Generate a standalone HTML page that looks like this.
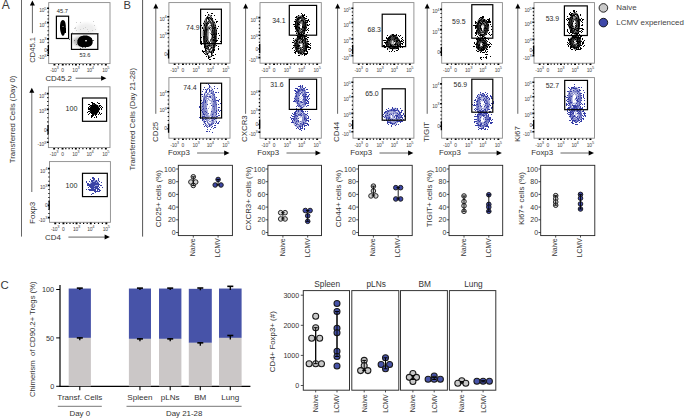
<!DOCTYPE html><html><head><meta charset="utf-8"><style>html,body{margin:0;padding:0;background:#fff;overflow:hidden}svg{display:block}text{font-family:"Liberation Sans",sans-serif}</style></head><body><svg width="685" height="418" viewBox="0 0 685 418" font-family="Liberation Sans, sans-serif"><rect width="685" height="418" fill="#fff"/><text x="1.70" y="8.90" font-size="12.0" fill="#3a3a3a">A</text><text x="123.60" y="8.70" font-size="11.2" fill="#3a3a3a">B</text><text x="0.50" y="288.50" font-size="11.4" fill="#3a3a3a">C</text><path d="M21.50 0.00L21.50 236.60" stroke="#666" stroke-width="1"/><text x="15.30" y="119.40" font-size="7.85" text-anchor="middle" fill="#333" transform="rotate(-90 15.30 119.40)">Transferred Cells (Day 0)</text><rect x="48.70" y="2.60" width="61.30" height="61.00" fill="none" stroke="#8a8a8a" stroke-width="0.9"/><path d="M53.5 63.9h1.9v1.6h-1.9zM61.8 63.9h1.9v1.6h-1.9zM75.0 63.9h1.9v1.6h-1.9zM89.3 63.9h1.9v1.6h-1.9zM104.9 63.9h1.9v1.6h-1.9zM58.0 64.0h1.2v1.2h-1.2zM65.4 64.0h1.2v1.2h-1.2zM68.7 64.0h1.2v1.2h-1.2zM72.0 64.0h1.2v1.2h-1.2zM78.9 64.0h1.2v1.2h-1.2zM82.5 64.0h1.2v1.2h-1.2zM86.0 64.0h1.2v1.2h-1.2zM93.5 64.0h1.2v1.2h-1.2zM97.4 64.0h1.2v1.2h-1.2zM101.3 64.0h1.2v1.2h-1.2zM47.1 7.5h1.9v1.6h-1.9zM47.1 21.8h1.9v1.6h-1.9zM47.1 38.1h1.9v1.6h-1.9zM47.1 49.3h1.9v1.6h-1.9zM47.1 54.4h1.9v1.6h-1.9zM47.5 11.4h1.2v1.1h-1.2zM47.5 14.9h1.2v1.1h-1.2zM47.5 18.5h1.2v1.1h-1.2zM47.5 26.2h1.2v1.1h-1.2zM47.5 30.2h1.2v1.1h-1.2zM47.5 34.3h1.2v1.1h-1.2zM47.5 42.1h1.2v1.1h-1.2zM47.5 45.9h1.2v1.1h-1.2zM47.5 52.2h1.2v1.1h-1.2zM47.7 45.1h1.3v9h-1.3z" fill="#000"/><defs><filter id="bl" x="-20%" y="-20%" width="140%" height="140%"><feGaussianBlur stdDeviation="0.55"/></filter><filter id="bl2" x="-30%" y="-30%" width="160%" height="160%"><feGaussianBlur stdDeviation="1.6"/></filter></defs><ellipse cx="86" cy="29" rx="10" ry="6" fill="#eeeeee" filter="url(#bl2)"/><path d="M76 30h1v1h-1zM94 25h1v1h-1zM75 28h1v1h-1zM90 33h1v1h-1zM76 22h1v1h-1zM92 30h1v1h-1zM98 33h1v1h-1zM85 27h1v1h-1zM80 22h1v1h-1zM87 29h1v1h-1zM83 28h1v1h-1zM88 31h1v1h-1zM95 29h1v1h-1zM72 32h1v1h-1zM75 27h1v1h-1zM74 28h1v1h-1zM80 29h1v1h-1zM93 21h1v1h-1z" fill="#d0d0d0"/><path d="M79 44h1v1h-1zM80 43h1v1h-1zM82 38h1v1h-1zM85 39h1v1h-1zM93 40h1v1h-1zM85 42h1v1h-1zM87 39h1v1h-1zM87 41h1v1h-1zM89 44h1v1h-1zM82 39h1v1h-1zM86 43h1v1h-1zM92 40h1v1h-1zM85 43h1v1h-1zM83 42h1v1h-1zM82 39h1v1h-1zM74 40h1v1h-1zM85 47h1v1h-1zM87 45h1v1h-1zM86 44h1v1h-1zM82 44h1v1h-1zM93 40h1v1h-1zM83 45h1v1h-1zM87 38h1v1h-1zM82 44h1v1h-1zM82 38h1v1h-1zM80 43h1v1h-1zM88 44h1v1h-1zM81 46h1v1h-1zM76 44h1v1h-1zM88 40h1v1h-1zM83 43h1v1h-1zM91 38h1v1h-1zM81 44h1v1h-1zM88 38h1v1h-1zM78 42h1v1h-1zM82 47h1v1h-1zM80 48h1v1h-1zM77 40h1v1h-1zM86 46h1v1h-1zM85 43h1v1h-1zM69 39h1v1h-1zM77 40h1v1h-1zM85 40h1v1h-1zM86 42h1v1h-1zM79 42h1v1h-1z" fill="#666"/><path d="M63 32h1v1h-1zM62 28h1v1h-1zM65 28h1v1h-1zM62 23h1v1h-1zM63 29h1v1h-1zM65 29h1v1h-1zM61 29h1v1h-1zM64 31h1v1h-1zM63 22h1v1h-1zM62 34h1v1h-1zM61 32h1v1h-1zM64 24h1v1h-1zM62 26h1v1h-1zM61 26h1v1h-1zM65 31h1v1h-1zM63 24h1v1h-1zM63 23h1v1h-1zM65 32h1v1h-1zM65 30h1v1h-1zM62 29h1v1h-1z" fill="#000"/><g filter="url(#bl)"><ellipse cx="81.5" cy="41.5" rx="8.5" ry="5" fill="#999" opacity="0.7" filter="url(#bl2)"/><path d="M62.9 20.0C65.3 20.0 65.9 24 65.8 28C65.6 32 64.1 35.8 62.9 35.8C61.7 35.8 60.2 32 60.0 28C59.9 24 60.5 20.0 62.9 20.0Z" fill="#000"/><path d="M77.3 42.5C77.3 37.5 81 35.6 85.2 35.6C89.6 35.6 92.7 38 92.7 42C92.7 45.5 89.5 47.2 85 47.2C80.5 47.2 77.3 46 77.3 42.5Z" fill="#000"/><ellipse cx="63" cy="26.5" rx="0.5" ry="0.5" fill="#fff"/><ellipse cx="86" cy="40.8" rx="1.0" ry="0.7" fill="#fff"/></g><rect x="56.40" y="16.20" width="12.20" height="22.30" fill="none" stroke="#000" stroke-width="1.2"/><rect x="71.50" y="33.80" width="26.30" height="15.60" fill="none" stroke="#000" stroke-width="1.2"/><text x="62.40" y="13.10" font-size="5.7" text-anchor="middle" fill="#2a2a2a">45.7</text><text x="85.00" y="56.70" font-size="5.7" text-anchor="middle" fill="#2a2a2a">53.6</text><text x="46.40" y="12.35" font-size="4.9" text-anchor="end" fill="#444" letter-spacing="-0.2">10<tspan dy="-2.7" font-size="4.02">5</tspan></text><text x="46.40" y="26.65" font-size="4.9" text-anchor="end" fill="#444" letter-spacing="-0.2">10<tspan dy="-2.7" font-size="4.02">4</tspan></text><text x="46.40" y="42.95" font-size="4.9" text-anchor="end" fill="#444" letter-spacing="-0.2">10<tspan dy="-2.7" font-size="4.02">3</tspan></text><text x="47.00" y="51.85" font-size="4.9" text-anchor="end" fill="#444">0</text><text x="46.40" y="59.25" font-size="4.9" text-anchor="end" fill="#444" letter-spacing="-0.2">-10<tspan dy="-2.7" font-size="4.02">3</tspan></text><text x="54.40" y="72.10" font-size="4.9" text-anchor="middle" fill="#444" letter-spacing="-0.2">-10<tspan dy="-2.7" font-size="4.02">3</tspan></text><text x="62.74" y="72.10" font-size="4.9" text-anchor="middle" fill="#444">0</text><text x="75.92" y="72.10" font-size="4.9" text-anchor="middle" fill="#444" letter-spacing="-0.2">10<tspan dy="-2.7" font-size="4.02">3</tspan></text><text x="90.20" y="72.10" font-size="4.9" text-anchor="middle" fill="#444" letter-spacing="-0.2">10<tspan dy="-2.7" font-size="4.02">4</tspan></text><text x="105.83" y="72.10" font-size="4.9" text-anchor="middle" fill="#444" letter-spacing="-0.2">10<tspan dy="-2.7" font-size="4.02">5</tspan></text><path d="M32.40 4.60L32.40 33.20" stroke="#555" stroke-width="0.9"/><path d="M29.90 5.60L32.40 0.60L34.90 5.60Z" fill="#000"/><text x="35.00" y="49.80" font-size="7.6" text-anchor="middle" fill="#333" transform="rotate(-90 35.00 49.80)">CD45.1</text><text x="45.40" y="81.00" font-size="7.85" fill="#333">CD45.2</text><path d="M75.60 78.20L102.40 78.20" stroke="#555" stroke-width="0.9"/><path d="M101.10 75.70L106.40 78.20L101.10 80.70Z" fill="#000"/><rect x="48.40" y="86.80" width="61.60" height="60.80" fill="none" stroke="#8a8a8a" stroke-width="0.9"/><path d="M53.2 147.9h1.9v1.6h-1.9zM61.6 147.9h1.9v1.6h-1.9zM74.9 147.9h1.9v1.6h-1.9zM89.2 147.9h1.9v1.6h-1.9zM104.9 147.9h1.9v1.6h-1.9zM57.7 148.0h1.2v1.2h-1.2zM65.2 148.0h1.2v1.2h-1.2zM68.5 148.0h1.2v1.2h-1.2zM71.8 148.0h1.2v1.2h-1.2zM78.7 148.0h1.2v1.2h-1.2zM82.3 148.0h1.2v1.2h-1.2zM85.9 148.0h1.2v1.2h-1.2zM93.4 148.0h1.2v1.2h-1.2zM97.4 148.0h1.2v1.2h-1.2zM101.3 148.0h1.2v1.2h-1.2zM46.8 92.8h1.9v1.6h-1.9zM46.8 108.6h1.9v1.6h-1.9zM46.8 129.3h1.9v1.6h-1.9zM46.8 141.5h1.9v1.6h-1.9zM47.2 97.1h1.2v1.1h-1.2zM47.2 101.0h1.2v1.1h-1.2zM47.2 105.0h1.2v1.1h-1.2zM47.2 113.0h1.2v1.1h-1.2zM47.2 117.2h1.2v1.1h-1.2zM47.2 121.3h1.2v1.1h-1.2zM47.2 125.5h1.2v1.1h-1.2zM47.2 133.7h1.2v1.1h-1.2zM47.2 137.7h1.2v1.1h-1.2zM47.4 125.1h1.3v9h-1.3z" fill="#000"/><path d="M93 105h1v1h-1zM88 104h1v1h-1zM94 110h1v1h-1zM93 114h1v1h-1zM95 111h1v1h-1zM99 106h1v1h-1zM87 112h1v1h-1zM92 114h1v1h-1zM96 113h1v1h-1zM97 102h1v1h-1zM97 107h1v1h-1zM92 108h1v1h-1zM97 112h1v1h-1zM98 103h1v1h-1zM94 111h1v1h-1zM92 110h1v1h-1zM95 113h1v1h-1zM91 106h1v1h-1zM92 116h1v1h-1zM98 109h1v1h-1zM95 110h1v1h-1zM95 109h1v1h-1zM93 105h1v1h-1zM92 115h1v1h-1zM96 110h1v1h-1zM94 110h1v1h-1zM96 107h1v1h-1zM95 110h1v1h-1zM92 106h1v1h-1zM91 105h1v1h-1zM93 107h1v1h-1zM92 110h1v1h-1zM98 110h1v1h-1zM94 107h1v1h-1zM94 113h1v1h-1zM93 105h1v1h-1zM90 105h1v1h-1zM89 113h1v1h-1zM96 108h1v1h-1zM100 107h1v1h-1zM97 112h1v1h-1zM89 104h1v1h-1zM91 113h1v1h-1zM99 105h1v1h-1zM98 108h1v1h-1zM93 107h1v1h-1zM93 103h1v1h-1zM91 105h1v1h-1zM96 117h1v1h-1zM88 108h1v1h-1zM91 116h1v1h-1zM96 107h1v1h-1zM98 111h1v1h-1zM88 107h1v1h-1zM93 109h1v1h-1zM95 108h1v1h-1zM95 107h1v1h-1zM91 115h1v1h-1zM96 111h1v1h-1zM89 109h1v1h-1zM97 105h1v1h-1zM98 108h1v1h-1zM96 109h1v1h-1zM95 114h1v1h-1zM93 115h1v1h-1zM91 106h1v1h-1zM97 105h1v1h-1zM93 113h1v1h-1zM99 103h1v1h-1zM96 116h1v1h-1zM99 108h1v1h-1zM92 108h1v1h-1zM90 108h1v1h-1zM94 109h1v1h-1zM99 108h1v1h-1zM89 113h1v1h-1zM90 108h1v1h-1zM94 108h1v1h-1zM91 108h1v1h-1zM102 107h1v1h-1zM94 113h1v1h-1zM97 112h1v1h-1zM97 102h1v1h-1zM91 110h1v1h-1zM96 114h1v1h-1zM96 108h1v1h-1zM94 109h1v1h-1zM95 112h1v1h-1zM93 106h1v1h-1zM91 113h1v1h-1zM99 113h1v1h-1zM97 112h1v1h-1zM94 112h1v1h-1zM91 109h1v1h-1zM92 112h1v1h-1zM92 109h1v1h-1zM96 114h1v1h-1zM91 106h1v1h-1zM97 105h1v1h-1zM96 107h1v1h-1zM94 103h1v1h-1zM97 107h1v1h-1zM91 117h1v1h-1zM96 108h1v1h-1zM95 115h1v1h-1zM94 111h1v1h-1zM96 106h1v1h-1zM95 107h1v1h-1zM90 112h1v1h-1zM97 110h1v1h-1zM91 102h1v1h-1zM96 109h1v1h-1zM88 109h1v1h-1zM89 109h1v1h-1zM95 111h1v1h-1zM95 110h1v1h-1zM90 108h1v1h-1zM92 108h1v1h-1zM95 112h1v1h-1zM96 109h1v1h-1zM88 111h1v1h-1zM92 113h1v1h-1zM91 109h1v1h-1zM94 109h1v1h-1zM92 103h1v1h-1zM96 113h1v1h-1zM94 106h1v1h-1zM95 111h1v1h-1zM94 109h1v1h-1zM99 105h1v1h-1zM92 102h1v1h-1zM92 107h1v1h-1zM91 107h1v1h-1zM101 109h1v1h-1zM94 117h1v1h-1zM94 103h1v1h-1zM96 106h1v1h-1zM100 105h1v1h-1zM92 104h1v1h-1zM95 106h1v1h-1zM94 108h1v1h-1zM92 113h1v1h-1zM98 110h1v1h-1zM91 105h1v1h-1zM93 106h1v1h-1zM92 105h1v1h-1zM91 109h1v1h-1zM99 109h1v1h-1zM92 103h1v1h-1zM95 109h1v1h-1zM90 105h1v1h-1zM94 113h1v1h-1zM97 110h1v1h-1zM93 110h1v1h-1zM94 117h1v1h-1zM90 108h1v1h-1zM99 108h1v1h-1zM99 109h1v1h-1zM95 108h1v1h-1zM89 106h1v1h-1zM96 113h1v1h-1zM96 113h1v1h-1zM93 108h1v1h-1zM98 108h1v1h-1zM90 108h1v1h-1zM92 112h1v1h-1zM92 105h1v1h-1zM93 115h1v1h-1zM94 110h1v1h-1zM94 110h1v1h-1zM98 114h1v1h-1zM88 114h1v1h-1zM94 108h1v1h-1zM101 113h1v1h-1zM91 111h1v1h-1zM97 109h1v1h-1zM94 105h1v1h-1zM101 108h1v1h-1zM93 108h1v1h-1zM91 107h1v1h-1zM95 110h1v1h-1zM92 109h1v1h-1zM89 111h1v1h-1zM92 110h1v1h-1zM91 107h1v1h-1zM95 105h1v1h-1zM94 107h1v1h-1zM100 114h1v1h-1zM95 104h1v1h-1zM92 112h1v1h-1zM92 105h1v1h-1zM90 107h1v1h-1zM94 107h1v1h-1zM101 106h1v1h-1zM96 110h1v1h-1zM94 113h1v1h-1zM93 108h1v1h-1zM93 109h1v1h-1zM99 112h1v1h-1zM89 108h1v1h-1z" fill="#000"/><ellipse cx="94.5" cy="109.3" rx="4.9" ry="5.4" fill="#000"/><rect x="82.50" y="98.00" width="24.10" height="23.30" fill="none" stroke="#000" stroke-width="1.2"/><text x="71.40" y="110.80" font-size="7.2" text-anchor="middle" fill="#2a2a2a">100</text><text x="46.10" y="97.65" font-size="4.9" text-anchor="end" fill="#444" letter-spacing="-0.2">10<tspan dy="-2.7" font-size="4.02">4</tspan></text><text x="46.10" y="113.45" font-size="4.9" text-anchor="end" fill="#444" letter-spacing="-0.2">10<tspan dy="-2.7" font-size="4.02">3</tspan></text><text x="46.70" y="131.85" font-size="4.9" text-anchor="end" fill="#444">0</text><text x="46.10" y="146.35" font-size="4.9" text-anchor="end" fill="#444" letter-spacing="-0.2">-10<tspan dy="-2.7" font-size="4.02">3</tspan></text><text x="54.13" y="155.70" font-size="4.9" text-anchor="middle" fill="#444" letter-spacing="-0.2">-10<tspan dy="-2.7" font-size="4.02">3</tspan></text><text x="62.51" y="155.70" font-size="4.9" text-anchor="middle" fill="#444">0</text><text x="75.75" y="155.70" font-size="4.9" text-anchor="middle" fill="#444" letter-spacing="-0.2">10<tspan dy="-2.7" font-size="4.02">3</tspan></text><text x="90.10" y="155.70" font-size="4.9" text-anchor="middle" fill="#444" letter-spacing="-0.2">10<tspan dy="-2.7" font-size="4.02">4</tspan></text><text x="105.81" y="155.70" font-size="4.9" text-anchor="middle" fill="#444" letter-spacing="-0.2">10<tspan dy="-2.7" font-size="4.02">5</tspan></text><rect x="49.50" y="161.60" width="60.90" height="60.70" fill="none" stroke="#8a8a8a" stroke-width="0.9"/><path d="M54.3 222.6h1.9v1.6h-1.9zM62.5 222.6h1.9v1.6h-1.9zM75.6 222.6h1.9v1.6h-1.9zM89.8 222.6h1.9v1.6h-1.9zM105.4 222.6h1.9v1.6h-1.9zM58.7 222.7h1.2v1.2h-1.2zM66.1 222.7h1.2v1.2h-1.2zM69.4 222.7h1.2v1.2h-1.2zM72.7 222.7h1.2v1.2h-1.2zM79.5 222.7h1.2v1.2h-1.2zM83.0 222.7h1.2v1.2h-1.2zM86.6 222.7h1.2v1.2h-1.2zM94.0 222.7h1.2v1.2h-1.2zM97.9 222.7h1.2v1.2h-1.2zM101.8 222.7h1.2v1.2h-1.2zM47.9 167.8h1.9v1.6h-1.9zM47.9 184.6h1.9v1.6h-1.9zM47.9 204.6h1.9v1.6h-1.9zM47.9 216.8h1.9v1.6h-1.9zM48.3 172.3h1.2v1.1h-1.2zM48.3 176.5h1.2v1.1h-1.2zM48.3 180.7h1.2v1.1h-1.2zM48.3 188.9h1.2v1.1h-1.2zM48.3 192.9h1.2v1.1h-1.2zM48.3 196.9h1.2v1.1h-1.2zM48.3 200.9h1.2v1.1h-1.2zM48.3 209.0h1.2v1.1h-1.2zM48.3 213.0h1.2v1.1h-1.2zM48.5 200.4h1.3v9h-1.3z" fill="#000"/><ellipse cx="94.4" cy="184.4" rx="5" ry="4.2" fill="#6a72c4" opacity="0.7" transform="rotate(-35 94.4 184.4)"/><path d="M91 188h1v1h-1zM94 189h1v1h-1zM93 178h1v1h-1zM95 186h1v1h-1zM96 180h1v1h-1zM94 183h1v1h-1zM91 187h1v1h-1zM95 182h1v1h-1zM91 190h1v1h-1zM93 177h1v1h-1zM90 187h1v1h-1zM100 190h1v1h-1zM95 186h1v1h-1zM90 184h1v1h-1zM92 182h1v1h-1zM94 184h1v1h-1zM95 191h1v1h-1zM96 187h1v1h-1zM93 180h1v1h-1zM93 187h1v1h-1zM90 190h1v1h-1zM92 187h1v1h-1zM92 181h1v1h-1zM97 183h1v1h-1zM95 182h1v1h-1zM92 189h1v1h-1zM101 182h1v1h-1zM94 189h1v1h-1zM91 188h1v1h-1zM91 188h1v1h-1zM95 190h1v1h-1zM95 181h1v1h-1zM96 181h1v1h-1zM96 191h1v1h-1zM96 183h1v1h-1zM98 186h1v1h-1zM89 184h1v1h-1zM99 184h1v1h-1zM94 184h1v1h-1zM87 183h1v1h-1zM95 186h1v1h-1zM93 177h1v1h-1zM98 188h1v1h-1zM97 190h1v1h-1zM92 183h1v1h-1zM95 192h1v1h-1zM87 184h1v1h-1zM91 187h1v1h-1zM99 184h1v1h-1zM89 185h1v1h-1zM93 179h1v1h-1zM97 183h1v1h-1zM96 180h1v1h-1zM98 180h1v1h-1zM98 178h1v1h-1zM99 184h1v1h-1zM88 184h1v1h-1zM95 182h1v1h-1zM92 186h1v1h-1zM92 187h1v1h-1zM95 189h1v1h-1zM97 186h1v1h-1zM98 189h1v1h-1zM94 183h1v1h-1zM97 187h1v1h-1zM86 181h1v1h-1zM95 186h1v1h-1zM95 188h1v1h-1zM94 191h1v1h-1zM91 184h1v1h-1zM95 188h1v1h-1zM97 191h1v1h-1zM92 190h1v1h-1zM95 181h1v1h-1zM93 193h1v1h-1zM97 184h1v1h-1zM91 186h1v1h-1zM95 182h1v1h-1zM89 185h1v1h-1zM92 183h1v1h-1zM98 186h1v1h-1zM89 190h1v1h-1zM92 180h1v1h-1zM95 187h1v1h-1zM92 188h1v1h-1zM97 182h1v1h-1zM93 190h1v1h-1zM97 191h1v1h-1zM101 185h1v1h-1zM98 179h1v1h-1zM96 187h1v1h-1zM93 184h1v1h-1zM89 186h1v1h-1zM98 184h1v1h-1zM96 183h1v1h-1zM95 181h1v1h-1zM95 184h1v1h-1zM95 183h1v1h-1zM89 184h1v1h-1zM98 191h1v1h-1zM92 188h1v1h-1zM96 187h1v1h-1zM88 187h1v1h-1zM90 190h1v1h-1zM97 188h1v1h-1zM96 180h1v1h-1zM97 186h1v1h-1zM93 183h1v1h-1zM90 184h1v1h-1zM94 183h1v1h-1zM91 183h1v1h-1zM90 189h1v1h-1zM93 189h1v1h-1zM89 189h1v1h-1zM93 188h1v1h-1zM93 182h1v1h-1zM98 184h1v1h-1zM93 182h1v1h-1zM94 184h1v1h-1zM95 187h1v1h-1zM91 180h1v1h-1zM95 189h1v1h-1zM96 181h1v1h-1zM96 187h1v1h-1zM95 187h1v1h-1zM92 186h1v1h-1zM97 183h1v1h-1zM88 185h1v1h-1zM94 178h1v1h-1zM91 188h1v1h-1zM93 186h1v1h-1zM89 189h1v1h-1zM100 185h1v1h-1zM91 181h1v1h-1zM97 186h1v1h-1zM91 190h1v1h-1zM97 188h1v1h-1zM87 185h1v1h-1zM96 181h1v1h-1zM97 191h1v1h-1zM98 183h1v1h-1zM91 189h1v1h-1zM97 190h1v1h-1zM98 185h1v1h-1zM92 178h1v1h-1zM92 183h1v1h-1zM96 187h1v1h-1zM88 183h1v1h-1zM91 189h1v1h-1zM99 191h1v1h-1zM89 184h1v1h-1zM91 184h1v1h-1zM96 181h1v1h-1zM99 190h1v1h-1zM92 193h1v1h-1zM94 190h1v1h-1zM95 183h1v1h-1zM92 185h1v1h-1zM96 186h1v1h-1zM92 183h1v1h-1zM91 180h1v1h-1zM90 189h1v1h-1zM94 185h1v1h-1zM95 189h1v1h-1zM96 188h1v1h-1zM91 184h1v1h-1zM91 185h1v1h-1zM90 184h1v1h-1zM93 184h1v1h-1zM93 183h1v1h-1zM99 184h1v1h-1zM90 186h1v1h-1zM89 181h1v1h-1zM94 179h1v1h-1zM98 179h1v1h-1zM90 187h1v1h-1zM86 182h1v1h-1zM89 185h1v1h-1zM86 189h1v1h-1zM93 186h1v1h-1zM92 177h1v1h-1zM93 180h1v1h-1zM94 182h1v1h-1zM92 184h1v1h-1zM97 188h1v1h-1zM90 185h1v1h-1zM99 187h1v1h-1zM91 185h1v1h-1zM92 189h1v1h-1zM94 187h1v1h-1zM90 179h1v1h-1zM88 189h1v1h-1zM95 191h1v1h-1zM86 182h1v1h-1zM99 189h1v1h-1zM97 189h1v1h-1zM94 185h1v1h-1zM94 189h1v1h-1zM93 187h1v1h-1zM99 181h1v1h-1zM91 187h1v1h-1zM93 185h1v1h-1zM102 187h1v1h-1zM92 189h1v1h-1zM91 186h1v1h-1zM91 194h1v1h-1zM96 184h1v1h-1zM95 182h1v1h-1zM91 186h1v1h-1zM95 190h1v1h-1z" fill="#3a42a6"/><rect x="82.50" y="173.30" width="24.80" height="23.30" fill="none" stroke="#000" stroke-width="1.2"/><text x="71.40" y="187.60" font-size="7.2" text-anchor="middle" fill="#2a2a2a">100</text><text x="47.20" y="172.65" font-size="4.9" text-anchor="end" fill="#444" letter-spacing="-0.2">10<tspan dy="-2.7" font-size="4.02">4</tspan></text><text x="47.20" y="189.45" font-size="4.9" text-anchor="end" fill="#444" letter-spacing="-0.2">10<tspan dy="-2.7" font-size="4.02">3</tspan></text><text x="47.80" y="207.15" font-size="4.9" text-anchor="end" fill="#444">0</text><text x="47.20" y="221.65" font-size="4.9" text-anchor="end" fill="#444" letter-spacing="-0.2">-10<tspan dy="-2.7" font-size="4.02">3</tspan></text><text x="55.16" y="230.90" font-size="4.9" text-anchor="middle" fill="#444" letter-spacing="-0.2">-10<tspan dy="-2.7" font-size="4.02">3</tspan></text><text x="63.45" y="230.90" font-size="4.9" text-anchor="middle" fill="#444">0</text><text x="76.54" y="230.90" font-size="4.9" text-anchor="middle" fill="#444" letter-spacing="-0.2">10<tspan dy="-2.7" font-size="4.02">3</tspan></text><text x="90.73" y="230.90" font-size="4.9" text-anchor="middle" fill="#444" letter-spacing="-0.2">10<tspan dy="-2.7" font-size="4.02">4</tspan></text><text x="106.26" y="230.90" font-size="4.9" text-anchor="middle" fill="#444" letter-spacing="-0.2">10<tspan dy="-2.7" font-size="4.02">5</tspan></text><path d="M31.80 91.70L31.80 192.00" stroke="#555" stroke-width="0.9"/><path d="M29.30 92.70L31.80 87.70L34.30 92.70Z" fill="#000"/><text x="35.40" y="212.80" font-size="8.0" text-anchor="middle" fill="#333" transform="rotate(-90 35.40 212.80)">Foxp3</text><text x="45.00" y="240.40" font-size="7.9" fill="#333">CD4</text><path d="M68.40 237.10L105.90 237.10" stroke="#555" stroke-width="0.9"/><path d="M104.60 234.60L109.90 237.10L104.60 239.60Z" fill="#000"/><path d="M142.60 0.00L142.60 236.60" stroke="#555" stroke-width="1"/><text x="135.40" y="119.20" font-size="7.78" text-anchor="middle" fill="#333" transform="rotate(-90 135.40 119.20)">Transferred Cells (Day 21-28)</text><rect x="168.90" y="2.60" width="61.10" height="60.60" fill="none" stroke="#8a8a8a" stroke-width="0.9"/><path d="M173.7 63.5h1.9v1.6h-1.9zM182.0 63.5h1.9v1.6h-1.9zM195.1 63.5h1.9v1.6h-1.9zM209.4 63.5h1.9v1.6h-1.9zM224.9 63.5h1.9v1.6h-1.9zM178.1 63.6h1.2v1.2h-1.2zM185.6 63.6h1.2v1.2h-1.2zM188.9 63.6h1.2v1.2h-1.2zM192.1 63.6h1.2v1.2h-1.2zM199.0 63.6h1.2v1.2h-1.2zM202.5 63.6h1.2v1.2h-1.2zM206.1 63.6h1.2v1.2h-1.2zM213.6 63.6h1.2v1.2h-1.2zM217.5 63.6h1.2v1.2h-1.2zM221.4 63.6h1.2v1.2h-1.2zM167.3 15.9h1.9v1.6h-1.9zM167.3 32.7h1.9v1.6h-1.9zM167.3 53.6h1.9v1.6h-1.9zM167.7 19.6h1.2v1.1h-1.2zM167.7 22.9h1.2v1.1h-1.2zM167.7 26.3h1.2v1.1h-1.2zM167.7 29.6h1.2v1.1h-1.2zM167.7 37.2h1.2v1.1h-1.2zM167.7 41.4h1.2v1.1h-1.2zM167.7 45.5h1.2v1.1h-1.2zM167.7 49.7h1.2v1.1h-1.2zM167.9 49.4h1.3v9h-1.3z" fill="#000"/><path d="M213 58h1v1h-1zM216 41h1v1h-1zM209 17h1v1h-1zM217 21h1v1h-1zM208 19h1v1h-1zM207 12h1v1h-1zM204 41h1v1h-1zM211 54h1v1h-1zM208 19h1v1h-1zM213 52h1v1h-1zM205 15h1v1h-1zM204 51h1v1h-1zM216 21h1v1h-1zM211 54h1v1h-1zM218 26h1v1h-1zM208 57h1v1h-1zM218 49h1v1h-1zM202 43h1v1h-1zM204 32h1v1h-1zM204 25h1v1h-1zM210 59h1v1h-1zM216 45h1v1h-1zM210 18h1v1h-1zM208 56h1v1h-1zM214 58h1v1h-1zM216 34h1v1h-1zM201 41h1v1h-1zM203 52h1v1h-1zM203 36h1v1h-1zM202 28h1v1h-1zM204 53h1v1h-1zM211 15h1v1h-1zM200 35h1v1h-1zM207 17h1v1h-1zM216 30h1v1h-1zM211 19h1v1h-1zM204 24h1v1h-1zM201 44h1v1h-1zM212 13h1v1h-1zM211 56h1v1h-1zM211 56h1v1h-1zM204 36h1v1h-1zM203 23h1v1h-1zM201 25h1v1h-1zM213 51h1v1h-1zM218 38h1v1h-1zM203 43h1v1h-1zM209 59h1v1h-1zM218 46h1v1h-1zM202 27h1v1h-1zM212 18h1v1h-1zM214 50h1v1h-1zM217 40h1v1h-1zM204 21h1v1h-1zM209 57h1v1h-1zM218 48h1v1h-1zM213 51h1v1h-1zM215 54h1v1h-1zM214 15h1v1h-1zM217 43h1v1h-1zM205 49h1v1h-1zM216 33h1v1h-1zM201 37h1v1h-1zM216 34h1v1h-1zM201 42h1v1h-1zM217 40h1v1h-1zM215 25h1v1h-1zM204 47h1v1h-1zM204 43h1v1h-1zM220 41h1v1h-1zM211 13h1v1h-1zM211 53h1v1h-1zM203 30h1v1h-1zM200 41h1v1h-1zM205 50h1v1h-1zM218 33h1v1h-1zM217 40h1v1h-1zM206 23h1v1h-1zM205 54h1v1h-1zM215 19h1v1h-1zM216 22h1v1h-1zM202 50h1v1h-1zM203 51h1v1h-1zM211 54h1v1h-1zM213 55h1v1h-1zM213 50h1v1h-1zM212 55h1v1h-1zM207 54h1v1h-1zM219 35h1v1h-1zM214 22h1v1h-1zM205 46h1v1h-1zM207 18h1v1h-1zM209 51h1v1h-1zM213 52h1v1h-1zM202 51h1v1h-1zM208 18h1v1h-1zM206 48h1v1h-1zM217 28h1v1h-1zM211 13h1v1h-1zM215 27h1v1h-1zM207 53h1v1h-1zM218 48h1v1h-1zM206 56h1v1h-1zM204 34h1v1h-1zM204 46h1v1h-1zM216 40h1v1h-1zM205 27h1v1h-1zM207 54h1v1h-1zM204 31h1v1h-1zM208 18h1v1h-1zM208 14h1v1h-1zM214 49h1v1h-1zM208 58h1v1h-1zM204 46h1v1h-1zM214 22h1v1h-1z" fill="#000"/><path d="M209 45h1v1h-1zM210 39h1v1h-1zM215 38h1v1h-1zM213 34h1v1h-1zM211 52h1v1h-1zM212 30h1v1h-1zM209 32h1v1h-1zM206 40h1v1h-1zM213 39h1v1h-1zM208 47h1v1h-1zM209 42h1v1h-1zM206 43h1v1h-1zM213 49h1v1h-1zM210 40h1v1h-1zM208 45h1v1h-1zM213 47h1v1h-1zM208 23h1v1h-1zM210 33h1v1h-1zM207 42h1v1h-1zM213 40h1v1h-1zM214 40h1v1h-1zM206 29h1v1h-1zM208 43h1v1h-1zM213 37h1v1h-1zM214 27h1v1h-1zM209 51h1v1h-1zM211 47h1v1h-1zM207 46h1v1h-1zM206 25h1v1h-1zM206 41h1v1h-1zM213 28h1v1h-1zM211 34h1v1h-1zM213 45h1v1h-1zM208 45h1v1h-1zM212 35h1v1h-1zM211 43h1v1h-1zM209 28h1v1h-1zM215 36h1v1h-1z" fill="#000"/><path d="M216.3 35.5L216.1 39.6L215.5 43.3L214.6 46.2L213.8 49.2L212.9 51.7L211.9 55.0L210.5 57.2L209.1 55.8L207.7 55.0L206.2 54.3L205.6 49.6L204.7 46.8L204.2 43.1L203.8 39.4L203.2 35.5L203.2 31.2L204.0 27.6L204.1 23.0L205.2 19.9L206.4 17.6L207.9 17.3L209.2 17.6L210.4 16.8L211.6 18.3L212.7 20.2L213.9 21.6L215.1 23.8L215.8 27.4L216.6 31.1ZM215.7 35.5L215.7 39.3L215.3 43.0L215.0 47.0L213.5 48.1L212.6 50.3L211.6 52.3L210.4 52.4L209.2 52.1L207.8 54.2L206.4 53.2L205.7 49.2L204.8 46.6L204.1 43.2L203.7 39.4L204.2 35.5L204.2 31.9L204.9 28.9L204.9 24.7L205.8 22.1L206.7 19.1L207.7 16.0L209.1 15.0L210.5 15.7L211.7 18.1L212.6 20.7L213.6 22.5L214.4 25.3L215.4 27.9L216.0 31.5ZM215.6 35.5L215.9 39.4L215.1 42.7L214.3 45.4L213.2 47.1L212.5 49.7L211.5 51.7L210.4 52.6L209.3 50.9L208.0 52.5L206.9 51.0L205.7 49.5L205.0 46.1L204.1 43.2L203.9 39.3L204.9 35.5L204.5 32.1L205.3 29.4L205.7 26.5L206.1 23.0L206.7 19.2L207.8 16.6L209.2 18.3L210.4 18.3L211.4 20.6L212.5 21.4L213.3 23.8L213.9 26.3L214.6 29.0L215.6 31.7ZM214.5 35.5L214.7 38.7L214.8 42.3L214.5 45.9L213.9 49.2L212.6 50.0L211.5 51.6L210.3 51.2L209.3 51.2L208.4 48.6L207.5 47.7L206.6 46.3L205.2 45.7L204.9 42.1L204.3 39.1L204.5 35.5L204.7 32.2L205.5 29.6L205.8 26.6L206.8 25.2L207.3 22.3L208.3 21.3L209.3 20.0L210.4 18.7L211.5 19.4L212.5 21.2L213.2 24.1L213.7 26.9L214.6 29.0L214.4 32.5ZM214.6 35.5L214.9 38.8L214.9 42.5L213.8 44.3L213.3 47.3L212.1 47.8L211.2 48.4L210.3 49.8L209.3 49.2L208.4 48.4L207.3 48.9L206.2 47.6L205.5 45.1L205.3 41.6L204.7 38.8L204.8 35.5L205.0 32.4L205.7 30.0L205.9 26.8L206.5 24.2L207.4 22.8L208.3 21.5L209.3 20.4L210.3 20.8L211.2 22.2L212.1 23.4L213.0 24.8L213.3 27.7L214.0 29.8L214.1 32.7ZM215.0 35.5L214.2 38.3L214.1 41.3L213.6 43.9L212.8 45.6L212.0 46.9L211.1 47.3L210.3 49.2L209.3 49.9L208.3 49.7L207.2 49.2L206.8 45.8L205.8 44.4L205.8 40.9L205.5 38.3L205.8 35.5L205.5 32.7L206.2 30.6L206.1 27.3L206.8 25.3L207.4 23.0L208.3 21.8L209.3 21.0L210.3 21.3L211.1 23.5L211.9 24.3L212.5 26.3L213.1 28.1L214.2 29.6L214.3 32.6ZM213.8 35.5L214.1 38.3L213.5 40.6L213.3 43.2L212.5 44.6L211.8 45.8L210.9 45.5L210.2 45.8L209.4 46.2L208.6 46.7L207.7 46.3L207.2 44.5L206.3 43.2L206.1 40.6L206.0 37.9L206.0 35.5L205.9 33.0L206.6 31.2L206.6 28.3L207.2 26.8L207.6 24.1L208.6 23.9L209.3 21.6L210.2 23.0L211.1 23.1L211.6 26.0L212.2 27.3L212.9 28.7L213.1 31.1L213.5 33.1ZM213.2 35.5L212.8 37.4L212.6 39.3L212.4 41.4L212.3 44.1L211.5 44.6L211.0 46.3L210.2 46.2L209.4 46.1L208.8 44.5L208.2 44.0L207.6 43.1L207.1 41.6L206.7 39.7L206.4 37.7L206.1 35.5L206.4 33.3L206.4 30.8L206.9 29.2L207.6 28.2L208.2 27.0L208.8 26.6L209.5 26.0L210.1 25.8L210.9 25.1L211.6 25.8L212.3 27.2L212.5 29.5L213.0 31.2L213.0 33.4ZM212.5 35.5L212.5 37.2L212.0 38.5L211.9 40.2L211.8 42.2L211.3 43.4L210.7 43.8L210.1 44.8L209.5 44.9L209.0 43.4L208.4 42.9L208.2 40.9L207.6 40.4L207.4 38.7L207.2 37.2L206.8 35.5L206.8 33.6L206.9 31.6L207.3 30.1L207.9 29.0L208.5 28.5L208.9 27.5L209.6 28.4L210.1 27.1L210.7 27.3L211.2 28.2L211.9 28.5L212.2 30.2L212.5 31.9L212.7 33.6ZM212.0 35.5L212.1 37.0L211.7 38.1L211.5 39.3L211.2 40.3L210.8 40.6L210.4 40.9L210.0 41.9L209.6 42.3L209.1 42.2L208.7 41.5L208.2 41.0L207.9 39.6L208.0 38.0L207.9 36.7L208.0 35.5L208.0 34.4L208.0 33.1L208.0 31.5L208.2 30.2L208.7 29.8L209.1 29.2L209.6 28.9L210.0 28.7L210.4 29.5L210.8 30.0L211.0 31.4L211.6 31.6L211.6 33.0L212.0 34.1Z" fill="none" stroke="#000" stroke-width="0.75"/><ellipse cx="209.80" cy="35.50" rx="0.83" ry="6.24" fill="#fff" opacity="0.85"/><rect x="200.60" y="9.20" width="20.80" height="34.40" fill="none" stroke="#000" stroke-width="1.2"/><text x="192.80" y="29.80" font-size="6.9" text-anchor="middle" fill="#2a2a2a">74.9</text><rect x="168.90" y="77.60" width="61.10" height="60.60" fill="none" stroke="#8a8a8a" stroke-width="0.9"/><path d="M173.7 138.5h1.9v1.6h-1.9zM182.0 138.5h1.9v1.6h-1.9zM195.1 138.5h1.9v1.6h-1.9zM209.4 138.5h1.9v1.6h-1.9zM224.9 138.5h1.9v1.6h-1.9zM178.1 138.6h1.2v1.2h-1.2zM185.6 138.6h1.2v1.2h-1.2zM188.9 138.6h1.2v1.2h-1.2zM192.1 138.6h1.2v1.2h-1.2zM199.0 138.6h1.2v1.2h-1.2zM202.5 138.6h1.2v1.2h-1.2zM206.1 138.6h1.2v1.2h-1.2zM213.6 138.6h1.2v1.2h-1.2zM217.5 138.6h1.2v1.2h-1.2zM221.4 138.6h1.2v1.2h-1.2zM167.3 90.9h1.9v1.6h-1.9zM167.3 107.4h1.9v1.6h-1.9zM167.3 127.9h1.9v1.6h-1.9zM167.7 95.3h1.2v1.1h-1.2zM167.7 99.5h1.2v1.1h-1.2zM167.7 103.6h1.2v1.1h-1.2zM167.7 111.8h1.2v1.1h-1.2zM167.7 115.9h1.2v1.1h-1.2zM167.7 120.0h1.2v1.1h-1.2zM167.7 124.1h1.2v1.1h-1.2zM167.9 123.7h1.3v9h-1.3z" fill="#000"/><path d="M216 92h1v1h-1zM213 128h1v1h-1zM203 114h1v1h-1zM205 123h1v1h-1zM204 94h1v1h-1zM202 94h1v1h-1zM213 123h1v1h-1zM207 89h1v1h-1zM214 119h1v1h-1zM218 100h1v1h-1zM205 121h1v1h-1zM219 107h1v1h-1zM209 89h1v1h-1zM206 126h1v1h-1zM215 125h1v1h-1zM200 118h1v1h-1zM202 118h1v1h-1zM199 106h1v1h-1zM204 126h1v1h-1zM210 129h1v1h-1zM207 131h1v1h-1zM207 131h1v1h-1zM206 90h1v1h-1zM217 100h1v1h-1zM209 86h1v1h-1zM203 113h1v1h-1zM203 116h1v1h-1zM199 117h1v1h-1zM207 129h1v1h-1zM206 92h1v1h-1zM203 116h1v1h-1zM216 97h1v1h-1zM202 117h1v1h-1zM214 86h1v1h-1zM202 96h1v1h-1zM218 122h1v1h-1zM216 118h1v1h-1zM203 124h1v1h-1zM206 91h1v1h-1zM218 92h1v1h-1zM219 111h1v1h-1zM202 111h1v1h-1zM202 112h1v1h-1zM205 89h1v1h-1zM220 103h1v1h-1zM218 107h1v1h-1zM214 88h1v1h-1zM206 83h1v1h-1zM217 116h1v1h-1zM202 120h1v1h-1zM212 132h1v1h-1zM212 126h1v1h-1zM215 123h1v1h-1zM209 91h1v1h-1zM214 127h1v1h-1zM202 91h1v1h-1zM209 131h1v1h-1zM208 84h1v1h-1zM216 121h1v1h-1zM220 110h1v1h-1zM219 99h1v1h-1zM218 110h1v1h-1zM201 103h1v1h-1zM217 123h1v1h-1zM207 127h1v1h-1zM216 122h1v1h-1zM214 119h1v1h-1zM202 106h1v1h-1zM211 90h1v1h-1zM204 116h1v1h-1zM211 127h1v1h-1zM201 100h1v1h-1zM214 94h1v1h-1zM214 94h1v1h-1zM218 104h1v1h-1zM202 119h1v1h-1zM217 88h1v1h-1zM204 116h1v1h-1zM215 127h1v1h-1zM209 85h1v1h-1zM214 125h1v1h-1zM216 110h1v1h-1zM206 131h1v1h-1zM203 89h1v1h-1zM218 113h1v1h-1zM216 116h1v1h-1zM218 123h1v1h-1zM205 125h1v1h-1zM204 87h1v1h-1zM218 101h1v1h-1zM199 107h1v1h-1zM203 119h1v1h-1zM209 90h1v1h-1zM204 122h1v1h-1zM201 110h1v1h-1zM202 116h1v1h-1zM219 115h1v1h-1zM218 115h1v1h-1zM202 102h1v1h-1zM211 124h1v1h-1zM204 121h1v1h-1zM202 109h1v1h-1zM209 87h1v1h-1zM218 109h1v1h-1zM216 104h1v1h-1zM201 94h1v1h-1zM203 124h1v1h-1zM204 121h1v1h-1zM202 94h1v1h-1zM206 126h1v1h-1zM200 105h1v1h-1zM216 113h1v1h-1zM209 126h1v1h-1zM212 89h1v1h-1zM215 92h1v1h-1zM207 129h1v1h-1zM219 121h1v1h-1zM213 91h1v1h-1z" fill="#343ca6"/><path d="M211 93h1v1h-1zM216 114h1v1h-1zM215 112h1v1h-1zM209 106h1v1h-1zM216 100h1v1h-1zM209 107h1v1h-1zM209 96h1v1h-1zM211 105h1v1h-1zM210 96h1v1h-1zM210 97h1v1h-1zM205 111h1v1h-1zM212 114h1v1h-1zM209 103h1v1h-1zM207 96h1v1h-1zM211 111h1v1h-1zM211 118h1v1h-1zM208 108h1v1h-1zM206 112h1v1h-1zM203 108h1v1h-1zM215 118h1v1h-1zM212 120h1v1h-1zM211 117h1v1h-1zM212 116h1v1h-1zM205 100h1v1h-1zM205 117h1v1h-1zM212 99h1v1h-1zM205 101h1v1h-1zM213 106h1v1h-1zM209 100h1v1h-1zM209 125h1v1h-1zM207 104h1v1h-1zM205 119h1v1h-1zM204 114h1v1h-1zM213 101h1v1h-1zM206 108h1v1h-1zM210 103h1v1h-1zM216 111h1v1h-1zM205 102h1v1h-1zM208 113h1v1h-1z" fill="#343ca6"/><path d="M216.6 107.5L216.9 111.9L215.9 115.4L215.9 120.4L214.3 122.3L212.9 124.0L211.6 125.7L210.2 126.0L208.9 124.2L207.4 125.6L206.0 124.2L204.4 123.3L203.1 120.5L202.4 116.3L202.4 111.7L201.8 107.5L202.6 103.4L203.7 100.3L204.0 96.3L204.9 93.4L206.2 91.7L207.4 89.2L208.8 88.3L210.3 86.4L211.7 88.5L213.0 90.8L213.9 93.9L214.5 97.5L215.4 100.2L215.7 103.9ZM216.2 107.5L216.1 111.4L215.8 115.3L214.2 117.0L213.7 120.6L212.7 122.7L211.4 124.0L210.2 125.3L208.8 126.7L207.4 125.9L205.9 124.6L204.7 122.4L204.0 118.6L204.1 114.2L204.1 110.7L203.1 107.5L203.7 104.0L203.4 99.9L204.3 97.0L204.9 93.3L206.1 91.1L207.3 88.9L208.8 88.3L210.1 90.4L211.4 91.5L212.4 93.6L213.4 95.4L215.0 96.3L215.3 100.4L216.7 103.2ZM214.6 107.5L215.2 110.9L214.2 113.3L214.2 117.0L213.3 119.3L212.9 123.7L211.4 123.8L210.2 125.8L208.9 123.0L207.7 123.1L207.0 119.8L206.2 117.8L205.0 116.6L203.8 114.5L203.4 111.1L202.9 107.5L203.0 103.7L203.8 100.4L205.0 98.3L205.7 95.6L206.9 95.0L207.8 93.1L208.9 92.6L210.1 91.6L211.3 92.2L212.7 91.9L213.7 94.5L214.5 97.3L214.6 101.1L215.1 104.2ZM215.1 107.5L214.4 110.4L213.7 112.7L213.4 115.4L212.9 118.0L212.3 121.1L211.4 123.5L210.1 124.5L208.9 124.2L207.7 122.9L206.8 120.7L205.9 118.5L205.9 114.8L205.0 113.1L204.3 110.6L203.9 107.5L203.9 104.2L204.2 100.9L204.6 97.6L206.1 97.0L206.9 95.0L207.8 93.3L209.0 95.0L210.0 94.6L211.2 92.9L212.4 93.4L213.0 96.6L213.8 98.7L214.9 100.8L215.0 104.3ZM214.1 107.5L214.0 110.1L213.6 112.6L212.7 113.9L212.3 116.0L211.9 119.3L211.1 121.3L210.0 122.0L209.0 121.0L208.1 119.9L207.3 118.3L206.8 115.8L205.9 114.8L205.7 112.2L205.1 110.1L204.8 107.5L204.9 104.7L204.8 101.7L205.5 99.4L206.4 98.0L207.1 95.8L208.2 96.6L209.1 96.4L209.9 96.1L210.9 95.8L211.9 95.7L212.7 97.7L213.4 99.7L214.1 101.8L214.0 104.8ZM213.2 107.5L213.3 109.7L212.6 111.3L212.3 113.1L211.9 114.9L211.4 116.6L210.8 118.6L209.9 119.3L209.0 119.4L208.3 118.1L207.7 116.1L207.0 115.4L206.8 113.0L206.4 111.4L205.9 109.6L205.3 107.5L205.6 105.2L205.8 102.9L206.0 100.3L206.6 98.6L207.6 98.5L208.4 98.5L209.1 97.2L209.9 97.1L210.6 97.9L211.5 97.7L212.2 99.2L212.8 100.9L213.3 102.8L213.6 105.1ZM212.6 107.5L212.0 109.0L212.0 110.6L211.6 111.8L211.2 112.8L211.0 115.0L210.4 115.1L209.8 115.8L209.1 116.8L208.5 116.3L207.9 115.2L207.7 113.2L207.1 112.3L207.2 110.4L206.7 109.2L206.4 107.5L206.7 105.8L206.8 104.1L206.9 102.2L207.3 100.7L208.0 100.1L208.6 99.4L209.2 100.0L209.8 100.2L210.3 100.6L210.9 100.8L211.7 100.8L211.9 102.7L212.3 104.1L212.5 105.7Z" fill="none" stroke="#343ca6" stroke-width="0.6"/><ellipse cx="209.50" cy="107.50" rx="1.12" ry="7.41" fill="#fff" opacity="0.85"/><rect x="200.60" y="83.20" width="21.00" height="34.80" fill="none" stroke="#000" stroke-width="1.2"/><text x="190.00" y="89.60" font-size="6.9" text-anchor="middle" fill="#2a2a2a">74.4</text><text x="166.50" y="20.75" font-size="4.9" text-anchor="end" fill="#444" letter-spacing="-0.2">10<tspan dy="-2.7" font-size="4.02">4</tspan></text><text x="166.50" y="37.55" font-size="4.9" text-anchor="end" fill="#444" letter-spacing="-0.2">10<tspan dy="-2.7" font-size="4.02">3</tspan></text><text x="167.10" y="56.15" font-size="4.9" text-anchor="end" fill="#444">0</text><text x="166.50" y="95.75" font-size="4.9" text-anchor="end" fill="#444" letter-spacing="-0.2">10<tspan dy="-2.7" font-size="4.02">4</tspan></text><text x="166.50" y="112.25" font-size="4.9" text-anchor="end" fill="#444" letter-spacing="-0.2">10<tspan dy="-2.7" font-size="4.02">3</tspan></text><text x="167.10" y="130.45" font-size="4.9" text-anchor="end" fill="#444">0</text><text x="174.58" y="72.10" font-size="4.9" text-anchor="middle" fill="#444" letter-spacing="-0.2">-10<tspan dy="-2.7" font-size="4.02">3</tspan></text><text x="182.89" y="72.10" font-size="4.9" text-anchor="middle" fill="#444">0</text><text x="196.03" y="72.10" font-size="4.9" text-anchor="middle" fill="#444" letter-spacing="-0.2">10<tspan dy="-2.7" font-size="4.02">3</tspan></text><text x="210.26" y="72.10" font-size="4.9" text-anchor="middle" fill="#444" letter-spacing="-0.2">10<tspan dy="-2.7" font-size="4.02">4</tspan></text><text x="225.85" y="72.10" font-size="4.9" text-anchor="middle" fill="#444" letter-spacing="-0.2">10<tspan dy="-2.7" font-size="4.02">5</tspan></text><text x="174.58" y="146.50" font-size="4.9" text-anchor="middle" fill="#444" letter-spacing="-0.2">-10<tspan dy="-2.7" font-size="4.02">3</tspan></text><text x="182.89" y="146.50" font-size="4.9" text-anchor="middle" fill="#444">0</text><text x="196.03" y="146.50" font-size="4.9" text-anchor="middle" fill="#444" letter-spacing="-0.2">10<tspan dy="-2.7" font-size="4.02">3</tspan></text><text x="210.26" y="146.50" font-size="4.9" text-anchor="middle" fill="#444" letter-spacing="-0.2">10<tspan dy="-2.7" font-size="4.02">4</tspan></text><text x="225.85" y="146.50" font-size="4.9" text-anchor="middle" fill="#444" letter-spacing="-0.2">10<tspan dy="-2.7" font-size="4.02">5</tspan></text><path d="M155.80 7.60L155.80 113.80" stroke="#555" stroke-width="0.9"/><path d="M153.30 8.60L155.80 3.60L158.30 8.60Z" fill="#000"/><text x="157.60" y="142.00" font-size="7.9" fill="#333" transform="rotate(-90 157.60 142.00)">CD25</text><text x="167.90" y="155.00" font-size="7.9" fill="#333">Foxp3</text><path d="M197.10 153.00L225.50 153.00" stroke="#555" stroke-width="0.9"/><path d="M224.20 150.50L229.50 153.00L224.20 155.50Z" fill="#000"/><rect x="260.00" y="2.60" width="61.30" height="60.60" fill="none" stroke="#8a8a8a" stroke-width="0.9"/><path d="M264.8 63.5h1.9v1.6h-1.9zM273.1 63.5h1.9v1.6h-1.9zM286.3 63.5h1.9v1.6h-1.9zM300.6 63.5h1.9v1.6h-1.9zM316.2 63.5h1.9v1.6h-1.9zM269.3 63.6h1.2v1.2h-1.2zM276.7 63.6h1.2v1.2h-1.2zM280.0 63.6h1.2v1.2h-1.2zM283.3 63.6h1.2v1.2h-1.2zM290.2 63.6h1.2v1.2h-1.2zM293.8 63.6h1.2v1.2h-1.2zM297.3 63.6h1.2v1.2h-1.2zM304.8 63.6h1.2v1.2h-1.2zM308.7 63.6h1.2v1.2h-1.2zM312.6 63.6h1.2v1.2h-1.2zM258.4 16.8h1.9v1.6h-1.9zM258.4 34.5h1.9v1.6h-1.9zM258.4 48.2h1.9v1.6h-1.9zM258.4 56.8h1.9v1.6h-1.9zM258.8 20.6h1.2v1.1h-1.2zM258.8 24.2h1.2v1.1h-1.2zM258.8 27.7h1.2v1.1h-1.2zM258.8 31.3h1.2v1.1h-1.2zM258.8 38.2h1.2v1.1h-1.2zM258.8 41.7h1.2v1.1h-1.2zM258.8 45.1h1.2v1.1h-1.2zM258.8 51.4h1.2v1.1h-1.2zM258.8 54.2h1.2v1.1h-1.2zM259.0 44.0h1.3v9h-1.3z" fill="#000"/><path d="M307 29h1v1h-1zM303 33h1v1h-1zM294 24h1v1h-1zM294 21h1v1h-1zM293 24h1v1h-1zM306 30h1v1h-1zM306 30h1v1h-1zM301 13h1v1h-1zM295 26h1v1h-1zM297 35h1v1h-1zM299 37h1v1h-1zM307 24h1v1h-1zM295 19h1v1h-1zM295 28h1v1h-1zM309 21h1v1h-1zM308 28h1v1h-1zM297 30h1v1h-1zM304 33h1v1h-1zM300 17h1v1h-1zM306 27h1v1h-1zM303 16h1v1h-1zM297 18h1v1h-1zM303 33h1v1h-1zM299 33h1v1h-1zM300 37h1v1h-1zM296 33h1v1h-1zM297 19h1v1h-1zM296 35h1v1h-1zM295 21h1v1h-1zM295 23h1v1h-1zM297 37h1v1h-1zM302 38h1v1h-1zM306 16h1v1h-1zM304 35h1v1h-1zM307 25h1v1h-1zM304 36h1v1h-1zM301 36h1v1h-1zM305 36h1v1h-1zM300 34h1v1h-1zM298 17h1v1h-1zM295 22h1v1h-1zM307 21h1v1h-1zM297 31h1v1h-1zM295 26h1v1h-1zM294 21h1v1h-1zM296 28h1v1h-1zM294 26h1v1h-1zM296 16h1v1h-1zM300 36h1v1h-1zM307 32h1v1h-1zM302 38h1v1h-1zM303 17h1v1h-1zM306 20h1v1h-1zM295 31h1v1h-1zM307 22h1v1h-1zM295 27h1v1h-1zM304 17h1v1h-1zM298 33h1v1h-1zM302 38h1v1h-1zM304 14h1v1h-1zM307 20h1v1h-1zM303 15h1v1h-1zM304 15h1v1h-1zM304 36h1v1h-1zM299 34h1v1h-1zM305 22h1v1h-1zM295 25h1v1h-1zM303 15h1v1h-1zM308 19h1v1h-1zM298 19h1v1h-1zM298 19h1v1h-1zM309 24h1v1h-1zM299 34h1v1h-1zM298 15h1v1h-1zM308 25h1v1h-1zM306 34h1v1h-1zM308 30h1v1h-1zM302 14h1v1h-1zM306 18h1v1h-1zM307 22h1v1h-1zM295 26h1v1h-1zM298 32h1v1h-1zM305 36h1v1h-1zM302 37h1v1h-1zM302 15h1v1h-1zM295 25h1v1h-1zM300 34h1v1h-1zM296 17h1v1h-1zM306 22h1v1h-1zM308 20h1v1h-1zM299 38h1v1h-1zM295 17h1v1h-1zM302 16h1v1h-1zM300 36h1v1h-1zM296 26h1v1h-1zM305 18h1v1h-1z" fill="#000"/><path d="M296 27h1v1h-1zM301 29h1v1h-1zM299 24h1v1h-1zM300 28h1v1h-1zM304 27h1v1h-1zM299 22h1v1h-1zM299 28h1v1h-1zM303 30h1v1h-1zM299 17h1v1h-1zM297 23h1v1h-1zM301 33h1v1h-1zM305 26h1v1h-1zM303 27h1v1h-1zM298 24h1v1h-1zM300 17h1v1h-1zM298 19h1v1h-1zM298 27h1v1h-1zM304 30h1v1h-1zM302 27h1v1h-1zM300 34h1v1h-1zM299 27h1v1h-1zM297 29h1v1h-1zM301 20h1v1h-1zM298 19h1v1h-1zM300 25h1v1h-1zM300 23h1v1h-1zM304 28h1v1h-1zM302 26h1v1h-1zM298 30h1v1h-1zM303 21h1v1h-1zM298 23h1v1h-1zM302 26h1v1h-1z" fill="#000"/><path d="M306.3 25.8L306.5 28.0L305.6 29.8L304.8 31.2L304.0 32.4L303.4 34.2L302.3 34.3L301.4 36.0L300.2 36.3L299.1 35.8L298.0 34.7L297.1 33.3L296.6 31.5L296.3 29.5L295.9 27.7L296.0 25.8L296.0 23.9L295.7 21.6L296.3 19.8L297.0 18.0L297.8 16.2L299.1 16.1L300.3 16.3L301.4 15.9L302.4 16.5L303.4 17.6L304.1 19.0L305.2 19.9L306.1 21.5L306.2 23.7ZM305.7 25.8L305.4 27.6L305.3 29.5L304.8 31.2L304.4 33.2L303.4 34.1L302.5 35.6L301.3 35.4L300.2 35.6L299.4 33.8L298.4 33.4L298.0 31.6L297.0 30.9L296.0 29.8L295.8 27.7L295.3 25.8L295.8 23.8L296.2 22.0L296.5 20.0L297.8 19.7L298.3 17.9L299.5 18.3L300.3 16.9L301.4 16.1L302.5 16.1L303.4 17.3L304.4 18.4L305.1 20.0L305.5 21.9L305.6 23.9ZM305.1 25.8L305.2 27.5L304.8 29.1L304.4 30.6L304.1 32.6L303.1 33.1L302.4 35.0L301.3 34.8L300.3 35.2L299.2 34.7L298.6 32.7L297.9 31.8L297.3 30.5L296.8 29.1L296.5 27.5L295.9 25.8L295.6 23.8L296.1 21.9L296.9 20.6L297.5 19.0L298.6 18.7L299.5 18.7L300.3 17.8L301.3 17.8L302.2 17.6L303.4 17.5L304.2 18.9L305.1 20.0L305.2 22.2L305.6 23.9ZM305.2 25.8L305.5 27.6L305.2 29.4L304.7 31.0L303.7 31.7L302.8 32.3L302.0 32.7L301.2 33.2L300.4 32.7L299.5 33.2L298.5 33.2L297.8 31.9L297.1 30.8L296.4 29.4L296.2 27.6L296.8 25.8L297.1 24.3L297.4 23.0L297.7 21.7L297.8 19.6L298.5 18.3L299.4 17.9L300.3 17.2L301.3 17.1L302.1 18.6L303.0 18.7L303.7 19.9L303.9 21.7L304.7 22.6L305.1 24.1ZM305.3 25.8L304.7 27.3L304.4 28.8L303.8 29.8L303.3 30.8L302.8 32.1L302.0 32.7L301.2 33.5L300.3 34.2L299.5 33.1L298.7 32.4L298.0 31.6L297.8 29.9L297.1 28.9L297.3 27.2L297.1 25.8L297.0 24.3L296.9 22.6L297.1 20.9L297.8 19.7L298.8 19.2L299.5 18.7L300.4 18.3L301.2 19.2L302.0 18.8L302.8 19.4L303.3 20.7L304.0 21.4L304.5 22.7L305.2 24.1ZM304.7 25.8L304.4 27.2L304.6 29.0L304.0 30.1L303.4 31.1L302.5 31.2L301.8 31.4L301.1 31.9L300.4 32.7L299.7 32.3L298.8 32.2L298.3 30.9L297.7 29.9L297.4 28.6L297.0 27.3L297.4 25.8L297.5 24.5L297.6 23.2L297.9 21.9L298.5 21.0L298.9 19.8L299.6 19.1L300.4 18.4L301.2 18.7L302.0 19.3L302.5 20.2L303.0 21.2L303.4 22.2L303.7 23.4L304.2 24.5ZM303.8 25.8L303.6 26.9L303.7 28.2L303.3 29.2L303.0 30.3L302.5 31.1L302.0 32.4L301.2 32.6L300.4 32.3L299.8 31.8L299.2 31.0L298.8 30.0L298.4 29.0L298.0 28.1L297.6 27.1L297.4 25.8L297.3 24.4L297.6 23.1L297.9 21.9L298.5 21.0L299.3 21.0L299.9 20.9L300.5 20.4L301.1 20.5L301.9 19.8L302.5 20.2L303.1 21.1L303.5 22.1L304.1 23.1L304.2 24.5ZM303.5 25.8L303.4 26.8L303.2 27.8L303.0 28.8L302.8 29.8L302.4 30.9L301.8 31.5L301.1 31.6L300.5 31.3L300.0 30.2L299.6 29.8L298.9 29.6L298.6 28.7L298.2 27.9L298.0 26.9L297.6 25.8L297.8 24.6L297.9 23.4L298.7 22.9L298.8 21.8L299.6 22.0L300.0 21.5L300.5 21.0L301.1 20.6L301.6 21.0L302.3 20.9L303.0 21.4L303.2 22.6L303.5 23.6L303.5 24.7ZM302.9 25.8L302.9 26.6L302.9 27.5L302.6 28.2L302.2 28.8L302.0 29.6L301.6 30.1L301.1 30.2L300.5 30.3L300.1 29.9L299.8 29.0L299.5 28.6L299.1 28.1L298.9 27.3L298.7 26.6L298.3 25.8L298.5 24.9L298.4 23.8L298.8 23.2L299.4 22.8L299.7 22.2L300.2 22.2L300.6 21.7L301.0 21.7L301.5 21.7L301.9 22.3L302.3 22.7L302.9 23.0L302.9 24.1L302.9 25.0ZM302.5 25.8L302.6 26.5L302.6 27.3L302.3 27.8L302.0 28.2L301.7 28.7L301.3 28.5L301.0 28.8L300.6 28.8L300.2 29.0L300.0 28.4L299.5 28.4L299.3 27.8L299.0 27.3L299.1 26.5L299.0 25.8L299.3 25.2L299.3 24.6L299.4 23.9L299.7 23.6L299.9 23.1L300.2 22.3L300.6 22.2L301.0 22.6L301.3 22.8L301.6 23.2L301.9 23.6L302.2 23.9L302.3 24.5L302.6 25.1Z" fill="none" stroke="#000" stroke-width="0.75"/><ellipse cx="300.80" cy="25.80" rx="0.69" ry="3.14" fill="#fff" opacity="0.85"/><path d="M297 36h1v1h-1zM295 52h1v1h-1zM295 45h1v1h-1zM294 45h1v1h-1zM295 43h1v1h-1zM310 47h1v1h-1zM296 51h1v1h-1zM306 53h1v1h-1zM307 41h1v1h-1zM293 45h1v1h-1zM302 35h1v1h-1zM301 53h1v1h-1zM300 37h1v1h-1zM305 39h1v1h-1zM304 53h1v1h-1zM306 36h1v1h-1zM301 34h1v1h-1zM300 38h1v1h-1zM304 38h1v1h-1zM304 51h1v1h-1zM310 47h1v1h-1zM296 50h1v1h-1zM310 48h1v1h-1zM293 38h1v1h-1zM307 47h1v1h-1zM300 53h1v1h-1zM306 50h1v1h-1zM297 39h1v1h-1zM305 53h1v1h-1zM296 50h1v1h-1zM294 41h1v1h-1zM295 51h1v1h-1zM309 47h1v1h-1zM303 53h1v1h-1zM310 45h1v1h-1zM295 40h1v1h-1zM292 42h1v1h-1zM306 51h1v1h-1zM299 36h1v1h-1zM298 34h1v1h-1zM308 47h1v1h-1zM299 55h1v1h-1zM303 35h1v1h-1zM307 41h1v1h-1zM294 52h1v1h-1zM302 37h1v1h-1zM310 43h1v1h-1zM306 38h1v1h-1zM293 38h1v1h-1zM307 39h1v1h-1zM308 37h1v1h-1zM305 36h1v1h-1zM307 43h1v1h-1zM294 50h1v1h-1zM307 53h1v1h-1zM309 49h1v1h-1zM300 53h1v1h-1zM296 40h1v1h-1zM292 48h1v1h-1zM308 44h1v1h-1zM295 53h1v1h-1zM304 55h1v1h-1zM304 54h1v1h-1zM298 51h1v1h-1zM307 45h1v1h-1zM298 52h1v1h-1zM309 44h1v1h-1zM309 49h1v1h-1zM302 54h1v1h-1zM299 34h1v1h-1zM308 41h1v1h-1zM298 53h1v1h-1zM298 55h1v1h-1zM293 47h1v1h-1zM306 54h1v1h-1zM307 43h1v1h-1zM296 40h1v1h-1zM308 47h1v1h-1zM305 54h1v1h-1zM293 40h1v1h-1zM307 43h1v1h-1zM306 49h1v1h-1zM292 48h1v1h-1zM298 36h1v1h-1zM305 38h1v1h-1zM307 51h1v1h-1zM308 46h1v1h-1zM307 46h1v1h-1zM308 49h1v1h-1zM307 52h1v1h-1zM304 37h1v1h-1zM307 52h1v1h-1zM300 34h1v1h-1zM293 42h1v1h-1zM307 37h1v1h-1zM308 43h1v1h-1zM302 35h1v1h-1z" fill="#000"/><path d="M300 45h1v1h-1zM298 45h1v1h-1zM297 41h1v1h-1zM300 45h1v1h-1zM304 50h1v1h-1zM302 41h1v1h-1zM297 46h1v1h-1zM302 40h1v1h-1zM305 42h1v1h-1zM298 48h1v1h-1zM305 46h1v1h-1zM306 48h1v1h-1zM302 47h1v1h-1zM297 48h1v1h-1zM301 39h1v1h-1zM300 49h1v1h-1zM303 43h1v1h-1zM299 45h1v1h-1zM301 43h1v1h-1zM300 42h1v1h-1zM296 47h1v1h-1zM300 47h1v1h-1zM301 42h1v1h-1zM306 46h1v1h-1zM302 42h1v1h-1zM306 47h1v1h-1zM298 46h1v1h-1zM303 43h1v1h-1zM300 43h1v1h-1zM299 42h1v1h-1zM301 43h1v1h-1zM299 45h1v1h-1z" fill="#000"/><path d="M307.5 44.8L307.0 46.7L306.0 48.0L305.7 49.8L304.9 51.1L304.0 52.4L303.1 54.2L301.7 54.8L300.3 54.1L299.1 53.5L297.9 52.7L297.0 51.3L296.4 49.6L296.1 48.0L295.5 46.5L295.0 44.8L294.2 42.7L294.9 40.8L295.5 39.0L296.8 38.1L298.0 37.3L299.3 37.2L300.4 35.9L301.6 36.3L302.8 37.0L304.3 36.6L305.5 37.6L306.5 39.0L307.3 40.7L307.3 42.8ZM306.9 44.8L306.5 46.5L306.6 48.4L306.0 50.0L305.2 51.5L304.0 52.4L302.9 53.1L301.6 52.7L300.4 52.4L299.2 52.7L298.1 52.1L297.0 51.2L295.9 50.2L295.4 48.4L294.7 46.7L295.1 44.8L295.4 43.1L296.2 41.7L296.4 39.9L297.1 38.6L298.3 38.1L299.3 37.0L300.4 36.6L301.6 36.3L303.0 35.9L304.3 36.6L304.7 38.9L305.4 40.2L306.2 41.5L306.0 43.3ZM306.0 44.8L306.3 46.4L305.9 48.0L305.6 49.6L304.9 51.1L303.8 51.8L302.8 52.7L301.5 51.8L300.5 52.3L299.4 52.1L298.5 51.1L297.6 50.3L296.7 49.3L296.0 48.0L295.0 46.7L295.1 44.8L296.0 43.3L296.2 41.7L296.8 40.4L297.7 39.5L298.6 38.8L299.4 37.4L300.4 36.8L301.7 35.8L302.8 36.8L304.1 37.1L304.9 38.5L305.3 40.3L305.3 42.0L306.2 43.2ZM306.3 44.8L306.0 46.3L305.7 47.8L305.3 49.3L304.2 50.0L303.6 51.4L302.5 51.4L301.5 52.0L300.5 52.3L299.4 52.1L298.3 51.6L297.4 50.7L296.4 49.7L296.0 48.0L296.3 46.3L296.1 44.8L296.5 43.4L296.7 42.0L297.0 40.5L297.5 39.2L298.3 38.1L299.2 36.9L300.4 36.5L301.5 37.6L302.5 38.1L303.2 39.1L304.0 40.0L305.1 40.5L305.3 42.0L305.9 43.3ZM305.8 44.8L305.3 46.1L305.2 47.5L304.4 48.4L304.1 49.9L303.4 50.9L302.4 51.0L301.5 52.1L300.5 51.7L299.4 52.1L298.8 50.4L298.1 49.5L297.3 48.7L297.0 47.4L296.5 46.2L296.4 44.8L296.2 43.3L296.6 42.0L296.9 40.5L297.8 39.6L298.5 38.6L299.7 38.9L300.6 38.9L301.4 38.9L302.4 38.7L303.3 38.9L304.0 40.0L305.4 40.2L305.9 41.6L305.8 43.3ZM305.9 44.8L305.9 46.3L305.0 47.4L304.7 48.7L304.0 49.6L303.2 50.3L302.2 50.0L301.4 50.3L300.6 50.6L299.7 50.7L298.5 51.0L297.7 50.2L297.3 48.7L297.2 47.3L297.0 46.0L297.1 44.8L297.0 43.6L297.1 42.3L297.4 41.0L298.0 40.0L298.7 39.0L299.6 38.4L300.5 38.3L301.5 38.5L302.3 38.8L303.1 39.5L303.6 40.6L304.3 41.3L304.7 42.4L305.1 43.5ZM305.0 44.8L304.5 45.9L304.1 46.8L303.8 47.8L303.6 48.9L302.9 49.6L302.1 49.7L301.4 50.4L300.6 50.6L299.8 50.4L299.1 49.6L298.4 49.0L297.9 48.1L297.8 46.9L297.7 45.8L297.6 44.8L297.6 43.7L297.2 42.3L297.8 41.4L298.1 40.2L298.9 39.5L299.9 39.8L300.6 39.8L301.4 39.8L302.1 39.7L302.9 40.0L303.5 40.8L304.2 41.4L304.7 42.4L305.0 43.6ZM303.9 44.8L304.2 45.8L304.2 46.9L303.8 47.8L303.5 48.9L302.9 49.5L302.0 49.3L301.4 49.9L300.7 49.1L300.0 49.2L299.6 48.4L299.0 48.1L298.4 47.6L297.7 46.9L297.5 45.9L297.6 44.8L297.4 43.7L297.8 42.7L298.5 42.1L299.1 41.8L299.5 41.1L300.1 40.6L300.7 40.1L301.4 39.5L302.1 39.9L302.9 40.1L303.2 41.3L303.6 42.1L304.0 42.9L303.9 43.9ZM303.7 44.8L303.6 45.6L303.5 46.4L303.1 47.1L302.7 47.5L302.2 47.9L301.7 48.1L301.2 48.2L300.7 48.8L300.2 48.6L299.6 48.4L299.1 47.8L298.8 47.1L298.8 46.2L298.6 45.5L298.6 44.8L298.7 44.1L298.8 43.4L298.8 42.5L299.3 42.0L299.5 41.0L300.1 40.9L300.7 40.9L301.3 41.0L301.7 41.6L302.1 41.9L302.7 42.0L303.1 42.6L303.5 43.2L303.7 44.0ZM302.9 44.8L303.0 45.4L302.9 46.0L302.8 46.7L302.5 47.2L302.1 47.6L301.7 47.8L301.2 47.8L300.8 47.7L300.4 47.5L300.0 47.3L299.6 47.0L299.5 46.4L299.0 46.1L298.8 45.5L298.8 44.8L298.7 44.1L299.2 43.6L299.4 43.1L299.7 42.8L300.0 42.2L300.4 42.3L300.8 41.9L301.2 41.9L301.7 41.7L302.1 42.0L302.5 42.4L302.6 43.1L302.9 43.5L302.7 44.3Z" fill="none" stroke="#000" stroke-width="0.75"/><ellipse cx="301.00" cy="44.80" rx="0.81" ry="2.88" fill="#fff" opacity="0.85"/><rect x="289.30" y="5.40" width="27.30" height="29.80" fill="none" stroke="#000" stroke-width="1.2"/><text x="278.90" y="23.00" font-size="6.9" text-anchor="middle" fill="#2a2a2a">34.1</text><rect x="260.00" y="77.60" width="61.30" height="60.60" fill="none" stroke="#8a8a8a" stroke-width="0.9"/><path d="M264.8 138.5h1.9v1.6h-1.9zM273.1 138.5h1.9v1.6h-1.9zM286.3 138.5h1.9v1.6h-1.9zM300.6 138.5h1.9v1.6h-1.9zM316.2 138.5h1.9v1.6h-1.9zM269.3 138.6h1.2v1.2h-1.2zM276.7 138.6h1.2v1.2h-1.2zM280.0 138.6h1.2v1.2h-1.2zM283.3 138.6h1.2v1.2h-1.2zM290.2 138.6h1.2v1.2h-1.2zM293.8 138.6h1.2v1.2h-1.2zM297.3 138.6h1.2v1.2h-1.2zM304.8 138.6h1.2v1.2h-1.2zM308.7 138.6h1.2v1.2h-1.2zM312.6 138.6h1.2v1.2h-1.2zM258.4 90.6h1.9v1.6h-1.9zM258.4 109.2h1.9v1.6h-1.9zM258.4 123.7h1.9v1.6h-1.9zM258.4 131.3h1.9v1.6h-1.9zM258.8 94.6h1.2v1.1h-1.2zM258.8 98.3h1.2v1.1h-1.2zM258.8 102.1h1.2v1.1h-1.2zM258.8 105.8h1.2v1.1h-1.2zM258.8 113.1h1.2v1.1h-1.2zM258.8 116.8h1.2v1.1h-1.2zM258.8 120.4h1.2v1.1h-1.2zM258.8 127.8h1.2v1.1h-1.2zM259.0 119.5h1.3v9h-1.3z" fill="#000"/><path d="M302 109h1v1h-1zM306 89h1v1h-1zM300 106h1v1h-1zM299 86h1v1h-1zM308 102h1v1h-1zM296 96h1v1h-1zM295 99h1v1h-1zM307 105h1v1h-1zM306 94h1v1h-1zM295 101h1v1h-1zM298 90h1v1h-1zM298 106h1v1h-1zM295 99h1v1h-1zM294 90h1v1h-1zM308 92h1v1h-1zM304 90h1v1h-1zM301 108h1v1h-1zM297 89h1v1h-1zM296 108h1v1h-1zM299 105h1v1h-1zM306 102h1v1h-1zM300 85h1v1h-1zM307 100h1v1h-1zM301 110h1v1h-1zM306 92h1v1h-1zM308 105h1v1h-1zM308 96h1v1h-1zM294 100h1v1h-1zM302 87h1v1h-1zM300 108h1v1h-1zM298 89h1v1h-1zM298 91h1v1h-1zM307 96h1v1h-1zM302 110h1v1h-1zM309 94h1v1h-1zM305 87h1v1h-1zM304 88h1v1h-1zM308 103h1v1h-1zM305 87h1v1h-1zM306 100h1v1h-1zM300 87h1v1h-1zM307 89h1v1h-1zM294 101h1v1h-1zM297 88h1v1h-1zM296 106h1v1h-1zM308 103h1v1h-1zM300 86h1v1h-1zM296 100h1v1h-1zM294 101h1v1h-1zM296 95h1v1h-1zM307 98h1v1h-1zM301 107h1v1h-1zM302 107h1v1h-1zM298 86h1v1h-1zM299 90h1v1h-1zM306 89h1v1h-1zM300 87h1v1h-1zM297 105h1v1h-1zM307 103h1v1h-1zM308 101h1v1h-1zM307 92h1v1h-1zM295 90h1v1h-1zM308 95h1v1h-1zM307 97h1v1h-1zM308 99h1v1h-1zM296 88h1v1h-1zM296 91h1v1h-1zM309 98h1v1h-1zM295 88h1v1h-1zM295 91h1v1h-1zM302 85h1v1h-1zM293 101h1v1h-1zM297 102h1v1h-1zM298 106h1v1h-1zM307 97h1v1h-1zM300 109h1v1h-1zM306 103h1v1h-1zM297 103h1v1h-1zM296 92h1v1h-1zM303 88h1v1h-1zM307 96h1v1h-1zM295 96h1v1h-1zM307 98h1v1h-1zM306 92h1v1h-1zM294 98h1v1h-1zM300 108h1v1h-1zM307 101h1v1h-1zM299 109h1v1h-1zM302 86h1v1h-1zM295 91h1v1h-1zM301 89h1v1h-1zM306 106h1v1h-1zM305 87h1v1h-1zM302 89h1v1h-1zM295 93h1v1h-1zM297 92h1v1h-1z" fill="#343ca6"/><path d="M305 96h1v1h-1zM300 99h1v1h-1zM300 94h1v1h-1zM302 102h1v1h-1zM299 95h1v1h-1zM303 96h1v1h-1zM302 95h1v1h-1zM300 97h1v1h-1zM305 104h1v1h-1zM301 98h1v1h-1zM301 96h1v1h-1zM298 98h1v1h-1zM306 99h1v1h-1zM305 99h1v1h-1zM305 94h1v1h-1zM305 103h1v1h-1zM300 93h1v1h-1zM302 90h1v1h-1zM298 101h1v1h-1zM301 102h1v1h-1zM303 94h1v1h-1zM301 92h1v1h-1zM301 98h1v1h-1zM306 96h1v1h-1zM305 97h1v1h-1zM303 99h1v1h-1zM305 100h1v1h-1zM300 101h1v1h-1zM301 101h1v1h-1zM305 99h1v1h-1zM298 100h1v1h-1zM304 96h1v1h-1z" fill="#343ca6"/><path d="M306.0 97.6L305.7 99.5L305.5 101.4L305.6 103.9L305.0 106.1L303.6 106.3L302.7 107.8L301.5 107.0L300.5 107.3L299.4 106.9L298.4 106.0L297.7 104.5L296.9 103.2L295.5 102.2L295.1 100.0L295.0 97.6L295.6 95.4L296.6 93.9L297.0 92.2L297.5 90.3L298.7 90.2L299.5 88.7L300.5 88.3L301.6 86.5L302.7 87.6L303.7 88.9L304.6 90.1L305.0 92.1L305.5 93.8L305.9 95.6ZM305.2 97.6L305.4 99.4L304.9 100.8L304.8 102.8L304.5 105.0L303.5 105.8L302.7 107.5L301.5 106.9L300.5 106.8L299.5 106.5L298.9 104.4L298.0 103.9L297.3 102.7L296.5 101.4L295.8 99.7L295.6 97.6L296.1 95.6L296.5 93.8L297.0 92.1L297.9 91.2L298.7 90.1L299.7 90.1L300.5 88.7L301.5 88.8L302.4 89.2L303.5 89.6L304.8 89.7L305.4 91.6L305.8 93.6L305.6 95.8ZM305.2 97.6L305.7 99.5L305.7 101.5L304.7 102.7L303.9 103.7L303.1 104.5L302.2 104.7L301.5 105.7L300.6 105.4L299.7 105.1L298.9 104.4L297.8 104.2L297.3 102.6L296.9 101.1L296.3 99.5L296.4 97.6L296.6 95.8L297.0 94.3L297.9 93.3L298.3 91.9L298.9 90.8L299.6 89.3L300.5 89.3L301.5 88.1L302.5 89.0L303.4 89.9L303.9 91.6L304.6 92.7L305.0 94.3L305.4 95.9ZM304.5 97.6L304.7 99.1L304.4 100.5L304.6 102.5L303.9 103.7L303.3 105.2L302.3 104.9L301.4 105.1L300.6 105.2L299.8 104.8L299.1 104.0L298.3 103.3L297.5 102.4L297.3 100.7L296.7 99.3L297.0 97.6L296.8 95.9L297.1 94.3L297.9 93.3L298.7 92.7L299.1 91.4L299.9 91.2L300.6 90.1L301.4 90.2L302.3 89.9L303.3 90.2L303.9 91.5L304.4 92.9L304.5 94.7L304.6 96.2ZM304.8 97.6L304.7 99.1L304.4 100.5L303.8 101.5L303.4 102.6L302.6 102.8L301.9 103.1L301.3 103.2L300.7 103.7L300.0 103.4L299.1 103.8L298.5 102.9L297.8 102.0L297.6 100.5L297.7 98.9L297.7 97.6L297.6 96.2L298.0 95.1L298.3 93.9L298.7 92.7L299.3 92.1L299.9 91.2L300.6 90.6L301.4 90.3L302.2 90.7L302.7 92.0L303.1 93.2L303.4 94.3L304.0 95.1L304.3 96.3ZM303.7 97.6L303.8 98.7L303.6 99.8L303.4 100.8L303.2 102.2L302.6 102.8L301.8 102.5L301.3 102.3L300.7 102.7L300.2 102.3L299.6 102.3L298.9 102.0L298.4 101.1L298.2 99.9L297.9 98.8L298.1 97.6L298.1 96.4L298.6 95.6L298.7 94.4L299.1 93.7L299.5 92.7L300.1 92.4L300.7 91.4L301.3 91.6L301.9 92.2L302.5 92.6L302.9 93.7L303.1 94.8L303.3 95.7L303.7 96.5ZM303.3 97.6L303.4 98.6L303.0 99.3L302.8 100.1L302.3 100.4L302.0 100.9L301.7 101.6L301.2 101.9L300.8 102.1L300.2 102.1L299.8 101.6L299.3 101.1L299.1 100.2L299.0 99.3L299.0 98.4L299.0 97.6L298.9 96.8L299.1 96.0L299.1 95.0L299.3 94.1L299.8 93.5L300.3 93.5L300.8 93.6L301.2 93.6L301.6 93.9L302.1 94.1L302.4 94.7L302.8 95.2L303.1 95.8L303.3 96.7Z" fill="none" stroke="#343ca6" stroke-width="0.6"/><ellipse cx="301.00" cy="97.60" rx="0.85" ry="3.80" fill="#fff" opacity="0.85"/><path d="M296 110h1v1h-1zM294 116h1v1h-1zM305 125h1v1h-1zM307 111h1v1h-1zM298 128h1v1h-1zM292 118h1v1h-1zM304 128h1v1h-1zM306 123h1v1h-1zM299 126h1v1h-1zM302 125h1v1h-1zM293 118h1v1h-1zM295 111h1v1h-1zM294 112h1v1h-1zM295 113h1v1h-1zM292 121h1v1h-1zM302 128h1v1h-1zM292 113h1v1h-1zM294 112h1v1h-1zM301 111h1v1h-1zM295 125h1v1h-1zM299 109h1v1h-1zM304 129h1v1h-1zM308 118h1v1h-1zM308 118h1v1h-1zM295 123h1v1h-1zM308 120h1v1h-1zM298 109h1v1h-1zM302 110h1v1h-1zM300 109h1v1h-1zM295 112h1v1h-1zM296 111h1v1h-1zM307 124h1v1h-1zM298 110h1v1h-1zM308 117h1v1h-1zM304 126h1v1h-1zM296 124h1v1h-1zM305 114h1v1h-1zM298 111h1v1h-1zM290 117h1v1h-1zM308 124h1v1h-1zM310 119h1v1h-1zM306 114h1v1h-1zM295 112h1v1h-1zM304 126h1v1h-1zM291 122h1v1h-1zM306 125h1v1h-1zM292 120h1v1h-1zM302 110h1v1h-1zM296 128h1v1h-1zM294 114h1v1h-1zM291 115h1v1h-1zM308 121h1v1h-1zM293 119h1v1h-1zM304 125h1v1h-1zM293 122h1v1h-1zM294 114h1v1h-1zM294 113h1v1h-1zM303 109h1v1h-1zM301 130h1v1h-1zM293 116h1v1h-1zM300 128h1v1h-1zM292 122h1v1h-1zM300 129h1v1h-1zM299 129h1v1h-1zM293 122h1v1h-1zM293 114h1v1h-1zM292 116h1v1h-1zM308 116h1v1h-1zM308 125h1v1h-1zM306 119h1v1h-1zM303 111h1v1h-1zM306 120h1v1h-1zM291 119h1v1h-1zM307 120h1v1h-1zM306 119h1v1h-1zM297 127h1v1h-1zM308 117h1v1h-1zM305 111h1v1h-1zM307 113h1v1h-1zM300 127h1v1h-1zM294 120h1v1h-1zM307 115h1v1h-1zM302 127h1v1h-1zM302 111h1v1h-1zM295 115h1v1h-1zM300 126h1v1h-1zM291 118h1v1h-1zM301 128h1v1h-1zM292 113h1v1h-1zM307 118h1v1h-1zM308 118h1v1h-1zM293 118h1v1h-1zM307 123h1v1h-1zM305 123h1v1h-1zM307 123h1v1h-1zM302 126h1v1h-1z" fill="#343ca6"/><path d="M300 114h1v1h-1zM303 124h1v1h-1zM305 118h1v1h-1zM296 121h1v1h-1zM301 115h1v1h-1zM300 116h1v1h-1zM303 123h1v1h-1zM302 124h1v1h-1zM304 117h1v1h-1zM301 113h1v1h-1zM298 120h1v1h-1zM299 115h1v1h-1zM296 118h1v1h-1zM304 119h1v1h-1zM298 118h1v1h-1zM300 115h1v1h-1zM298 121h1v1h-1zM297 116h1v1h-1zM298 114h1v1h-1zM301 113h1v1h-1zM303 122h1v1h-1zM300 123h1v1h-1zM304 117h1v1h-1zM300 116h1v1h-1zM299 117h1v1h-1zM300 121h1v1h-1zM304 118h1v1h-1zM306 119h1v1h-1zM299 117h1v1h-1zM300 117h1v1h-1zM300 115h1v1h-1zM296 115h1v1h-1z" fill="#343ca6"/><path d="M306.3 118.6L306.3 120.4L306.1 122.3L305.2 123.7L304.0 124.6L303.0 125.6L301.8 126.1L300.6 126.8L299.4 126.9L297.9 127.5L296.6 126.5L295.2 125.8L294.2 124.2L293.9 122.3L293.8 120.4L294.0 118.6L294.3 117.0L294.8 115.5L295.3 114.0L295.5 111.9L296.7 111.0L297.9 109.7L299.3 109.6L300.7 109.9L301.8 110.9L302.8 112.1L303.8 113.0L305.0 113.7L306.1 115.0L306.2 116.8ZM306.2 118.6L305.8 120.3L305.4 121.8L304.6 123.1L303.7 124.2L302.8 125.2L301.8 126.0L300.7 127.0L299.4 126.7L298.1 126.6L296.8 126.0L296.1 124.5L295.1 123.4L295.1 121.6L294.7 120.1L294.6 118.6L294.7 117.1L295.1 115.6L295.2 113.9L295.8 112.4L296.7 110.8L298.2 111.3L299.4 110.4L300.6 110.6L301.7 111.4L302.6 112.6L303.4 113.5L305.0 113.7L305.2 115.5L305.9 116.9ZM305.3 118.6L305.5 120.2L305.4 121.8L304.4 122.9L303.8 124.3L302.6 124.6L301.6 125.1L300.5 125.3L299.5 125.5L298.5 124.7L297.4 124.8L296.6 123.7L295.6 122.9L295.1 121.5L294.4 120.2L294.5 118.6L294.7 117.1L295.5 115.9L295.8 114.4L296.6 113.5L297.4 112.5L298.2 111.3L299.4 111.4L300.6 111.2L301.8 111.3L302.8 112.1L303.7 113.0L304.1 114.5L304.1 116.1L305.2 117.1ZM304.6 118.6L304.7 120.0L304.2 121.1L303.8 122.3L303.0 123.2L302.3 123.9L301.5 124.9L300.5 125.4L299.5 125.4L298.4 125.2L297.7 124.0L297.0 123.1L296.6 121.9L296.3 120.8L295.6 119.9L295.1 118.6L295.2 117.2L295.0 115.6L295.8 114.4L296.5 113.4L297.6 113.1L298.5 112.3L299.5 112.8L300.5 112.3L301.3 113.1L302.5 112.7L303.4 113.5L303.9 114.7L304.9 115.7L304.7 117.3ZM304.3 118.6L304.0 119.7L303.6 120.7L302.9 121.5L302.5 122.4L301.8 122.9L301.3 124.1L300.4 124.3L299.5 124.8L298.6 124.3L297.7 124.1L297.0 123.1L296.7 121.9L296.3 120.8L296.0 119.8L295.8 118.6L296.0 117.5L296.0 116.2L296.6 115.3L297.1 114.2L297.9 113.6L298.7 113.1L299.6 113.7L300.4 113.2L301.1 114.0L301.9 114.1L302.8 114.5L303.7 115.0L304.2 116.1L304.2 117.4ZM303.1 118.6L303.2 119.5L302.9 120.4L303.0 121.5L302.4 122.2L301.8 122.8L301.1 123.3L300.4 123.9L299.6 123.2L299.0 122.7L298.4 122.4L297.8 121.9L297.2 121.4L297.1 120.3L296.6 119.6L296.2 118.6L296.3 117.6L296.5 116.5L297.1 115.7L297.9 115.5L298.5 115.1L299.1 114.7L299.7 114.4L300.3 114.3L301.1 114.2L301.7 114.5L302.3 115.1L303.0 115.7L303.3 116.6L303.1 117.7ZM302.9 118.6L302.6 119.3L302.5 120.1L302.2 120.8L301.7 121.2L301.3 121.7L300.8 121.7L300.3 121.9L299.7 121.9L299.2 121.7L298.6 122.0L298.1 121.4L297.6 121.0L297.6 120.0L297.4 119.3L297.5 118.6L297.7 118.0L297.9 117.4L297.8 116.5L298.1 115.8L298.5 115.1L299.1 114.9L299.7 114.6L300.3 114.8L300.8 115.2L301.2 115.8L301.7 116.1L302.0 116.7L302.4 117.2L302.4 117.9Z" fill="none" stroke="#343ca6" stroke-width="0.6"/><ellipse cx="300.00" cy="118.60" rx="1.01" ry="3.23" fill="#fff" opacity="0.85"/><rect x="289.30" y="79.20" width="27.30" height="30.20" fill="none" stroke="#000" stroke-width="1.2"/><text x="277.00" y="87.30" font-size="6.9" text-anchor="middle" fill="#2a2a2a">31.6</text><text x="257.60" y="21.65" font-size="4.9" text-anchor="end" fill="#444" letter-spacing="-0.2">10<tspan dy="-2.7" font-size="4.02">4</tspan></text><text x="257.60" y="39.35" font-size="4.9" text-anchor="end" fill="#444" letter-spacing="-0.2">10<tspan dy="-2.7" font-size="4.02">3</tspan></text><text x="258.20" y="50.75" font-size="4.9" text-anchor="end" fill="#444">0</text><text x="257.60" y="61.65" font-size="4.9" text-anchor="end" fill="#444" letter-spacing="-0.2">-10<tspan dy="-2.7" font-size="4.02">3</tspan></text><text x="257.60" y="95.45" font-size="4.9" text-anchor="end" fill="#444" letter-spacing="-0.2">10<tspan dy="-2.7" font-size="4.02">4</tspan></text><text x="257.60" y="114.05" font-size="4.9" text-anchor="end" fill="#444" letter-spacing="-0.2">10<tspan dy="-2.7" font-size="4.02">3</tspan></text><text x="258.20" y="126.25" font-size="4.9" text-anchor="end" fill="#444">0</text><text x="257.60" y="136.15" font-size="4.9" text-anchor="end" fill="#444" letter-spacing="-0.2">-10<tspan dy="-2.7" font-size="4.02">3</tspan></text><text x="265.70" y="72.10" font-size="4.9" text-anchor="middle" fill="#444" letter-spacing="-0.2">-10<tspan dy="-2.7" font-size="4.02">3</tspan></text><text x="274.04" y="72.10" font-size="4.9" text-anchor="middle" fill="#444">0</text><text x="287.22" y="72.10" font-size="4.9" text-anchor="middle" fill="#444" letter-spacing="-0.2">10<tspan dy="-2.7" font-size="4.02">3</tspan></text><text x="301.50" y="72.10" font-size="4.9" text-anchor="middle" fill="#444" letter-spacing="-0.2">10<tspan dy="-2.7" font-size="4.02">4</tspan></text><text x="317.13" y="72.10" font-size="4.9" text-anchor="middle" fill="#444" letter-spacing="-0.2">10<tspan dy="-2.7" font-size="4.02">5</tspan></text><text x="265.70" y="146.50" font-size="4.9" text-anchor="middle" fill="#444" letter-spacing="-0.2">-10<tspan dy="-2.7" font-size="4.02">3</tspan></text><text x="274.04" y="146.50" font-size="4.9" text-anchor="middle" fill="#444">0</text><text x="287.22" y="146.50" font-size="4.9" text-anchor="middle" fill="#444" letter-spacing="-0.2">10<tspan dy="-2.7" font-size="4.02">3</tspan></text><text x="301.50" y="146.50" font-size="4.9" text-anchor="middle" fill="#444" letter-spacing="-0.2">10<tspan dy="-2.7" font-size="4.02">4</tspan></text><text x="317.13" y="146.50" font-size="4.9" text-anchor="middle" fill="#444" letter-spacing="-0.2">10<tspan dy="-2.7" font-size="4.02">5</tspan></text><path d="M245.60 7.60L245.60 113.80" stroke="#555" stroke-width="0.9"/><path d="M243.10 8.60L245.60 3.60L248.10 8.60Z" fill="#000"/><text x="247.40" y="142.00" font-size="7.9" fill="#333" transform="rotate(-90 247.40 142.00)">CXCR3</text><text x="257.20" y="155.00" font-size="7.9" fill="#333">Foxp3</text><path d="M286.50 153.00L316.80 153.00" stroke="#555" stroke-width="0.9"/><path d="M315.50 150.50L320.80 153.00L315.50 155.50Z" fill="#000"/><rect x="353.00" y="2.60" width="60.90" height="60.60" fill="none" stroke="#8a8a8a" stroke-width="0.9"/><path d="M357.8 63.5h1.9v1.6h-1.9zM366.0 63.5h1.9v1.6h-1.9zM379.1 63.5h1.9v1.6h-1.9zM393.3 63.5h1.9v1.6h-1.9zM408.9 63.5h1.9v1.6h-1.9zM362.2 63.6h1.2v1.2h-1.2zM369.6 63.6h1.2v1.2h-1.2zM372.9 63.6h1.2v1.2h-1.2zM376.2 63.6h1.2v1.2h-1.2zM383.0 63.6h1.2v1.2h-1.2zM386.5 63.6h1.2v1.2h-1.2zM390.1 63.6h1.2v1.2h-1.2zM397.5 63.6h1.2v1.2h-1.2zM401.4 63.6h1.2v1.2h-1.2zM405.3 63.6h1.2v1.2h-1.2zM351.4 7.5h1.9v1.6h-1.9zM351.4 21.8h1.9v1.6h-1.9zM351.4 38.1h1.9v1.6h-1.9zM351.4 49.2h1.9v1.6h-1.9zM351.4 54.8h1.9v1.6h-1.9zM351.8 11.4h1.2v1.1h-1.2zM351.8 14.9h1.2v1.1h-1.2zM351.8 18.5h1.2v1.1h-1.2zM351.8 26.2h1.2v1.1h-1.2zM351.8 30.2h1.2v1.1h-1.2zM351.8 34.3h1.2v1.1h-1.2zM351.8 42.1h1.2v1.1h-1.2zM351.8 45.8h1.2v1.1h-1.2zM351.8 52.3h1.2v1.1h-1.2zM352.0 45.0h1.3v9h-1.3z" fill="#000"/><path d="M391 48h1v1h-1zM394 35h1v1h-1zM391 51h1v1h-1zM386 42h1v1h-1zM388 46h1v1h-1zM400 44h1v1h-1zM403 40h1v1h-1zM383 40h1v1h-1zM384 40h1v1h-1zM400 47h1v1h-1zM387 38h1v1h-1zM389 37h1v1h-1zM389 37h1v1h-1zM385 43h1v1h-1zM387 41h1v1h-1zM394 51h1v1h-1zM398 49h1v1h-1zM403 42h1v1h-1zM392 34h1v1h-1zM401 41h1v1h-1zM385 47h1v1h-1zM402 44h1v1h-1zM392 50h1v1h-1zM392 34h1v1h-1zM384 42h1v1h-1zM402 46h1v1h-1zM402 39h1v1h-1zM385 43h1v1h-1zM387 46h1v1h-1zM397 50h1v1h-1zM387 42h1v1h-1zM386 37h1v1h-1zM389 37h1v1h-1zM400 41h1v1h-1zM385 42h1v1h-1zM397 48h1v1h-1zM396 48h1v1h-1zM402 44h1v1h-1zM389 37h1v1h-1zM401 40h1v1h-1zM383 45h1v1h-1zM388 37h1v1h-1zM393 34h1v1h-1zM391 48h1v1h-1zM392 34h1v1h-1zM388 39h1v1h-1zM393 36h1v1h-1zM396 35h1v1h-1zM389 38h1v1h-1zM387 49h1v1h-1zM398 46h1v1h-1zM384 47h1v1h-1zM388 38h1v1h-1zM402 47h1v1h-1zM399 36h1v1h-1zM396 50h1v1h-1zM401 43h1v1h-1zM389 51h1v1h-1zM400 44h1v1h-1zM392 34h1v1h-1zM393 48h1v1h-1zM400 35h1v1h-1zM401 38h1v1h-1zM402 47h1v1h-1zM387 35h1v1h-1zM394 35h1v1h-1zM402 41h1v1h-1zM384 45h1v1h-1zM395 35h1v1h-1zM401 40h1v1h-1zM402 37h1v1h-1zM389 47h1v1h-1zM386 38h1v1h-1zM402 41h1v1h-1zM392 34h1v1h-1zM398 49h1v1h-1zM386 45h1v1h-1zM392 49h1v1h-1zM392 35h1v1h-1zM390 48h1v1h-1zM396 34h1v1h-1zM398 35h1v1h-1zM400 45h1v1h-1zM386 44h1v1h-1zM397 37h1v1h-1zM402 43h1v1h-1zM400 44h1v1h-1zM386 38h1v1h-1zM387 41h1v1h-1zM385 40h1v1h-1zM391 48h1v1h-1zM398 48h1v1h-1zM387 48h1v1h-1zM390 37h1v1h-1zM387 38h1v1h-1z" fill="#000"/><path d="M393 40h1v1h-1zM388 39h1v1h-1zM395 38h1v1h-1zM394 39h1v1h-1zM393 48h1v1h-1zM395 44h1v1h-1zM398 46h1v1h-1zM395 38h1v1h-1zM391 45h1v1h-1zM395 43h1v1h-1zM396 40h1v1h-1zM397 45h1v1h-1zM393 42h1v1h-1zM397 41h1v1h-1zM393 41h1v1h-1zM395 43h1v1h-1zM398 40h1v1h-1zM390 39h1v1h-1zM394 44h1v1h-1zM397 44h1v1h-1zM400 44h1v1h-1zM395 44h1v1h-1zM396 41h1v1h-1zM389 40h1v1h-1zM390 45h1v1h-1zM397 47h1v1h-1zM389 46h1v1h-1zM394 41h1v1h-1zM390 44h1v1h-1zM399 40h1v1h-1zM395 46h1v1h-1z" fill="#000"/><path d="M400.4 42.4L400.0 43.8L399.8 45.3L399.4 46.8L398.2 47.8L396.6 48.1L395.4 48.8L394.0 48.6L392.6 49.1L391.4 48.3L389.6 48.8L388.4 47.8L387.5 46.6L386.6 45.4L386.0 43.9L386.8 42.4L386.4 40.9L387.7 39.9L388.1 38.6L389.1 37.8L389.8 36.3L390.9 34.9L392.5 35.2L394.0 35.3L395.6 35.4L396.9 36.2L397.5 37.8L398.3 38.8L399.3 39.7L399.6 41.1ZM400.2 42.4L400.5 43.9L400.1 45.4L399.3 46.8L397.7 47.2L396.4 47.8L395.2 48.4L393.9 48.5L392.6 48.6L391.3 48.5L390.1 47.9L388.8 47.4L387.9 46.3L387.3 45.1L386.6 43.8L387.2 42.4L386.8 41.0L387.3 39.7L388.7 39.0L388.7 37.3L389.9 36.5L391.3 36.3L392.6 35.5L394.0 35.5L395.3 36.1L396.3 37.2L397.3 38.0L397.8 39.1L398.8 39.9L399.5 41.1ZM400.4 42.4L400.1 43.8L399.1 45.0L398.4 46.1L397.1 46.6L396.3 47.5L395.2 48.1L393.9 48.2L392.6 48.9L391.3 48.5L390.1 47.9L388.9 47.2L388.5 45.9L387.6 45.0L387.9 43.6L387.6 42.4L387.4 41.1L387.8 39.9L387.9 38.5L388.8 37.4L389.9 36.5L391.2 35.9L392.6 35.9L394.0 36.0L395.1 36.8L396.2 37.4L397.2 38.1L398.1 38.9L399.4 39.7L399.5 41.1ZM399.5 42.4L399.2 43.6L399.0 44.9L398.1 45.9L396.7 46.1L395.8 46.8L395.0 47.5L393.9 47.7L392.7 48.2L391.5 48.1L390.4 47.4L389.0 47.1L388.1 46.2L388.4 44.6L387.8 43.6L387.9 42.4L388.0 41.3L388.3 40.2L388.7 39.0L389.0 37.6L390.0 36.8L391.4 36.6L392.6 36.1L393.9 36.5L395.1 36.9L396.2 37.4L396.6 38.8L397.5 39.4L398.3 40.2L399.4 41.1ZM398.2 42.4L398.6 43.5L398.7 44.8L398.1 45.9L397.2 46.7L396.2 47.5L395.0 47.7L393.8 47.0L392.7 47.7L391.8 46.9L390.7 46.9L389.6 46.6L388.9 45.6L388.2 44.7L387.4 43.7L387.5 42.4L387.8 41.2L389.0 40.5L389.2 39.5L389.9 38.6L390.5 37.6L391.6 37.1L392.7 37.0L393.9 37.0L395.0 37.2L396.0 37.8L396.9 38.4L397.2 39.5L397.5 40.5L397.8 41.4ZM398.1 42.4L397.4 43.3L397.5 44.3L397.5 45.5L396.6 46.1L395.9 47.0L395.0 47.7L393.8 47.2L392.8 47.6L391.8 47.1L390.9 46.5L390.4 45.7L389.6 45.1L388.5 44.5L388.6 43.4L388.4 42.4L388.0 41.3L388.3 40.2L389.5 39.7L390.3 39.1L391.0 38.5L391.8 37.9L392.8 37.7L393.8 37.4L394.8 37.9L395.8 38.0L396.9 38.4L397.6 39.3L397.5 40.5L397.6 41.5ZM397.9 42.4L397.6 43.3L397.0 44.1L396.4 44.6L396.0 45.4L395.5 46.2L394.6 46.4L393.8 47.0L392.8 46.7L391.8 46.9L391.0 46.4L390.1 45.9L389.8 45.0L389.5 44.1L389.1 43.3L389.0 42.4L389.5 41.6L389.3 40.6L389.8 39.9L390.1 38.9L391.1 38.5L391.9 38.0L392.9 38.2L393.7 38.7L394.6 38.3L395.2 39.1L396.0 39.4L396.8 39.8L397.2 40.7L398.1 41.4ZM396.5 42.4L396.7 43.1L396.4 43.8L396.3 44.6L395.8 45.1L395.2 45.8L394.5 46.2L393.7 46.3L392.9 46.2L392.1 46.0L391.6 45.3L391.1 44.9L390.6 44.4L389.8 44.0L389.6 43.2L389.5 42.4L389.6 41.6L389.8 40.8L390.2 40.1L391.0 39.8L391.5 39.3L392.2 39.1L392.9 38.8L393.7 38.8L394.5 38.7L395.4 38.8L395.8 39.6L396.4 40.1L396.5 41.0L396.6 41.7ZM396.4 42.4L396.4 43.1L395.8 43.5L395.5 44.0L395.1 44.4L394.6 44.7L394.3 45.3L393.6 45.5L392.9 45.8L392.4 45.3L391.8 45.1L391.3 44.6L390.9 44.1L390.6 43.6L390.4 43.0L390.3 42.4L390.7 41.8L390.7 41.2L390.8 40.6L391.1 40.0L391.8 39.8L392.4 39.5L393.0 39.6L393.6 39.4L394.1 39.9L394.7 40.0L395.1 40.3L395.9 40.5L396.0 41.2L396.5 41.7ZM395.7 42.4L395.9 43.0L395.6 43.4L395.2 43.8L394.7 44.0L394.5 44.4L394.0 44.6L393.5 44.7L393.1 44.6L392.6 44.6L392.0 44.6L391.6 44.2L391.3 43.9L391.0 43.4L391.0 42.9L391.3 42.4L391.0 41.9L391.2 41.5L391.6 41.1L391.7 40.7L392.0 40.1L392.5 39.9L393.0 39.9L393.5 40.1L393.9 40.5L394.4 40.4L394.7 40.9L395.2 41.0L395.4 41.4L395.7 41.9Z" fill="none" stroke="#000" stroke-width="0.75"/><ellipse cx="393.30" cy="42.40" rx="0.91" ry="2.24" fill="#aaa" opacity="0.85"/><rect x="382.20" y="14.20" width="23.40" height="32.40" fill="none" stroke="#000" stroke-width="1.2"/><text x="374.20" y="32.30" font-size="6.9" text-anchor="middle" fill="#2a2a2a">68.3</text><rect x="353.00" y="77.60" width="60.90" height="60.60" fill="none" stroke="#8a8a8a" stroke-width="0.9"/><path d="M357.8 138.5h1.9v1.6h-1.9zM366.0 138.5h1.9v1.6h-1.9zM379.1 138.5h1.9v1.6h-1.9zM393.3 138.5h1.9v1.6h-1.9zM408.9 138.5h1.9v1.6h-1.9zM362.2 138.6h1.2v1.2h-1.2zM369.6 138.6h1.2v1.2h-1.2zM372.9 138.6h1.2v1.2h-1.2zM376.2 138.6h1.2v1.2h-1.2zM383.0 138.6h1.2v1.2h-1.2zM386.5 138.6h1.2v1.2h-1.2zM390.1 138.6h1.2v1.2h-1.2zM397.5 138.6h1.2v1.2h-1.2zM401.4 138.6h1.2v1.2h-1.2zM405.3 138.6h1.2v1.2h-1.2zM351.4 81.5h1.9v1.6h-1.9zM351.4 96.0h1.9v1.6h-1.9zM351.4 112.6h1.9v1.6h-1.9zM351.4 124.3h1.9v1.6h-1.9zM351.4 131.0h1.9v1.6h-1.9zM351.8 85.4h1.2v1.1h-1.2zM351.8 89.0h1.2v1.1h-1.2zM351.8 92.7h1.2v1.1h-1.2zM351.8 100.5h1.2v1.1h-1.2zM351.8 104.6h1.2v1.1h-1.2zM351.8 108.8h1.2v1.1h-1.2zM351.8 116.8h1.2v1.1h-1.2zM351.8 120.7h1.2v1.1h-1.2zM351.8 127.9h1.2v1.1h-1.2zM352.0 120.1h1.3v9h-1.3z" fill="#000"/><path d="M382 115h1v1h-1zM398 110h1v1h-1zM398 111h1v1h-1zM388 122h1v1h-1zM402 118h1v1h-1zM405 116h1v1h-1zM397 109h1v1h-1zM401 119h1v1h-1zM394 109h1v1h-1zM401 121h1v1h-1zM387 113h1v1h-1zM387 122h1v1h-1zM393 109h1v1h-1zM401 116h1v1h-1zM393 110h1v1h-1zM401 112h1v1h-1zM398 124h1v1h-1zM399 112h1v1h-1zM402 110h1v1h-1zM387 123h1v1h-1zM392 108h1v1h-1zM387 121h1v1h-1zM397 108h1v1h-1zM400 114h1v1h-1zM384 112h1v1h-1zM395 122h1v1h-1zM401 111h1v1h-1zM391 109h1v1h-1zM384 120h1v1h-1zM402 121h1v1h-1zM391 109h1v1h-1zM403 114h1v1h-1zM399 112h1v1h-1zM386 120h1v1h-1zM383 116h1v1h-1zM404 116h1v1h-1zM400 108h1v1h-1zM392 107h1v1h-1zM401 120h1v1h-1zM386 117h1v1h-1zM400 112h1v1h-1zM394 123h1v1h-1zM385 115h1v1h-1zM403 113h1v1h-1zM386 119h1v1h-1zM403 119h1v1h-1zM386 111h1v1h-1zM385 116h1v1h-1zM399 113h1v1h-1zM395 125h1v1h-1zM390 123h1v1h-1zM386 119h1v1h-1zM394 110h1v1h-1zM384 113h1v1h-1zM388 124h1v1h-1zM387 123h1v1h-1zM400 121h1v1h-1zM384 113h1v1h-1zM386 118h1v1h-1zM383 114h1v1h-1zM392 123h1v1h-1zM388 111h1v1h-1zM399 120h1v1h-1zM386 109h1v1h-1zM395 108h1v1h-1zM401 110h1v1h-1zM392 124h1v1h-1zM404 115h1v1h-1zM387 110h1v1h-1zM389 122h1v1h-1zM390 122h1v1h-1zM387 110h1v1h-1zM386 109h1v1h-1zM401 116h1v1h-1zM400 121h1v1h-1zM401 112h1v1h-1zM396 110h1v1h-1zM387 123h1v1h-1zM391 125h1v1h-1zM385 111h1v1h-1zM402 118h1v1h-1zM402 115h1v1h-1zM391 126h1v1h-1zM385 112h1v1h-1zM384 117h1v1h-1zM387 121h1v1h-1zM391 123h1v1h-1zM391 110h1v1h-1zM400 122h1v1h-1zM404 116h1v1h-1zM388 108h1v1h-1zM396 124h1v1h-1zM402 117h1v1h-1zM401 117h1v1h-1zM399 121h1v1h-1zM386 117h1v1h-1zM400 119h1v1h-1z" fill="#343ca6"/><path d="M395 115h1v1h-1zM396 116h1v1h-1zM390 122h1v1h-1zM401 115h1v1h-1zM395 110h1v1h-1zM388 119h1v1h-1zM398 114h1v1h-1zM398 117h1v1h-1zM398 111h1v1h-1zM393 113h1v1h-1zM397 116h1v1h-1zM392 119h1v1h-1zM396 118h1v1h-1zM397 113h1v1h-1zM387 115h1v1h-1zM394 117h1v1h-1zM393 114h1v1h-1zM397 121h1v1h-1zM391 114h1v1h-1zM396 115h1v1h-1zM398 121h1v1h-1zM389 118h1v1h-1zM400 117h1v1h-1zM397 115h1v1h-1zM389 114h1v1h-1zM396 117h1v1h-1zM394 116h1v1h-1zM390 119h1v1h-1zM394 123h1v1h-1zM392 115h1v1h-1zM389 117h1v1h-1zM388 118h1v1h-1z" fill="#343ca6"/><path d="M399.9 116.2L399.9 117.7L400.0 119.3L399.3 120.8L398.2 121.8L397.0 122.9L395.6 123.7L394.2 124.7L392.5 123.7L391.0 123.6L389.7 122.8L388.6 121.6L387.8 120.3L386.4 119.4L385.9 117.8L384.9 116.2L385.6 114.5L386.1 112.9L387.2 111.6L388.5 110.7L390.1 110.4L391.2 109.5L392.6 109.1L394.1 108.5L395.8 108.3L397.1 109.4L398.5 110.2L399.3 111.7L400.5 112.9L400.1 114.7ZM400.7 116.2L400.0 117.7L399.4 119.0L398.3 120.0L397.2 120.7L396.5 122.0L395.3 122.6L394.0 123.5L392.5 123.7L391.1 123.3L389.6 122.9L388.9 121.3L388.5 119.8L388.0 118.7L387.0 117.6L386.7 116.2L386.7 114.7L386.8 113.2L387.5 111.8L388.4 110.5L389.8 109.9L391.4 110.2L392.6 109.7L393.9 110.1L395.3 109.9L396.6 110.3L398.1 110.7L399.5 111.5L400.2 113.0L400.4 114.6ZM399.0 116.2L399.2 117.5L398.2 118.5L397.8 119.6L397.3 120.8L396.3 121.5L395.4 122.9L394.0 123.1L392.6 123.5L391.5 122.1L390.3 121.7L389.5 120.6L388.7 119.7L388.0 118.7L387.5 117.5L386.7 116.2L387.1 114.8L387.4 113.5L387.8 112.0L389.0 111.2L390.4 110.9L391.4 110.0L392.7 110.6L393.8 110.8L395.1 110.4L396.6 110.3L397.8 110.9L398.9 112.0L399.4 113.4L399.6 114.8ZM399.0 116.2L399.0 117.5L398.7 118.7L397.6 119.5L397.0 120.5L396.0 121.1L394.9 121.5L393.9 122.0L392.7 122.1L391.3 122.5L390.2 121.9L389.6 120.5L388.5 119.8L388.3 118.5L388.4 117.3L388.0 116.2L388.2 115.1L388.1 113.8L388.6 112.7L389.2 111.5L390.1 110.5L391.4 110.1L392.7 110.4L393.8 110.8L394.9 110.9L395.9 111.5L396.6 112.4L397.8 112.8L398.4 113.8L399.3 114.9ZM398.3 116.2L398.2 117.3L397.8 118.3L397.3 119.2L396.6 120.0L395.6 120.3L394.7 120.7L393.8 121.1L392.8 121.0L391.8 121.1L390.7 121.0L390.0 120.0L389.0 119.4L388.5 118.4L388.5 117.3L389.2 116.2L388.6 115.2L389.4 114.4L389.7 113.5L389.9 112.3L390.8 111.7L391.8 111.3L392.8 110.8L393.8 111.1L394.7 111.6L395.5 112.1L396.3 112.7L397.1 113.3L397.8 114.1L398.3 115.1ZM397.0 116.2L397.2 117.1L396.8 117.8L396.5 118.6L396.2 119.5L395.5 120.2L394.5 120.1L393.7 120.6L392.9 120.0L392.2 119.9L391.4 119.5L390.5 119.4L390.2 118.6L389.6 117.9L389.0 117.2L389.1 116.2L389.3 115.3L389.9 114.6L390.0 113.7L390.9 113.4L391.4 112.8L392.2 112.5L392.8 111.7L393.7 112.1L394.7 111.8L395.3 112.6L396.1 113.0L396.4 113.8L397.0 114.5L396.9 115.4ZM395.9 116.2L396.1 116.8L396.4 117.6L395.9 118.2L395.4 118.6L394.9 119.0L394.3 119.3L393.6 119.3L393.0 119.1L392.5 118.9L391.9 118.8L391.3 118.5L390.9 118.0L390.3 117.6L390.0 116.9L390.0 116.2L390.1 115.5L390.6 114.9L391.1 114.5L391.3 113.8L392.0 113.8L392.4 113.4L393.0 113.0L393.6 112.9L394.3 113.1L395.0 113.1L395.3 113.8L395.8 114.3L396.0 115.0L395.9 115.6Z" fill="none" stroke="#343ca6" stroke-width="0.6"/><ellipse cx="393.30" cy="116.20" rx="1.17" ry="2.89" fill="#9aa0d8" opacity="0.85"/><rect x="382.20" y="88.80" width="23.10" height="31.40" fill="none" stroke="#000" stroke-width="1.2"/><text x="372.00" y="95.90" font-size="6.9" text-anchor="middle" fill="#2a2a2a">65.0</text><text x="350.60" y="12.35" font-size="4.9" text-anchor="end" fill="#444" letter-spacing="-0.2">10<tspan dy="-2.7" font-size="4.02">5</tspan></text><text x="350.60" y="26.65" font-size="4.9" text-anchor="end" fill="#444" letter-spacing="-0.2">10<tspan dy="-2.7" font-size="4.02">4</tspan></text><text x="350.60" y="42.95" font-size="4.9" text-anchor="end" fill="#444" letter-spacing="-0.2">10<tspan dy="-2.7" font-size="4.02">3</tspan></text><text x="351.20" y="51.75" font-size="4.9" text-anchor="end" fill="#444">0</text><text x="350.60" y="59.65" font-size="4.9" text-anchor="end" fill="#444" letter-spacing="-0.2">-10<tspan dy="-2.7" font-size="4.02">3</tspan></text><text x="350.60" y="86.35" font-size="4.9" text-anchor="end" fill="#444" letter-spacing="-0.2">10<tspan dy="-2.7" font-size="4.02">5</tspan></text><text x="350.60" y="100.85" font-size="4.9" text-anchor="end" fill="#444" letter-spacing="-0.2">10<tspan dy="-2.7" font-size="4.02">4</tspan></text><text x="350.60" y="117.45" font-size="4.9" text-anchor="end" fill="#444" letter-spacing="-0.2">10<tspan dy="-2.7" font-size="4.02">3</tspan></text><text x="351.20" y="126.85" font-size="4.9" text-anchor="end" fill="#444">0</text><text x="350.60" y="135.85" font-size="4.9" text-anchor="end" fill="#444" letter-spacing="-0.2">-10<tspan dy="-2.7" font-size="4.02">3</tspan></text><text x="358.66" y="72.10" font-size="4.9" text-anchor="middle" fill="#444" letter-spacing="-0.2">-10<tspan dy="-2.7" font-size="4.02">3</tspan></text><text x="366.95" y="72.10" font-size="4.9" text-anchor="middle" fill="#444">0</text><text x="380.04" y="72.10" font-size="4.9" text-anchor="middle" fill="#444" letter-spacing="-0.2">10<tspan dy="-2.7" font-size="4.02">3</tspan></text><text x="394.23" y="72.10" font-size="4.9" text-anchor="middle" fill="#444" letter-spacing="-0.2">10<tspan dy="-2.7" font-size="4.02">4</tspan></text><text x="409.76" y="72.10" font-size="4.9" text-anchor="middle" fill="#444" letter-spacing="-0.2">10<tspan dy="-2.7" font-size="4.02">5</tspan></text><text x="358.66" y="146.50" font-size="4.9" text-anchor="middle" fill="#444" letter-spacing="-0.2">-10<tspan dy="-2.7" font-size="4.02">3</tspan></text><text x="366.95" y="146.50" font-size="4.9" text-anchor="middle" fill="#444">0</text><text x="380.04" y="146.50" font-size="4.9" text-anchor="middle" fill="#444" letter-spacing="-0.2">10<tspan dy="-2.7" font-size="4.02">3</tspan></text><text x="394.23" y="146.50" font-size="4.9" text-anchor="middle" fill="#444" letter-spacing="-0.2">10<tspan dy="-2.7" font-size="4.02">4</tspan></text><text x="409.76" y="146.50" font-size="4.9" text-anchor="middle" fill="#444" letter-spacing="-0.2">10<tspan dy="-2.7" font-size="4.02">5</tspan></text><path d="M337.60 7.60L337.60 113.80" stroke="#555" stroke-width="0.9"/><path d="M335.10 8.60L337.60 3.60L340.10 8.60Z" fill="#000"/><text x="339.40" y="142.00" font-size="7.9" fill="#333" transform="rotate(-90 339.40 142.00)">CD44</text><text x="350.20" y="155.00" font-size="7.9" fill="#333">Foxp3</text><path d="M379.50 153.00L409.40 153.00" stroke="#555" stroke-width="0.9"/><path d="M408.10 150.50L413.40 153.00L408.10 155.50Z" fill="#000"/><rect x="441.70" y="2.60" width="60.70" height="60.60" fill="none" stroke="#8a8a8a" stroke-width="0.9"/><path d="M446.4 63.5h1.9v1.6h-1.9zM454.7 63.5h1.9v1.6h-1.9zM467.8 63.5h1.9v1.6h-1.9zM481.9 63.5h1.9v1.6h-1.9zM497.4 63.5h1.9v1.6h-1.9zM450.9 63.6h1.2v1.2h-1.2zM458.3 63.6h1.2v1.2h-1.2zM461.5 63.6h1.2v1.2h-1.2zM464.8 63.6h1.2v1.2h-1.2zM471.6 63.6h1.2v1.2h-1.2zM475.1 63.6h1.2v1.2h-1.2zM478.7 63.6h1.2v1.2h-1.2zM486.1 63.6h1.2v1.2h-1.2zM489.9 63.6h1.2v1.2h-1.2zM493.8 63.6h1.2v1.2h-1.2zM440.1 8.6h1.9v1.6h-1.9zM440.1 28.8h1.9v1.6h-1.9zM440.1 51.3h1.9v1.6h-1.9zM440.5 12.9h1.2v1.1h-1.2zM440.5 17.0h1.2v1.1h-1.2zM440.5 21.0h1.2v1.1h-1.2zM440.5 25.1h1.2v1.1h-1.2zM440.5 32.9h1.2v1.1h-1.2zM440.5 36.6h1.2v1.1h-1.2zM440.5 40.4h1.2v1.1h-1.2zM440.5 44.1h1.2v1.1h-1.2zM440.5 47.9h1.2v1.1h-1.2zM440.7 47.1h1.3v9h-1.3z" fill="#000"/><path d="M476 31h1v1h-1zM474 25h1v1h-1zM489 18h1v1h-1zM489 34h1v1h-1zM479 20h1v1h-1zM490 24h1v1h-1zM487 22h1v1h-1zM476 34h1v1h-1zM487 19h1v1h-1zM488 19h1v1h-1zM475 33h1v1h-1zM476 27h1v1h-1zM490 21h1v1h-1zM488 22h1v1h-1zM484 20h1v1h-1zM475 28h1v1h-1zM475 27h1v1h-1zM475 25h1v1h-1zM483 17h1v1h-1zM481 35h1v1h-1zM483 36h1v1h-1zM475 32h1v1h-1zM483 16h1v1h-1zM482 36h1v1h-1zM476 27h1v1h-1zM478 22h1v1h-1zM475 22h1v1h-1zM475 35h1v1h-1zM480 34h1v1h-1zM488 33h1v1h-1zM482 17h1v1h-1zM477 36h1v1h-1zM486 34h1v1h-1zM475 23h1v1h-1zM484 19h1v1h-1zM490 22h1v1h-1zM479 18h1v1h-1zM484 37h1v1h-1zM488 25h1v1h-1zM479 35h1v1h-1zM482 38h1v1h-1zM479 21h1v1h-1zM480 17h1v1h-1zM488 30h1v1h-1zM475 21h1v1h-1zM475 25h1v1h-1zM476 33h1v1h-1zM490 22h1v1h-1zM482 18h1v1h-1zM489 20h1v1h-1zM475 27h1v1h-1zM479 39h1v1h-1zM478 22h1v1h-1zM475 26h1v1h-1zM477 23h1v1h-1zM489 22h1v1h-1zM486 20h1v1h-1zM489 21h1v1h-1zM475 25h1v1h-1zM490 24h1v1h-1zM475 26h1v1h-1zM476 30h1v1h-1zM476 30h1v1h-1zM489 32h1v1h-1zM491 29h1v1h-1zM491 34h1v1h-1zM480 35h1v1h-1zM476 25h1v1h-1zM481 19h1v1h-1zM488 24h1v1h-1zM492 31h1v1h-1zM480 20h1v1h-1zM478 21h1v1h-1zM475 27h1v1h-1zM474 25h1v1h-1zM487 21h1v1h-1zM475 23h1v1h-1zM488 21h1v1h-1zM489 19h1v1h-1zM476 32h1v1h-1zM491 26h1v1h-1zM473 25h1v1h-1zM476 22h1v1h-1zM479 21h1v1h-1zM478 32h1v1h-1zM481 17h1v1h-1zM482 16h1v1h-1zM483 20h1v1h-1zM478 38h1v1h-1zM490 35h1v1h-1zM484 20h1v1h-1zM485 38h1v1h-1zM479 22h1v1h-1zM476 26h1v1h-1zM488 20h1v1h-1z" fill="#000"/><path d="M486 28h1v1h-1zM487 22h1v1h-1zM482 35h1v1h-1zM483 21h1v1h-1zM484 30h1v1h-1zM482 25h1v1h-1zM481 29h1v1h-1zM481 24h1v1h-1zM483 23h1v1h-1zM484 33h1v1h-1zM481 28h1v1h-1zM485 25h1v1h-1zM482 26h1v1h-1zM482 25h1v1h-1zM481 23h1v1h-1zM480 28h1v1h-1zM478 23h1v1h-1zM482 22h1v1h-1zM480 26h1v1h-1zM480 23h1v1h-1zM483 23h1v1h-1zM481 29h1v1h-1zM485 28h1v1h-1zM486 28h1v1h-1zM481 30h1v1h-1zM480 25h1v1h-1zM484 28h1v1h-1zM480 20h1v1h-1zM485 27h1v1h-1zM483 23h1v1h-1zM480 27h1v1h-1z" fill="#000"/><path d="M488.7 27.5L487.7 29.3L487.3 30.9L487.0 32.7L485.9 33.6L485.3 35.4L484.2 36.2L483.1 36.7L481.8 37.5L480.6 36.9L479.6 35.5L478.5 34.7L478.5 32.2L477.5 31.1L477.2 29.3L476.9 27.5L477.0 25.6L476.9 23.5L477.9 22.2L478.4 20.1L479.4 18.9L480.8 19.1L481.9 18.7L483.1 19.0L484.1 19.6L485.3 19.7L486.3 20.8L487.0 22.3L488.0 23.5L488.6 25.4ZM488.1 27.5L488.3 29.5L487.2 30.9L487.1 32.9L485.8 33.4L484.9 34.2L484.0 35.2L483.0 35.5L482.0 35.5L480.9 35.4L479.7 35.2L478.5 34.7L477.6 33.2L477.4 31.1L477.4 29.3L477.4 27.5L477.4 25.8L478.2 24.5L478.6 22.9L478.7 20.7L479.9 20.2L480.7 18.8L481.9 18.7L483.1 18.4L484.1 19.5L484.8 21.0L485.5 22.2L486.5 22.8L487.3 24.1L487.8 25.7ZM486.9 27.5L486.9 29.0L486.9 30.6L486.1 31.7L485.6 33.0L484.9 34.3L484.2 36.1L483.1 36.5L482.0 35.7L481.0 34.9L480.2 33.9L479.2 33.3L478.6 32.1L477.9 30.8L477.5 29.2L477.2 27.5L477.6 25.8L477.3 23.8L478.5 22.8L479.0 21.3L480.2 21.1L481.2 21.1L482.0 20.0L483.0 20.4L484.1 19.6L484.9 20.7L486.1 21.0L486.8 22.5L486.9 24.3L487.2 25.9ZM487.6 27.5L487.4 29.2L487.0 30.7L485.8 31.4L485.2 32.3L484.6 33.3L483.8 34.0L483.0 34.5L482.0 35.5L481.1 34.5L480.0 34.4L479.5 32.9L478.9 31.7L478.7 30.2L478.4 28.9L477.9 27.5L478.0 26.0L478.3 24.5L478.3 22.6L479.3 21.8L480.1 21.0L481.0 20.0L482.0 19.9L483.0 20.3L483.8 21.0L484.7 21.4L485.4 22.4L486.5 22.8L487.1 24.2L487.6 25.8ZM487.0 27.5L486.4 28.8L486.4 30.3L485.7 31.2L485.5 32.8L484.6 33.4L483.9 34.4L483.0 34.9L482.0 34.8L481.1 34.6L480.3 33.6L480.0 32.0L479.2 31.3L478.9 30.1L478.5 28.9L478.4 27.5L477.8 25.9L478.0 24.3L478.7 23.1L479.5 22.2L480.6 22.1L481.3 21.6L482.1 21.4L482.9 21.6L483.7 21.3L484.6 21.6L485.5 22.2L486.0 23.4L486.4 24.7L487.1 25.9ZM486.1 27.5L486.1 28.7L485.7 29.8L485.5 31.0L484.9 31.8L484.6 33.3L483.9 34.3L483.0 34.4L482.0 34.6L481.2 33.9L480.6 32.8L480.0 31.9L479.5 31.0L479.2 29.8L479.0 28.7L478.5 27.5L478.2 26.0L478.5 24.7L479.4 23.8L479.7 22.5L480.7 22.6L481.4 21.9L482.1 22.1L482.9 21.8L483.6 21.9L484.5 21.8L485.4 22.4L486.1 23.3L486.3 24.8L486.2 26.3ZM485.8 27.5L485.9 28.7L485.8 29.8L485.4 30.9L484.8 31.5L484.3 32.5L483.5 32.4L482.8 32.6L482.1 32.9L481.5 32.4L480.7 32.4L480.2 31.6L479.5 31.0L478.9 30.1L479.0 28.7L479.2 27.5L479.2 26.4L479.6 25.4L479.9 24.4L480.2 23.4L480.7 22.4L481.3 21.5L482.1 21.1L482.9 21.2L483.7 21.8L484.3 22.6L484.8 23.4L484.9 24.6L485.3 25.5L486.0 26.3ZM485.3 27.5L485.5 28.5L484.9 29.2L484.6 30.0L484.5 31.0L483.9 31.3L483.5 32.4L482.8 32.4L482.2 32.8L481.5 32.3L481.0 31.8L480.5 31.1L480.2 30.2L480.1 29.2L479.7 28.5L479.8 27.5L479.7 26.5L479.5 25.4L480.0 24.6L480.4 23.8L481.1 23.5L481.6 23.0L482.2 23.3L482.8 23.2L483.4 22.9L483.9 23.5L484.5 23.9L484.9 24.7L485.3 25.5L485.4 26.5ZM484.6 27.5L484.5 28.2L484.4 28.9L484.4 29.8L484.2 30.5L483.7 30.9L483.3 31.4L482.8 31.5L482.2 31.5L481.8 31.2L481.4 30.5L481.1 30.0L480.7 29.7L480.5 29.0L480.1 28.3L480.1 27.5L480.1 26.7L480.3 25.9L480.4 25.0L480.9 24.6L481.5 24.6L481.8 24.2L482.3 23.8L482.7 24.0L483.3 23.6L483.7 24.2L484.2 24.4L484.6 25.0L484.7 25.9L485.0 26.6ZM484.2 27.5L484.3 28.1L483.9 28.5L483.9 29.2L483.8 29.8L483.5 30.2L483.1 30.3L482.7 30.5L482.3 30.8L481.9 30.6L481.6 29.9L481.3 29.7L481.0 29.2L481.0 28.6L480.6 28.1L480.8 27.5L480.6 26.9L480.8 26.3L481.0 25.7L481.2 25.2L481.7 25.2L481.9 24.6L482.3 24.9L482.7 24.7L483.0 24.8L483.5 24.7L483.8 25.1L484.1 25.6L484.4 26.2L484.4 26.9Z" fill="none" stroke="#000" stroke-width="0.75"/><ellipse cx="482.50" cy="27.50" rx="0.73" ry="2.88" fill="#fff" opacity="0.85"/><path d="M476 46h1v1h-1zM484 38h1v1h-1zM473 46h1v1h-1zM474 46h1v1h-1zM485 50h1v1h-1zM477 40h1v1h-1zM491 44h1v1h-1zM477 39h1v1h-1zM480 52h1v1h-1zM486 40h1v1h-1zM474 42h1v1h-1zM482 50h1v1h-1zM485 51h1v1h-1zM476 39h1v1h-1zM481 50h1v1h-1zM476 47h1v1h-1zM481 51h1v1h-1zM479 40h1v1h-1zM485 50h1v1h-1zM475 44h1v1h-1zM477 39h1v1h-1zM490 43h1v1h-1zM477 41h1v1h-1zM475 44h1v1h-1zM480 50h1v1h-1zM479 38h1v1h-1zM481 50h1v1h-1zM489 44h1v1h-1zM479 39h1v1h-1zM489 42h1v1h-1zM476 44h1v1h-1zM476 46h1v1h-1zM484 52h1v1h-1zM486 48h1v1h-1zM477 51h1v1h-1zM485 50h1v1h-1zM476 43h1v1h-1zM476 43h1v1h-1zM479 50h1v1h-1zM489 44h1v1h-1zM479 50h1v1h-1zM480 50h1v1h-1zM478 51h1v1h-1zM478 49h1v1h-1zM490 46h1v1h-1zM480 50h1v1h-1zM487 38h1v1h-1zM476 43h1v1h-1zM486 38h1v1h-1zM488 45h1v1h-1zM485 39h1v1h-1zM486 52h1v1h-1zM483 50h1v1h-1zM478 37h1v1h-1zM480 40h1v1h-1zM488 45h1v1h-1zM477 38h1v1h-1zM487 49h1v1h-1zM479 40h1v1h-1zM487 41h1v1h-1zM476 50h1v1h-1zM474 43h1v1h-1zM489 47h1v1h-1zM487 51h1v1h-1zM483 38h1v1h-1zM476 38h1v1h-1zM485 38h1v1h-1zM478 48h1v1h-1zM487 44h1v1h-1zM489 46h1v1h-1zM489 44h1v1h-1zM483 49h1v1h-1zM485 50h1v1h-1zM478 49h1v1h-1zM488 39h1v1h-1zM488 44h1v1h-1zM480 39h1v1h-1zM474 46h1v1h-1zM478 51h1v1h-1zM483 52h1v1h-1zM482 38h1v1h-1zM487 47h1v1h-1zM485 37h1v1h-1zM482 52h1v1h-1zM482 37h1v1h-1zM486 49h1v1h-1zM489 47h1v1h-1zM476 50h1v1h-1z" fill="#000"/><path d="M484 49h1v1h-1zM481 48h1v1h-1zM483 45h1v1h-1zM481 43h1v1h-1zM482 50h1v1h-1zM479 45h1v1h-1zM483 43h1v1h-1zM484 43h1v1h-1zM482 42h1v1h-1zM478 47h1v1h-1zM479 40h1v1h-1zM479 47h1v1h-1zM483 49h1v1h-1zM487 46h1v1h-1zM483 42h1v1h-1zM483 46h1v1h-1zM482 44h1v1h-1zM485 45h1v1h-1zM478 46h1v1h-1zM478 45h1v1h-1zM483 47h1v1h-1zM482 47h1v1h-1zM479 44h1v1h-1zM481 46h1v1h-1zM478 46h1v1h-1zM484 45h1v1h-1zM478 45h1v1h-1zM480 40h1v1h-1zM481 43h1v1h-1z" fill="#000"/><path d="M486.9 44.5L486.8 45.8L486.2 47.0L485.3 47.8L484.5 48.5L483.7 49.1L482.9 49.7L482.1 50.8L480.9 51.4L479.7 50.9L478.8 50.0L477.8 49.4L477.3 48.2L477.1 46.8L476.5 45.8L476.9 44.5L476.8 43.3L477.1 42.2L477.3 40.8L477.5 39.2L478.7 38.7L479.8 38.1L481.0 38.3L482.0 38.8L482.9 39.2L483.9 39.5L484.7 40.3L485.7 40.9L486.1 42.1L486.9 43.1ZM486.6 44.5L486.7 45.8L486.6 47.2L485.9 48.3L485.0 49.1L483.8 49.2L482.8 49.4L482.0 50.2L481.0 49.7L480.0 50.0L479.1 49.5L477.8 49.4L477.1 48.3L476.5 47.1L477.0 45.6L476.6 44.5L476.9 43.3L477.3 42.3L477.7 41.2L478.0 39.9L478.9 39.2L479.8 38.1L480.9 37.9L482.0 38.6L483.0 39.0L483.8 39.8L484.7 40.2L485.4 41.1L485.7 42.3L486.2 43.3ZM486.5 44.5L486.3 45.7L485.7 46.7L485.0 47.5L484.4 48.3L483.4 48.5L482.9 49.5L482.0 50.1L481.0 50.4L479.9 50.4L479.1 49.4L478.1 49.0L477.6 47.9L477.5 46.6L477.1 45.6L477.5 44.5L477.4 43.5L477.5 42.4L477.6 41.1L478.0 39.9L479.1 39.5L479.9 38.7L481.0 38.8L481.9 39.8L482.7 40.1L483.8 39.7L484.4 40.6L485.4 41.1L486.1 42.0L486.2 43.3ZM486.0 44.5L486.2 45.7L485.6 46.7L485.3 47.8L484.2 48.1L483.8 49.2L482.8 49.2L481.9 49.5L481.1 49.3L480.3 49.0L479.5 48.7L478.5 48.5L477.6 47.9L477.3 46.7L477.1 45.6L477.5 44.5L477.8 43.6L478.1 42.7L478.4 41.8L478.8 40.9L479.2 39.8L480.2 39.6L481.0 39.3L482.0 38.9L483.0 39.1L483.5 40.3L484.1 41.0L484.6 41.8L484.8 42.7L485.2 43.6ZM485.2 44.5L484.9 45.4L485.0 46.4L484.5 47.1L484.1 48.0L483.6 48.8L482.8 49.4L482.0 49.9L481.0 49.8L480.3 48.8L479.5 48.6L479.2 47.5L478.8 46.9L478.3 46.2L478.0 45.4L477.7 44.5L477.5 43.5L477.4 42.3L478.0 41.4L478.8 40.9L479.6 40.5L480.3 40.1L481.1 40.1L481.9 40.4L482.7 40.2L483.4 40.5L484.3 40.8L485.2 41.3L485.2 42.6L485.3 43.5ZM485.1 44.5L484.7 45.3L484.5 46.1L484.3 46.9L484.1 47.9L483.3 48.1L482.8 49.2L481.9 49.2L481.1 49.3L480.4 48.6L479.7 48.2L479.4 47.2L478.9 46.7L478.3 46.2L478.1 45.4L477.7 44.5L477.4 43.5L477.9 42.6L478.3 41.7L479.0 41.2L479.8 41.0L480.4 40.4L481.2 40.6L481.8 40.7L482.6 40.5L483.4 40.6L484.0 41.2L484.6 41.8L484.8 42.8L485.3 43.5ZM484.6 44.5L484.5 45.3L484.3 46.0L483.9 46.6L483.7 47.4L483.1 47.8L482.6 48.6L481.9 48.8L481.1 48.7L480.5 48.1L479.9 47.9L479.3 47.4L479.0 46.7L479.0 45.8L478.6 45.2L478.5 44.5L478.1 43.6L478.1 42.7L478.6 42.0L479.2 41.5L479.9 41.2L480.5 40.9L481.2 40.9L481.8 40.8L482.4 41.2L483.1 41.2L483.8 41.4L484.1 42.2L484.7 42.8L485.0 43.6ZM484.5 44.5L484.5 45.3L484.4 46.0L484.0 46.7L483.4 47.0L482.8 47.3L482.3 47.4L481.8 47.5L481.2 47.7L480.7 47.5L480.0 47.6L479.5 47.1L479.1 46.6L478.8 45.9L478.7 45.2L478.7 44.5L478.9 43.8L479.1 43.2L479.5 42.7L479.8 42.3L480.1 41.7L480.6 41.4L481.2 41.0L481.8 41.3L482.4 41.4L482.9 41.7L483.2 42.3L483.7 42.6L483.8 43.3L484.2 43.8ZM483.8 44.5L483.8 45.1L483.5 45.5L483.1 45.9L482.8 46.3L482.6 46.7L482.2 47.1L481.7 47.0L481.3 47.1L480.7 47.4L480.3 47.0L479.8 46.7L479.5 46.2L479.5 45.6L479.6 45.0L479.3 44.5L479.3 43.9L479.7 43.5L479.5 42.8L479.9 42.3L480.3 42.1L480.8 41.8L481.3 41.9L481.7 41.8L482.1 42.2L482.5 42.5L483.0 42.5L483.2 43.0L483.5 43.4L483.9 43.9ZM483.3 44.5L483.3 45.0L483.1 45.3L483.0 45.8L482.7 46.0L482.2 46.0L482.0 46.4L481.7 46.4L481.3 46.6L480.9 46.6L480.6 46.3L480.3 46.1L480.1 45.7L479.8 45.4L479.7 44.9L479.9 44.5L479.9 44.1L479.9 43.7L480.2 43.3L480.3 43.0L480.6 42.7L480.9 42.2L481.3 42.4L481.7 42.5L482.1 42.5L482.2 43.0L482.5 43.2L482.8 43.4L482.9 43.7L483.2 44.1Z" fill="none" stroke="#000" stroke-width="0.75"/><ellipse cx="481.50" cy="44.50" rx="0.68" ry="1.98" fill="#fff" opacity="0.85"/><rect x="471.80" y="4.70" width="21.00" height="33.50" fill="none" stroke="#000" stroke-width="1.2"/><text x="458.80" y="23.90" font-size="6.9" text-anchor="middle" fill="#2a2a2a">59.5</text><rect x="441.70" y="77.60" width="60.70" height="60.60" fill="none" stroke="#8a8a8a" stroke-width="0.9"/><path d="M446.4 138.5h1.9v1.6h-1.9zM454.7 138.5h1.9v1.6h-1.9zM467.8 138.5h1.9v1.6h-1.9zM481.9 138.5h1.9v1.6h-1.9zM497.4 138.5h1.9v1.6h-1.9zM450.9 138.6h1.2v1.2h-1.2zM458.3 138.6h1.2v1.2h-1.2zM461.5 138.6h1.2v1.2h-1.2zM464.8 138.6h1.2v1.2h-1.2zM471.6 138.6h1.2v1.2h-1.2zM475.1 138.6h1.2v1.2h-1.2zM478.7 138.6h1.2v1.2h-1.2zM486.1 138.6h1.2v1.2h-1.2zM489.9 138.6h1.2v1.2h-1.2zM493.8 138.6h1.2v1.2h-1.2zM440.1 83.1h1.9v1.6h-1.9zM440.1 103.0h1.9v1.6h-1.9zM440.1 125.5h1.9v1.6h-1.9zM440.5 87.4h1.2v1.1h-1.2zM440.5 91.4h1.2v1.1h-1.2zM440.5 95.3h1.2v1.1h-1.2zM440.5 99.3h1.2v1.1h-1.2zM440.5 107.0h1.2v1.1h-1.2zM440.5 110.8h1.2v1.1h-1.2zM440.5 114.5h1.2v1.1h-1.2zM440.5 118.3h1.2v1.1h-1.2zM440.5 122.0h1.2v1.1h-1.2zM440.7 121.3h1.3v9h-1.3z" fill="#000"/><path d="M492 106h1v1h-1zM489 109h1v1h-1zM490 111h1v1h-1zM484 115h1v1h-1zM491 107h1v1h-1zM477 115h1v1h-1zM485 113h1v1h-1zM487 98h1v1h-1zM474 105h1v1h-1zM481 113h1v1h-1zM476 104h1v1h-1zM490 105h1v1h-1zM477 111h1v1h-1zM481 95h1v1h-1zM476 97h1v1h-1zM480 92h1v1h-1zM474 100h1v1h-1zM477 101h1v1h-1zM487 95h1v1h-1zM492 107h1v1h-1zM472 104h1v1h-1zM476 109h1v1h-1zM491 97h1v1h-1zM484 94h1v1h-1zM474 109h1v1h-1zM489 98h1v1h-1zM480 94h1v1h-1zM476 101h1v1h-1zM481 113h1v1h-1zM489 104h1v1h-1zM484 113h1v1h-1zM486 94h1v1h-1zM480 112h1v1h-1zM478 94h1v1h-1zM477 95h1v1h-1zM477 100h1v1h-1zM485 92h1v1h-1zM487 113h1v1h-1zM493 103h1v1h-1zM487 93h1v1h-1zM488 115h1v1h-1zM486 96h1v1h-1zM491 98h1v1h-1zM491 98h1v1h-1zM489 109h1v1h-1zM485 96h1v1h-1zM477 114h1v1h-1zM487 96h1v1h-1zM475 110h1v1h-1zM492 104h1v1h-1zM479 112h1v1h-1zM486 115h1v1h-1zM481 95h1v1h-1zM482 93h1v1h-1zM475 100h1v1h-1zM477 109h1v1h-1zM474 102h1v1h-1zM491 96h1v1h-1zM479 97h1v1h-1zM488 97h1v1h-1zM493 101h1v1h-1zM488 109h1v1h-1zM491 108h1v1h-1zM474 105h1v1h-1zM479 114h1v1h-1zM489 109h1v1h-1zM482 95h1v1h-1zM489 112h1v1h-1zM493 103h1v1h-1zM490 96h1v1h-1zM490 105h1v1h-1zM475 99h1v1h-1zM486 97h1v1h-1zM478 98h1v1h-1zM483 96h1v1h-1zM473 105h1v1h-1zM492 103h1v1h-1zM484 95h1v1h-1zM477 96h1v1h-1zM474 105h1v1h-1zM475 108h1v1h-1zM483 93h1v1h-1zM493 102h1v1h-1zM485 96h1v1h-1zM474 104h1v1h-1zM485 92h1v1h-1zM485 112h1v1h-1zM490 95h1v1h-1zM478 114h1v1h-1zM477 111h1v1h-1zM477 96h1v1h-1zM489 99h1v1h-1zM475 105h1v1h-1zM491 103h1v1h-1zM492 98h1v1h-1zM492 106h1v1h-1zM489 111h1v1h-1zM478 98h1v1h-1zM475 99h1v1h-1z" fill="#343ca6"/><path d="M480 110h1v1h-1zM481 106h1v1h-1zM480 99h1v1h-1zM483 99h1v1h-1zM480 103h1v1h-1zM486 107h1v1h-1zM485 100h1v1h-1zM483 104h1v1h-1zM485 109h1v1h-1zM487 106h1v1h-1zM482 105h1v1h-1zM486 103h1v1h-1zM489 104h1v1h-1zM488 106h1v1h-1zM484 109h1v1h-1zM482 101h1v1h-1zM482 105h1v1h-1zM481 109h1v1h-1zM484 106h1v1h-1zM481 106h1v1h-1zM485 103h1v1h-1zM482 106h1v1h-1zM484 101h1v1h-1zM486 107h1v1h-1zM478 106h1v1h-1zM483 100h1v1h-1zM484 102h1v1h-1zM480 105h1v1h-1zM480 103h1v1h-1zM480 103h1v1h-1zM485 105h1v1h-1zM484 98h1v1h-1zM477 104h1v1h-1z" fill="#343ca6"/><path d="M489.1 104.3L489.1 106.5L488.7 108.6L487.8 110.2L486.5 111.2L485.6 112.4L484.4 112.8L483.4 114.7L482.0 114.7L480.6 114.9L479.4 113.5L478.2 112.3L477.4 110.5L477.2 108.3L476.8 106.3L477.2 104.3L476.7 102.3L477.3 100.4L477.5 98.2L478.5 96.8L479.4 95.1L480.5 93.6L482.1 94.9L483.3 95.1L484.5 95.4L485.6 96.1L486.7 97.1L487.8 98.4L488.7 100.0L489.3 102.0ZM488.8 104.3L488.5 106.3L487.8 108.0L487.4 109.8L486.7 111.5L485.3 111.7L484.4 112.7L483.3 113.0L482.2 112.6L480.9 113.3L479.4 113.4L478.5 111.9L477.9 109.9L477.0 108.4L477.1 106.2L477.0 104.3L477.3 102.4L477.8 100.7L478.2 99.0L478.8 97.2L479.7 96.0L480.7 94.4L482.1 95.1L483.4 94.2L484.4 96.0L485.3 96.9L486.3 97.9L486.9 99.4L487.9 100.6L488.0 102.5ZM487.3 104.3L488.0 106.1L487.9 108.0L487.4 109.8L486.6 111.3L485.3 111.6L484.4 112.5L483.2 111.8L482.2 112.4L481.1 112.0L480.4 110.8L479.3 110.4L478.6 109.1L477.5 108.0L477.0 106.2L477.6 104.3L477.4 102.5L477.8 100.8L479.0 100.0L479.3 98.1L480.3 97.7L481.2 97.1L482.2 96.2L483.3 95.0L484.4 96.1L485.6 96.2L486.2 98.0L486.5 99.9L487.4 100.9L487.2 102.7ZM487.3 104.3L487.5 106.0L487.3 107.6L486.6 108.9L485.8 109.9L484.8 110.1L483.9 110.4L483.2 111.8L482.2 111.5L481.2 111.9L480.1 111.7L479.2 110.5L478.5 109.3L478.4 107.4L478.4 105.8L478.3 104.3L478.1 102.7L478.4 101.2L479.2 100.2L479.4 98.4L480.3 97.6L481.2 96.7L482.2 96.5L483.2 95.9L484.1 97.3L484.9 98.1L485.4 99.5L486.5 99.9L486.6 101.5L487.6 102.6ZM486.9 104.3L486.7 105.7L486.5 107.0L486.2 108.4L485.2 108.8L484.5 109.4L483.9 110.4L483.1 110.4L482.2 111.3L481.3 111.4L480.4 110.8L480.0 109.2L479.1 108.5L478.9 107.1L478.8 105.7L478.9 104.3L479.2 103.1L479.0 101.6L479.3 100.3L479.8 99.1L480.4 97.9L481.4 97.9L482.3 97.7L483.1 97.7L484.0 98.0L484.7 98.6L485.4 99.4L485.8 100.7L486.5 101.6L487.0 102.8ZM485.9 104.3L485.9 105.4L485.8 106.5L485.2 107.2L485.0 108.4L484.5 109.3L483.8 109.7L483.1 110.5L482.3 110.6L481.7 109.4L480.9 109.2L480.3 108.6L480.2 107.2L479.9 106.3L479.8 105.3L479.1 104.3L479.2 103.1L479.3 101.9L479.7 100.8L480.1 99.7L481.0 99.4L481.7 99.2L482.4 99.2L483.0 99.4L483.8 99.0L484.4 99.5L485.0 100.1L485.5 101.1L486.1 101.8L486.0 103.2ZM485.2 104.3L485.1 105.1L484.8 105.8L484.5 106.5L484.3 107.2L483.9 107.7L483.5 108.3L483.0 108.9L482.4 108.5L481.8 108.7L481.4 107.9L481.1 107.2L480.6 106.7L480.6 105.8L480.4 105.1L480.3 104.3L480.2 103.4L480.0 102.4L480.4 101.6L480.9 101.0L481.4 100.6L482.0 100.7L482.5 100.7L483.0 100.2L483.5 100.5L483.9 100.8L484.6 100.9L484.9 101.7L485.2 102.5L485.5 103.3Z" fill="none" stroke="#343ca6" stroke-width="0.6"/><ellipse cx="482.70" cy="104.30" rx="0.99" ry="3.80" fill="#fff" opacity="0.85"/><path d="M487 113h1v1h-1zM489 119h1v1h-1zM482 128h1v1h-1zM476 116h1v1h-1zM474 121h1v1h-1zM483 128h1v1h-1zM479 110h1v1h-1zM483 127h1v1h-1zM476 121h1v1h-1zM474 119h1v1h-1zM484 129h1v1h-1zM488 114h1v1h-1zM479 125h1v1h-1zM474 116h1v1h-1zM478 124h1v1h-1zM486 113h1v1h-1zM475 116h1v1h-1zM476 119h1v1h-1zM477 115h1v1h-1zM478 111h1v1h-1zM485 110h1v1h-1zM487 125h1v1h-1zM479 112h1v1h-1zM488 114h1v1h-1zM488 122h1v1h-1zM490 122h1v1h-1zM480 125h1v1h-1zM488 116h1v1h-1zM478 127h1v1h-1zM480 113h1v1h-1zM490 117h1v1h-1zM486 112h1v1h-1zM477 111h1v1h-1zM490 123h1v1h-1zM475 114h1v1h-1zM477 115h1v1h-1zM488 126h1v1h-1zM486 126h1v1h-1zM489 118h1v1h-1zM485 128h1v1h-1zM474 119h1v1h-1zM479 128h1v1h-1zM475 125h1v1h-1zM488 116h1v1h-1zM478 125h1v1h-1zM475 121h1v1h-1zM480 113h1v1h-1zM478 112h1v1h-1zM477 123h1v1h-1zM483 128h1v1h-1zM487 124h1v1h-1zM480 128h1v1h-1zM482 111h1v1h-1zM487 126h1v1h-1zM491 123h1v1h-1zM474 122h1v1h-1zM483 127h1v1h-1zM487 126h1v1h-1zM480 111h1v1h-1zM480 126h1v1h-1zM481 129h1v1h-1zM487 129h1v1h-1zM486 113h1v1h-1zM491 120h1v1h-1zM491 122h1v1h-1zM475 119h1v1h-1zM478 116h1v1h-1zM483 110h1v1h-1zM489 121h1v1h-1zM486 113h1v1h-1zM488 127h1v1h-1zM492 119h1v1h-1zM485 126h1v1h-1zM489 120h1v1h-1zM478 129h1v1h-1zM483 112h1v1h-1zM477 125h1v1h-1zM486 125h1v1h-1zM485 126h1v1h-1zM492 122h1v1h-1zM490 118h1v1h-1zM476 123h1v1h-1zM486 112h1v1h-1zM491 114h1v1h-1zM481 128h1v1h-1zM489 117h1v1h-1zM490 119h1v1h-1zM480 114h1v1h-1zM476 125h1v1h-1zM485 129h1v1h-1zM476 125h1v1h-1zM484 112h1v1h-1zM480 110h1v1h-1zM484 112h1v1h-1z" fill="#343ca6"/><path d="M480 124h1v1h-1zM479 121h1v1h-1zM477 116h1v1h-1zM484 122h1v1h-1zM486 123h1v1h-1zM484 124h1v1h-1zM483 116h1v1h-1zM485 121h1v1h-1zM482 115h1v1h-1zM485 119h1v1h-1zM481 124h1v1h-1zM481 123h1v1h-1zM486 123h1v1h-1zM483 115h1v1h-1zM488 119h1v1h-1zM481 123h1v1h-1zM482 121h1v1h-1zM478 120h1v1h-1zM483 118h1v1h-1zM479 125h1v1h-1zM485 117h1v1h-1zM481 124h1v1h-1zM487 119h1v1h-1zM480 120h1v1h-1zM485 117h1v1h-1zM481 123h1v1h-1zM481 123h1v1h-1zM483 119h1v1h-1zM480 124h1v1h-1zM480 117h1v1h-1zM482 115h1v1h-1z" fill="#343ca6"/><path d="M489.3 119.4L488.6 121.1L488.5 123.0L487.8 124.5L486.3 124.9L485.5 126.2L484.4 126.7L483.3 126.6L482.1 127.7L481.0 126.8L479.6 126.8L478.2 126.3L477.7 124.4L477.0 122.9L477.3 121.0L477.1 119.4L477.5 117.9L477.6 116.2L477.9 114.6L478.6 113.1L479.5 111.7L480.8 111.5L482.0 110.7L483.3 110.9L484.5 111.7L485.3 113.3L486.3 113.9L486.7 115.4L488.3 116.0L488.6 117.7ZM488.5 119.4L488.1 121.0L487.8 122.5L487.1 123.8L486.2 124.8L485.4 125.8L484.3 126.1L483.2 126.6L482.1 126.9L481.0 126.5L480.0 125.8L478.7 125.6L477.9 124.2L477.7 122.5L478.1 120.8L477.7 119.4L478.1 118.0L478.1 116.6L478.1 114.8L478.7 113.2L480.0 113.0L480.9 111.6L482.1 111.6L483.3 112.0L484.2 113.2L485.1 113.7L486.2 114.1L486.7 115.4L487.4 116.5L488.2 117.8ZM487.7 119.4L487.6 120.8L487.2 122.2L486.4 123.2L485.8 124.2L484.9 124.7L484.0 124.9L483.2 125.3L482.2 125.9L481.2 125.6L480.2 125.4L479.4 124.4L478.4 123.7L478.5 122.0L478.1 120.7L478.5 119.4L478.2 118.1L478.2 116.6L478.7 115.4L479.5 114.6L480.2 113.5L481.2 112.8L482.1 111.9L483.2 113.1L484.2 113.0L485.1 113.7L485.9 114.5L486.4 115.7L487.0 116.7L487.5 118.0ZM486.8 119.4L486.8 120.6L486.4 121.7L486.4 123.1L485.8 124.1L485.0 124.8L484.2 125.6L483.2 125.6L482.2 126.0L481.5 124.6L480.7 124.2L480.0 123.5L479.3 122.8L479.0 121.7L478.2 120.7L478.3 119.4L478.2 118.1L478.5 116.8L479.3 116.0L479.6 114.6L480.8 114.8L481.4 113.7L482.3 113.6L483.2 113.1L484.1 113.4L485.1 113.7L485.9 114.6L486.5 115.6L486.7 116.9L486.7 118.2ZM486.6 119.4L486.5 120.5L486.2 121.5L485.7 122.4L485.1 123.1L484.7 124.2L483.9 124.5L483.2 125.4L482.3 125.1L481.5 124.4L480.9 123.7L480.2 123.3L479.9 122.2L479.6 121.3L478.9 120.5L478.8 119.4L478.9 118.3L478.7 117.0L479.6 116.3L480.2 115.6L480.9 115.0L481.7 114.9L482.3 114.7L483.1 114.5L484.0 114.1L484.7 114.6L485.4 115.2L486.2 115.9L486.6 117.0L486.7 118.2ZM486.1 119.4L486.1 120.4L485.9 121.4L485.6 122.3L485.0 122.9L484.2 123.0L483.7 123.6L483.0 123.6L482.4 123.3L481.7 123.5L481.2 123.1L480.5 122.7L479.9 122.2L479.7 121.2L479.7 120.3L479.5 119.4L479.7 118.5L479.8 117.6L480.5 117.2L480.7 116.3L481.2 115.8L481.6 114.7L482.3 114.5L483.0 115.0L483.7 115.1L484.3 115.5L484.8 116.3L485.1 117.0L485.4 117.7L485.6 118.6ZM485.1 119.4L485.2 120.1L485.0 120.8L484.9 121.6L484.3 121.9L483.8 122.0L483.4 122.5L482.9 122.6L482.5 122.7L482.0 122.5L481.4 122.6L480.9 122.1L480.4 121.7L480.2 120.9L480.4 120.1L480.4 119.4L480.6 118.8L480.6 118.1L480.9 117.6L481.1 117.0L481.5 116.5L481.9 116.2L482.4 115.7L483.0 115.7L483.4 116.2L483.8 116.8L484.2 117.0L484.6 117.5L484.8 118.1L485.2 118.7Z" fill="none" stroke="#343ca6" stroke-width="0.6"/><ellipse cx="482.70" cy="119.40" rx="0.93" ry="3.04" fill="#fff" opacity="0.85"/><rect x="471.80" y="79.20" width="21.00" height="33.00" fill="none" stroke="#000" stroke-width="1.2"/><text x="460.30" y="87.20" font-size="6.9" text-anchor="middle" fill="#2a2a2a">56.9</text><text x="439.30" y="13.45" font-size="4.9" text-anchor="end" fill="#444" letter-spacing="-0.2">10<tspan dy="-2.7" font-size="4.02">4</tspan></text><text x="439.30" y="33.65" font-size="4.9" text-anchor="end" fill="#444" letter-spacing="-0.2">10<tspan dy="-2.7" font-size="4.02">3</tspan></text><text x="439.90" y="53.85" font-size="4.9" text-anchor="end" fill="#444">0</text><text x="439.30" y="87.95" font-size="4.9" text-anchor="end" fill="#444" letter-spacing="-0.2">10<tspan dy="-2.7" font-size="4.02">4</tspan></text><text x="439.30" y="107.85" font-size="4.9" text-anchor="end" fill="#444" letter-spacing="-0.2">10<tspan dy="-2.7" font-size="4.02">3</tspan></text><text x="439.90" y="128.05" font-size="4.9" text-anchor="end" fill="#444">0</text><text x="447.35" y="72.10" font-size="4.9" text-anchor="middle" fill="#444" letter-spacing="-0.2">-10<tspan dy="-2.7" font-size="4.02">3</tspan></text><text x="455.60" y="72.10" font-size="4.9" text-anchor="middle" fill="#444">0</text><text x="468.65" y="72.10" font-size="4.9" text-anchor="middle" fill="#444" letter-spacing="-0.2">10<tspan dy="-2.7" font-size="4.02">3</tspan></text><text x="482.79" y="72.10" font-size="4.9" text-anchor="middle" fill="#444" letter-spacing="-0.2">10<tspan dy="-2.7" font-size="4.02">4</tspan></text><text x="498.27" y="72.10" font-size="4.9" text-anchor="middle" fill="#444" letter-spacing="-0.2">10<tspan dy="-2.7" font-size="4.02">5</tspan></text><text x="447.35" y="146.50" font-size="4.9" text-anchor="middle" fill="#444" letter-spacing="-0.2">-10<tspan dy="-2.7" font-size="4.02">3</tspan></text><text x="455.60" y="146.50" font-size="4.9" text-anchor="middle" fill="#444">0</text><text x="468.65" y="146.50" font-size="4.9" text-anchor="middle" fill="#444" letter-spacing="-0.2">10<tspan dy="-2.7" font-size="4.02">3</tspan></text><text x="482.79" y="146.50" font-size="4.9" text-anchor="middle" fill="#444" letter-spacing="-0.2">10<tspan dy="-2.7" font-size="4.02">4</tspan></text><text x="498.27" y="146.50" font-size="4.9" text-anchor="middle" fill="#444" letter-spacing="-0.2">10<tspan dy="-2.7" font-size="4.02">5</tspan></text><path d="M427.20 7.60L427.20 113.80" stroke="#555" stroke-width="0.9"/><path d="M424.70 8.60L427.20 3.60L429.70 8.60Z" fill="#000"/><text x="429.00" y="142.00" font-size="7.9" fill="#333" transform="rotate(-90 429.00 142.00)">TIGIT</text><text x="438.90" y="155.00" font-size="7.9" fill="#333">Foxp3</text><path d="M468.20 153.00L497.90 153.00" stroke="#555" stroke-width="0.9"/><path d="M496.60 150.50L501.90 153.00L496.60 155.50Z" fill="#000"/><rect x="534.00" y="2.60" width="60.50" height="60.60" fill="none" stroke="#8a8a8a" stroke-width="0.9"/><path d="M538.7 63.5h1.9v1.6h-1.9zM547.0 63.5h1.9v1.6h-1.9zM560.0 63.5h1.9v1.6h-1.9zM574.1 63.5h1.9v1.6h-1.9zM589.5 63.5h1.9v1.6h-1.9zM543.1 63.6h1.2v1.2h-1.2zM550.5 63.6h1.2v1.2h-1.2zM553.8 63.6h1.2v1.2h-1.2zM557.0 63.6h1.2v1.2h-1.2zM563.8 63.6h1.2v1.2h-1.2zM567.3 63.6h1.2v1.2h-1.2zM570.8 63.6h1.2v1.2h-1.2zM578.2 63.6h1.2v1.2h-1.2zM582.1 63.6h1.2v1.2h-1.2zM585.9 63.6h1.2v1.2h-1.2zM532.4 7.5h1.9v1.6h-1.9zM532.4 21.5h1.9v1.6h-1.9zM532.4 38.6h1.9v1.6h-1.9zM532.4 49.7h1.9v1.6h-1.9zM532.4 54.8h1.9v1.6h-1.9zM532.8 11.3h1.2v1.1h-1.2zM532.8 14.8h1.2v1.1h-1.2zM532.8 18.3h1.2v1.1h-1.2zM532.8 25.2h1.2v1.1h-1.2zM532.8 28.6h1.2v1.1h-1.2zM532.8 32.1h1.2v1.1h-1.2zM532.8 35.5h1.2v1.1h-1.2zM532.8 42.6h1.2v1.1h-1.2zM532.8 46.3h1.2v1.1h-1.2zM532.8 52.5h1.2v1.1h-1.2zM533.0 45.5h1.3v9h-1.3z" fill="#000"/><path d="M582 19h1v1h-1zM567 16h1v1h-1zM568 19h1v1h-1zM576 33h1v1h-1zM570 31h1v1h-1zM574 33h1v1h-1zM580 31h1v1h-1zM567 29h1v1h-1zM573 10h1v1h-1zM579 19h1v1h-1zM570 12h1v1h-1zM580 28h1v1h-1zM581 25h1v1h-1zM583 19h1v1h-1zM578 30h1v1h-1zM581 32h1v1h-1zM571 34h1v1h-1zM570 32h1v1h-1zM569 14h1v1h-1zM581 28h1v1h-1zM573 11h1v1h-1zM570 17h1v1h-1zM581 25h1v1h-1zM566 19h1v1h-1zM568 18h1v1h-1zM568 32h1v1h-1zM582 22h1v1h-1zM570 15h1v1h-1zM574 37h1v1h-1zM581 28h1v1h-1zM581 18h1v1h-1zM570 30h1v1h-1zM569 33h1v1h-1zM571 13h1v1h-1zM581 21h1v1h-1zM573 35h1v1h-1zM582 19h1v1h-1zM580 14h1v1h-1zM582 25h1v1h-1zM575 36h1v1h-1zM576 11h1v1h-1zM577 33h1v1h-1zM579 34h1v1h-1zM572 13h1v1h-1zM567 20h1v1h-1zM569 26h1v1h-1zM582 20h1v1h-1zM567 24h1v1h-1zM576 33h1v1h-1zM582 28h1v1h-1zM577 15h1v1h-1zM577 34h1v1h-1zM573 36h1v1h-1zM575 33h1v1h-1zM567 31h1v1h-1zM573 15h1v1h-1zM578 30h1v1h-1zM571 13h1v1h-1zM578 32h1v1h-1zM578 17h1v1h-1zM574 11h1v1h-1zM571 15h1v1h-1zM574 10h1v1h-1zM567 20h1v1h-1zM567 16h1v1h-1zM582 22h1v1h-1zM569 24h1v1h-1zM568 25h1v1h-1zM571 14h1v1h-1zM575 33h1v1h-1zM574 12h1v1h-1zM575 14h1v1h-1zM569 27h1v1h-1zM578 33h1v1h-1zM573 37h1v1h-1zM580 31h1v1h-1zM582 31h1v1h-1zM581 32h1v1h-1zM572 33h1v1h-1zM581 30h1v1h-1zM582 29h1v1h-1zM568 22h1v1h-1zM570 14h1v1h-1zM583 29h1v1h-1zM580 15h1v1h-1zM580 19h1v1h-1zM579 31h1v1h-1zM581 18h1v1h-1zM581 32h1v1h-1zM577 14h1v1h-1zM569 13h1v1h-1zM567 30h1v1h-1zM567 18h1v1h-1zM578 16h1v1h-1zM577 34h1v1h-1zM571 32h1v1h-1zM582 24h1v1h-1z" fill="#000"/><path d="M578 24h1v1h-1zM575 29h1v1h-1zM574 23h1v1h-1zM576 30h1v1h-1zM571 30h1v1h-1zM575 25h1v1h-1zM579 19h1v1h-1zM572 18h1v1h-1zM575 27h1v1h-1zM570 27h1v1h-1zM571 25h1v1h-1zM575 29h1v1h-1zM572 28h1v1h-1zM576 18h1v1h-1zM576 26h1v1h-1zM574 24h1v1h-1zM574 29h1v1h-1zM575 23h1v1h-1zM572 26h1v1h-1zM574 15h1v1h-1zM573 21h1v1h-1zM572 23h1v1h-1zM578 29h1v1h-1zM577 30h1v1h-1zM577 28h1v1h-1zM573 28h1v1h-1zM571 27h1v1h-1zM578 28h1v1h-1zM579 28h1v1h-1zM578 25h1v1h-1zM580 20h1v1h-1zM571 25h1v1h-1z" fill="#000"/><path d="M579.1 23.7L579.3 25.7L579.3 27.9L578.8 29.7L578.3 32.0L577.4 33.3L576.2 33.7L575.1 34.5L574.0 33.8L573.0 32.4L572.0 32.1L571.3 30.7L570.2 29.8L569.6 28.0L568.7 26.1L568.6 23.7L569.3 21.6L569.6 19.4L570.1 17.4L571.2 16.6L571.9 14.9L572.8 13.8L573.9 12.8L575.1 12.6L576.3 13.2L577.4 13.9L578.1 15.9L578.8 17.6L579.1 19.7L579.7 21.6ZM579.3 23.7L579.4 25.7L579.0 27.6L578.9 29.9L578.1 31.4L577.0 32.3L576.2 33.6L575.1 34.2L574.0 33.1L572.9 33.0L572.2 31.4L571.4 30.4L570.6 29.1L569.7 27.8L569.3 25.8L569.3 23.7L569.4 21.6L569.5 19.4L570.4 17.9L571.4 17.0L572.3 16.2L573.0 14.8L574.0 14.2L575.1 13.3L576.1 14.0L577.3 14.3L578.2 15.7L578.5 18.1L578.7 20.0L579.2 21.8ZM579.4 23.7L579.1 25.6L578.5 27.1L578.1 28.8L577.8 30.8L577.0 32.1L576.0 32.6L575.0 33.4L574.0 32.9L573.0 32.8L572.1 31.8L571.5 30.2L571.2 28.3L570.5 27.2L570.3 25.4L569.4 23.7L569.3 21.6L570.0 19.8L570.3 17.8L571.5 17.2L572.3 16.4L573.0 14.9L574.1 15.7L575.0 14.8L576.1 14.4L577.1 15.1L577.9 16.4L578.6 17.9L579.0 19.8L579.0 21.9ZM578.6 23.7L578.8 25.5L578.5 27.2L578.1 28.8L577.6 30.3L576.8 31.3L576.0 32.6L575.0 32.3L574.1 31.8L573.1 31.9L572.5 30.4L571.8 29.6L571.1 28.5L570.4 27.2L570.0 25.5L569.7 23.7L570.0 21.8L570.4 20.2L570.9 18.6L571.8 17.9L572.4 16.7L573.2 15.9L574.0 14.6L575.0 14.7L576.1 14.3L576.8 15.8L577.5 17.3L577.9 18.8L578.6 20.2L578.2 22.2ZM579.2 23.7L578.4 25.3L578.4 27.1L577.6 28.1L576.9 28.9L576.5 30.6L575.8 31.3L574.9 31.2L574.1 31.5L573.1 31.9L572.4 30.7L571.4 30.4L571.3 28.3L571.0 26.7L571.1 25.1L570.7 23.7L570.7 22.1L571.0 20.7L570.9 18.7L571.5 17.3L572.2 15.9L573.1 15.2L574.0 15.3L574.9 16.2L575.6 16.9L576.4 17.2L577.1 18.2L577.8 19.1L578.3 20.4L578.6 22.0ZM578.5 23.7L578.7 25.4L578.5 27.1L577.6 28.1L576.9 28.9L576.2 29.3L575.5 29.7L574.9 30.8L574.1 30.5L573.4 30.6L572.6 30.1L571.7 29.8L571.4 28.1L570.6 27.0L571.1 25.1L570.6 23.7L571.1 22.3L571.3 21.0L571.6 19.6L572.1 18.5L572.4 16.6L573.2 16.2L574.1 15.8L574.9 15.6L575.7 16.5L576.4 17.3L576.7 19.0L577.2 19.8L577.6 21.0L578.2 22.2ZM578.3 23.7L577.8 25.1L577.6 26.4L577.1 27.4L576.5 28.1L576.1 29.1L575.5 29.5L574.9 30.4L574.1 30.2L573.3 30.6L572.6 30.1L572.2 28.8L571.6 27.9L571.3 26.4L571.6 24.9L571.4 23.7L571.2 22.3L571.6 21.2L571.6 19.5L572.2 18.7L572.6 17.3L573.4 17.3L574.1 16.6L574.9 17.0L575.4 18.0L575.9 19.0L576.6 19.1L577.2 19.9L577.6 21.1L578.2 22.2ZM577.5 23.7L577.2 24.8L577.1 25.9L576.6 26.7L576.2 27.3L576.0 28.7L575.4 28.9L574.8 29.2L574.2 29.9L573.6 29.3L572.9 28.9L572.6 27.7L572.3 26.8L572.0 25.9L571.7 24.8L571.9 23.7L571.8 22.6L571.8 21.3L572.1 20.4L572.4 19.1L573.0 18.8L573.6 18.6L574.2 18.8L574.8 18.8L575.3 18.9L575.8 19.3L576.3 19.7L576.9 20.4L577.4 21.2L577.3 22.5ZM576.9 23.7L576.5 24.5L576.6 25.5L576.3 26.3L575.9 26.8L575.6 27.3L575.2 27.9L574.8 28.8L574.3 28.2L573.7 28.3L573.3 27.7L573.0 27.0L572.8 26.1L572.6 25.4L572.3 24.6L572.1 23.7L572.3 22.8L572.3 21.8L572.5 20.8L572.9 20.2L573.3 19.7L573.8 19.7L574.3 19.2L574.7 19.8L575.2 19.3L575.6 20.1L576.2 20.0L576.4 21.0L576.7 21.8L576.8 22.7ZM576.1 23.7L576.3 24.4L576.3 25.2L576.1 25.9L575.8 26.6L575.5 27.1L575.1 27.1L574.7 26.8L574.3 26.8L574.0 26.8L573.6 26.7L573.2 26.5L572.9 26.0L572.7 25.3L572.6 24.5L572.6 23.7L572.7 22.9L572.9 22.3L573.2 21.9L573.4 21.4L573.7 20.9L573.9 20.1L574.3 20.2L574.7 19.8L575.1 20.3L575.5 20.5L575.8 21.0L576.0 21.6L576.0 22.4L576.1 23.0Z" fill="none" stroke="#000" stroke-width="0.75"/><ellipse cx="574.50" cy="23.70" rx="0.70" ry="3.36" fill="#fff" opacity="0.85"/><path d="M580 49h1v1h-1zM577 47h1v1h-1zM580 37h1v1h-1zM569 44h1v1h-1zM582 39h1v1h-1zM580 37h1v1h-1zM568 43h1v1h-1zM580 45h1v1h-1zM570 39h1v1h-1zM580 36h1v1h-1zM572 36h1v1h-1zM576 49h1v1h-1zM572 37h1v1h-1zM570 43h1v1h-1zM572 37h1v1h-1zM577 49h1v1h-1zM577 37h1v1h-1zM583 43h1v1h-1zM581 41h1v1h-1zM578 36h1v1h-1zM574 37h1v1h-1zM571 45h1v1h-1zM584 40h1v1h-1zM574 35h1v1h-1zM576 37h1v1h-1zM582 42h1v1h-1zM570 44h1v1h-1zM583 46h1v1h-1zM578 48h1v1h-1zM574 35h1v1h-1zM568 45h1v1h-1zM578 37h1v1h-1zM570 47h1v1h-1zM573 36h1v1h-1zM582 43h1v1h-1zM570 48h1v1h-1zM571 38h1v1h-1zM569 40h1v1h-1zM583 41h1v1h-1zM580 38h1v1h-1zM581 48h1v1h-1zM579 49h1v1h-1zM576 34h1v1h-1zM568 39h1v1h-1zM582 43h1v1h-1zM579 46h1v1h-1zM570 41h1v1h-1zM569 42h1v1h-1zM578 49h1v1h-1zM583 42h1v1h-1zM571 39h1v1h-1zM568 46h1v1h-1zM581 45h1v1h-1zM576 48h1v1h-1zM580 48h1v1h-1zM571 49h1v1h-1zM572 49h1v1h-1zM570 48h1v1h-1zM584 45h1v1h-1zM575 50h1v1h-1zM573 47h1v1h-1zM570 41h1v1h-1zM577 37h1v1h-1zM582 44h1v1h-1zM569 39h1v1h-1zM574 37h1v1h-1zM582 38h1v1h-1zM575 37h1v1h-1zM574 48h1v1h-1zM580 38h1v1h-1zM570 46h1v1h-1zM575 37h1v1h-1zM567 44h1v1h-1zM571 47h1v1h-1zM569 42h1v1h-1zM574 35h1v1h-1zM576 47h1v1h-1zM571 46h1v1h-1zM581 36h1v1h-1zM569 39h1v1h-1zM570 39h1v1h-1zM568 40h1v1h-1zM579 37h1v1h-1zM580 47h1v1h-1zM582 44h1v1h-1zM567 42h1v1h-1zM568 38h1v1h-1zM577 34h1v1h-1zM580 38h1v1h-1z" fill="#000"/><path d="M578 47h1v1h-1zM575 39h1v1h-1zM577 38h1v1h-1zM575 42h1v1h-1zM577 43h1v1h-1zM573 41h1v1h-1zM577 41h1v1h-1zM575 42h1v1h-1zM577 42h1v1h-1zM576 41h1v1h-1zM571 45h1v1h-1zM577 45h1v1h-1zM575 42h1v1h-1zM579 42h1v1h-1zM574 42h1v1h-1zM574 47h1v1h-1zM577 39h1v1h-1zM570 44h1v1h-1zM577 45h1v1h-1zM575 43h1v1h-1zM575 39h1v1h-1zM578 45h1v1h-1zM574 47h1v1h-1zM577 40h1v1h-1zM579 38h1v1h-1zM575 41h1v1h-1zM577 42h1v1h-1zM577 41h1v1h-1zM578 41h1v1h-1z" fill="#000"/><path d="M580.2 42.2L580.5 43.4L580.0 44.6L580.1 46.1L579.1 46.9L578.3 48.0L577.0 48.1L575.9 49.1L574.7 48.4L573.7 47.6L572.8 47.0L571.6 46.8L570.9 45.8L570.0 44.9L569.8 43.5L569.4 42.2L569.5 40.8L569.8 39.5L571.1 38.8L572.1 38.2L572.7 37.1L573.8 36.8L574.8 36.5L575.9 36.1L577.1 35.8L578.3 36.4L579.1 37.4L580.1 38.3L579.9 39.9L580.2 41.0ZM580.4 42.2L580.6 43.5L579.6 44.4L579.2 45.4L578.9 46.7L577.9 47.3L576.9 47.8L575.9 48.5L574.7 49.0L573.5 48.4L572.7 47.2L572.2 46.1L571.1 45.7L571.0 44.3L570.7 43.3L570.1 42.2L569.7 40.9L570.2 39.7L570.5 38.3L571.4 37.3L572.6 36.9L573.6 36.5L574.8 36.7L575.8 37.2L576.9 36.7L577.8 37.3L579.2 37.4L580.2 38.2L580.5 39.6L580.9 40.9ZM580.4 42.2L580.6 43.5L580.5 44.8L579.3 45.4L578.5 46.2L577.8 47.1L576.8 47.2L575.8 47.2L574.8 47.8L573.9 47.0L572.6 47.4L572.0 46.3L571.2 45.6L570.4 44.7L570.7 43.3L570.3 42.2L570.9 41.2L570.9 40.0L571.5 39.1L572.2 38.3L572.7 37.1L573.6 36.2L574.7 36.0L575.8 36.7L576.8 36.8L577.5 37.8L578.4 38.4L578.8 39.3L579.5 40.1L580.3 41.0ZM579.7 42.2L579.2 43.1L579.4 44.2L579.0 45.3L578.7 46.4L577.9 47.3L576.7 47.1L575.8 47.8L574.8 47.1L574.1 46.4L573.1 46.4L572.4 45.8L571.4 45.4L570.8 44.4L570.5 43.3L570.1 42.2L570.2 41.0L571.0 40.0L571.8 39.3L572.3 38.5L573.1 37.8L573.9 37.4L574.8 37.1L575.8 37.2L576.9 36.8L577.8 37.3L578.7 38.0L579.1 39.1L579.1 40.3L579.3 41.2ZM579.1 42.2L579.0 43.1L578.8 44.0L578.4 44.7L578.0 45.6L577.5 46.5L576.8 47.4L575.8 47.5L574.9 46.9L574.0 46.7L573.2 46.4L572.9 45.2L572.0 44.9L571.5 44.1L571.3 43.2L571.2 42.2L571.0 41.2L571.2 40.2L571.6 39.2L572.6 38.9L573.4 38.5L574.0 37.8L574.9 38.2L575.7 37.6L576.6 37.8L577.5 38.0L578.3 38.4L578.9 39.2L579.6 40.1L579.8 41.1ZM579.2 42.2L579.1 43.1L578.4 43.7L578.3 44.6L577.7 45.2L577.4 46.3L576.7 47.0L575.7 46.7L574.9 46.8L574.0 46.5L573.4 45.9L573.0 45.0L572.4 44.5L572.0 43.8L571.5 43.1L571.0 42.2L571.5 41.3L571.4 40.3L572.0 39.5L572.7 38.9L573.5 38.7L574.2 38.3L574.9 38.4L575.7 37.9L576.5 38.2L577.4 38.0L578.0 38.8L578.6 39.5L578.9 40.4L579.3 41.2ZM578.7 42.2L578.6 43.0L578.6 43.9L578.2 44.6L577.8 45.4L577.0 45.6L576.5 46.2L575.7 46.0L575.0 45.8L574.4 45.4L573.7 45.4L573.2 44.9L572.2 44.7L572.1 43.8L571.7 43.1L571.8 42.2L572.0 41.4L572.2 40.6L572.9 40.2L573.1 39.5L573.7 39.0L574.2 38.4L574.9 38.3L575.7 38.0L576.4 38.3L577.2 38.5L577.9 39.0L577.9 40.1L578.4 40.7L578.6 41.4ZM578.3 42.2L578.4 42.9L578.1 43.6L577.7 44.2L577.2 44.6L576.6 44.8L576.2 45.3L575.6 45.5L575.0 45.5L574.4 45.4L573.7 45.3L573.1 45.0L572.7 44.3L572.6 43.5L572.6 42.9L572.6 42.2L572.5 41.5L572.9 41.0L572.8 40.1L573.2 39.6L573.7 39.0L574.3 38.6L575.0 39.0L575.6 39.0L576.2 39.0L576.6 39.7L577.2 39.8L577.6 40.4L578.2 40.8L578.5 41.4ZM577.7 42.2L577.8 42.8L577.6 43.4L577.4 43.9L577.0 44.3L576.4 44.4L575.9 44.4L575.5 44.7L575.0 45.0L574.6 44.7L574.0 44.7L573.6 44.3L573.2 43.9L573.1 43.3L573.2 42.7L573.2 42.2L573.1 41.7L573.3 41.2L573.3 40.6L573.7 40.2L574.0 39.7L574.4 39.2L575.1 39.5L575.6 39.4L576.0 39.8L576.4 40.0L576.7 40.4L577.2 40.6L577.3 41.2L577.9 41.6ZM577.2 42.2L577.3 42.7L577.0 43.0L576.7 43.4L576.4 43.6L576.2 43.9L575.9 44.1L575.5 44.2L575.1 44.2L574.7 44.3L574.2 44.3L574.0 43.8L573.8 43.4L573.7 43.0L573.6 42.6L573.5 42.2L573.5 41.8L573.6 41.4L573.9 41.0L574.0 40.6L574.3 40.3L574.7 40.1L575.1 40.0L575.5 40.3L575.8 40.3L576.1 40.6L576.5 40.7L576.8 41.0L577.1 41.3L577.2 41.8Z" fill="none" stroke="#000" stroke-width="0.75"/><ellipse cx="575.30" cy="42.20" rx="0.73" ry="2.02" fill="#fff" opacity="0.85"/><rect x="564.40" y="5.90" width="22.90" height="29.60" fill="none" stroke="#000" stroke-width="1.2"/><text x="552.40" y="21.30" font-size="6.9" text-anchor="middle" fill="#2a2a2a">53.9</text><rect x="534.00" y="77.60" width="60.50" height="60.60" fill="none" stroke="#8a8a8a" stroke-width="0.9"/><path d="M538.7 138.5h1.9v1.6h-1.9zM547.0 138.5h1.9v1.6h-1.9zM560.0 138.5h1.9v1.6h-1.9zM574.1 138.5h1.9v1.6h-1.9zM589.5 138.5h1.9v1.6h-1.9zM543.1 138.6h1.2v1.2h-1.2zM550.5 138.6h1.2v1.2h-1.2zM553.8 138.6h1.2v1.2h-1.2zM557.0 138.6h1.2v1.2h-1.2zM563.8 138.6h1.2v1.2h-1.2zM567.3 138.6h1.2v1.2h-1.2zM570.8 138.6h1.2v1.2h-1.2zM578.2 138.6h1.2v1.2h-1.2zM582.1 138.6h1.2v1.2h-1.2zM585.9 138.6h1.2v1.2h-1.2zM532.4 81.5h1.9v1.6h-1.9zM532.4 96.0h1.9v1.6h-1.9zM532.4 112.6h1.9v1.6h-1.9zM532.4 124.3h1.9v1.6h-1.9zM532.4 131.0h1.9v1.6h-1.9zM532.8 85.4h1.2v1.1h-1.2zM532.8 89.0h1.2v1.1h-1.2zM532.8 92.7h1.2v1.1h-1.2zM532.8 100.5h1.2v1.1h-1.2zM532.8 104.6h1.2v1.1h-1.2zM532.8 108.8h1.2v1.1h-1.2zM532.8 116.8h1.2v1.1h-1.2zM532.8 120.7h1.2v1.1h-1.2zM532.8 127.9h1.2v1.1h-1.2zM533.0 120.1h1.3v9h-1.3z" fill="#000"/><path d="M580 93h1v1h-1zM573 109h1v1h-1zM571 88h1v1h-1zM569 93h1v1h-1zM582 108h1v1h-1zM568 87h1v1h-1zM566 104h1v1h-1zM566 105h1v1h-1zM572 111h1v1h-1zM576 88h1v1h-1zM568 103h1v1h-1zM583 96h1v1h-1zM568 101h1v1h-1zM568 105h1v1h-1zM578 110h1v1h-1zM569 110h1v1h-1zM584 106h1v1h-1zM578 91h1v1h-1zM566 103h1v1h-1zM584 103h1v1h-1zM581 97h1v1h-1zM570 113h1v1h-1zM572 113h1v1h-1zM577 90h1v1h-1zM567 101h1v1h-1zM577 90h1v1h-1zM571 91h1v1h-1zM568 91h1v1h-1zM584 92h1v1h-1zM579 87h1v1h-1zM568 108h1v1h-1zM566 105h1v1h-1zM583 97h1v1h-1zM580 109h1v1h-1zM565 96h1v1h-1zM571 110h1v1h-1zM571 87h1v1h-1zM566 100h1v1h-1zM575 109h1v1h-1zM567 104h1v1h-1zM573 87h1v1h-1zM569 112h1v1h-1zM580 93h1v1h-1zM579 90h1v1h-1zM584 104h1v1h-1zM564 96h1v1h-1zM569 103h1v1h-1zM567 108h1v1h-1zM575 113h1v1h-1zM576 113h1v1h-1zM584 100h1v1h-1zM577 110h1v1h-1zM581 97h1v1h-1zM584 106h1v1h-1zM578 87h1v1h-1zM566 97h1v1h-1zM569 88h1v1h-1zM580 108h1v1h-1zM568 99h1v1h-1zM581 108h1v1h-1zM584 98h1v1h-1zM571 110h1v1h-1zM584 98h1v1h-1zM569 93h1v1h-1zM581 109h1v1h-1zM568 109h1v1h-1zM579 111h1v1h-1zM568 98h1v1h-1zM580 107h1v1h-1zM568 107h1v1h-1zM581 95h1v1h-1zM577 111h1v1h-1zM576 108h1v1h-1zM567 99h1v1h-1zM570 89h1v1h-1zM582 104h1v1h-1zM580 104h1v1h-1zM581 87h1v1h-1zM583 95h1v1h-1zM568 91h1v1h-1zM567 97h1v1h-1zM580 90h1v1h-1zM581 93h1v1h-1zM575 112h1v1h-1zM572 87h1v1h-1zM576 109h1v1h-1zM570 91h1v1h-1zM579 89h1v1h-1zM573 88h1v1h-1zM581 93h1v1h-1zM581 98h1v1h-1zM574 88h1v1h-1zM583 94h1v1h-1zM574 86h1v1h-1zM575 88h1v1h-1zM568 108h1v1h-1zM581 103h1v1h-1zM577 109h1v1h-1zM574 109h1v1h-1zM567 95h1v1h-1zM574 84h1v1h-1zM567 91h1v1h-1zM583 90h1v1h-1z" fill="#343ca6"/><path d="M571 102h1v1h-1zM574 110h1v1h-1zM574 105h1v1h-1zM574 99h1v1h-1zM575 99h1v1h-1zM575 98h1v1h-1zM575 106h1v1h-1zM577 100h1v1h-1zM580 102h1v1h-1zM576 108h1v1h-1zM581 100h1v1h-1zM576 98h1v1h-1zM573 106h1v1h-1zM577 99h1v1h-1zM578 101h1v1h-1zM574 102h1v1h-1zM577 101h1v1h-1zM576 100h1v1h-1zM577 93h1v1h-1zM576 103h1v1h-1zM570 102h1v1h-1zM569 97h1v1h-1zM574 99h1v1h-1zM574 102h1v1h-1zM578 98h1v1h-1zM571 96h1v1h-1zM574 105h1v1h-1zM578 96h1v1h-1zM573 90h1v1h-1zM576 97h1v1h-1zM580 102h1v1h-1zM570 100h1v1h-1zM574 107h1v1h-1zM574 100h1v1h-1z" fill="#343ca6"/><path d="M581.0 99.0L580.4 101.4L579.7 103.5L579.5 106.0L578.2 107.0L577.5 109.1L576.5 110.9L575.2 111.0L573.8 111.0L572.4 111.3L571.5 109.2L570.5 107.6L570.1 105.1L568.9 103.9L568.2 101.6L568.4 99.0L568.4 96.5L568.5 93.9L569.3 91.7L570.3 90.0L571.4 88.5L572.6 87.8L573.9 87.3L575.1 87.7L576.5 87.4L577.7 88.2L578.6 90.1L579.7 91.8L580.3 94.0L580.4 96.6ZM580.8 99.0L580.6 101.5L579.8 103.5L579.0 105.3L578.1 106.8L577.2 108.1L576.1 108.7L575.1 109.5L573.9 110.3L572.6 110.3L571.6 108.8L570.5 107.7L569.8 105.6L569.2 103.5L569.5 101.1L568.8 99.0L569.1 96.8L569.3 94.5L569.7 92.3L570.6 90.7L571.5 88.9L572.7 88.2L573.9 87.8L575.0 89.1L576.0 90.0L577.4 89.4L577.8 91.9L578.9 92.8L579.8 94.4L580.9 96.4ZM579.9 99.0L579.7 101.2L579.3 103.1L578.7 104.9L577.8 106.1L576.8 106.6L576.2 108.9L575.1 109.9L574.0 109.0L572.7 109.8L571.5 108.9L570.7 107.1L570.1 105.2L570.2 102.7L569.7 101.0L569.4 99.0L569.3 96.9L569.6 94.7L569.8 92.3L570.6 90.7L571.8 89.8L572.7 88.5L574.0 89.3L575.0 90.2L576.1 89.5L576.9 91.0L578.0 91.4L579.1 92.6L579.8 94.5L580.2 96.7ZM579.6 99.0L579.2 100.9L579.0 102.8L578.0 103.9L577.4 105.2L576.8 106.7L575.8 106.8L575.0 108.6L574.0 108.7L572.9 108.6L571.9 107.7L571.4 105.7L570.5 104.6L570.4 102.6L570.4 100.7L570.4 99.0L570.3 97.3L570.5 95.5L570.6 93.5L571.3 92.1L572.2 91.1L573.1 90.6L574.0 90.6L574.9 90.9L575.7 91.6L576.6 91.9L577.3 92.9L578.2 93.9L579.1 95.0L579.4 97.0ZM578.1 99.0L578.3 100.6L577.9 101.9L577.7 103.6L577.2 104.9L576.6 105.9L576.0 107.7L574.9 107.0L574.1 106.3L573.3 106.4L572.7 104.9L572.2 104.1L571.5 103.2L571.0 102.0L570.4 100.7L570.2 99.0L570.3 97.3L570.4 95.5L571.2 94.4L571.7 93.0L572.5 92.4L573.3 91.6L574.1 91.6L574.9 91.4L575.8 91.1L576.9 91.1L577.3 93.1L578.1 94.0L578.5 95.6L578.4 97.4ZM578.4 99.0L578.0 100.4L578.0 102.1L577.3 103.0L576.6 103.5L576.1 104.4L575.4 104.6L574.8 104.9L574.1 105.7L573.4 105.8L572.7 105.1L572.0 104.4L571.5 103.3L571.3 101.8L571.1 100.4L571.2 99.0L571.2 97.6L571.5 96.4L571.7 95.0L572.4 94.4L572.7 93.0L573.4 92.6L574.1 92.2L574.8 92.6L575.6 92.4L576.1 93.6L576.6 94.4L577.2 95.2L577.6 96.3L578.1 97.5ZM577.0 99.0L577.2 100.1L577.1 101.2L576.9 102.4L576.3 102.8L575.7 103.0L575.2 103.3L574.7 103.3L574.2 103.9L573.7 103.7L573.2 103.3L572.6 103.1L572.3 102.1L572.1 101.1L572.0 100.0L571.8 99.0L572.0 98.0L572.2 97.0L572.4 96.0L572.7 95.1L573.3 94.9L573.7 94.2L574.2 93.6L574.8 93.6L575.3 94.2L575.7 94.9L576.1 95.6L576.6 96.0L576.7 97.1L576.9 98.0Z" fill="none" stroke="#343ca6" stroke-width="0.6"/><ellipse cx="574.50" cy="99.00" rx="0.99" ry="4.56" fill="#fff" opacity="0.85"/><path d="M575 105h1v1h-1zM579 105h1v1h-1zM574 121h1v1h-1zM568 114h1v1h-1zM575 124h1v1h-1zM581 119h1v1h-1zM571 119h1v1h-1zM581 120h1v1h-1zM584 114h1v1h-1zM570 112h1v1h-1zM576 106h1v1h-1zM567 111h1v1h-1zM570 114h1v1h-1zM573 120h1v1h-1zM581 109h1v1h-1zM583 118h1v1h-1zM572 122h1v1h-1zM582 115h1v1h-1zM574 120h1v1h-1zM567 113h1v1h-1zM583 110h1v1h-1zM584 115h1v1h-1zM581 121h1v1h-1zM569 107h1v1h-1zM570 111h1v1h-1zM583 119h1v1h-1zM572 120h1v1h-1zM568 112h1v1h-1zM571 110h1v1h-1zM580 106h1v1h-1zM582 107h1v1h-1zM572 108h1v1h-1zM571 122h1v1h-1zM572 123h1v1h-1zM576 122h1v1h-1zM584 112h1v1h-1zM570 113h1v1h-1zM571 118h1v1h-1zM567 110h1v1h-1zM575 124h1v1h-1zM582 111h1v1h-1zM582 108h1v1h-1zM579 120h1v1h-1zM569 107h1v1h-1zM573 123h1v1h-1zM572 109h1v1h-1zM574 107h1v1h-1zM580 121h1v1h-1zM585 116h1v1h-1zM585 116h1v1h-1zM585 113h1v1h-1zM568 108h1v1h-1zM583 116h1v1h-1zM570 115h1v1h-1zM573 105h1v1h-1zM570 116h1v1h-1zM572 123h1v1h-1zM583 113h1v1h-1zM585 115h1v1h-1zM574 108h1v1h-1zM569 114h1v1h-1zM584 113h1v1h-1zM583 111h1v1h-1zM572 121h1v1h-1zM582 118h1v1h-1zM574 120h1v1h-1zM580 107h1v1h-1zM574 105h1v1h-1zM577 121h1v1h-1zM579 122h1v1h-1zM574 120h1v1h-1zM579 108h1v1h-1zM583 113h1v1h-1zM572 105h1v1h-1zM576 124h1v1h-1zM572 121h1v1h-1zM569 116h1v1h-1zM573 105h1v1h-1zM570 120h1v1h-1zM581 108h1v1h-1zM569 116h1v1h-1zM579 122h1v1h-1zM575 122h1v1h-1zM582 111h1v1h-1zM572 122h1v1h-1zM569 108h1v1h-1zM581 119h1v1h-1zM579 120h1v1h-1zM569 120h1v1h-1zM579 108h1v1h-1zM574 107h1v1h-1zM570 116h1v1h-1zM577 124h1v1h-1zM574 106h1v1h-1z" fill="#343ca6"/><path d="M577 113h1v1h-1zM575 120h1v1h-1zM579 117h1v1h-1zM574 115h1v1h-1zM576 117h1v1h-1zM573 113h1v1h-1zM573 112h1v1h-1zM575 114h1v1h-1zM578 112h1v1h-1zM581 117h1v1h-1zM579 117h1v1h-1zM575 115h1v1h-1zM574 115h1v1h-1zM572 117h1v1h-1zM572 118h1v1h-1zM579 113h1v1h-1zM576 114h1v1h-1zM577 113h1v1h-1zM573 116h1v1h-1zM573 113h1v1h-1zM578 119h1v1h-1zM574 116h1v1h-1zM575 116h1v1h-1zM571 114h1v1h-1zM572 109h1v1h-1zM577 118h1v1h-1zM571 112h1v1h-1zM576 111h1v1h-1zM578 120h1v1h-1zM576 113h1v1h-1zM577 116h1v1h-1z" fill="#343ca6"/><path d="M581.2 114.0L581.3 115.5L581.4 117.3L580.9 118.9L580.1 120.2L578.9 120.9L577.8 121.5L576.6 122.0L575.5 120.8L574.3 121.0L573.0 121.1L571.9 120.2L571.4 118.6L570.2 117.5L570.2 115.7L570.3 114.0L570.0 112.2L570.6 110.7L571.3 109.3L572.7 109.0L573.5 107.9L574.3 106.6L575.4 105.8L576.6 105.9L578.0 105.3L579.0 106.8L580.2 107.6L580.1 109.9L580.9 111.0L580.9 112.6ZM581.6 114.0L581.1 115.5L581.1 117.1L581.0 119.0L579.8 119.9L578.7 120.4L577.6 120.9L576.5 120.8L575.5 121.1L574.6 120.1L573.3 120.4L572.1 120.0L571.7 118.3L570.9 117.1L570.5 115.6L570.5 114.0L570.7 112.4L571.4 111.2L572.3 110.3L572.4 108.4L573.5 108.0L574.2 106.4L575.4 106.6L576.6 106.6L577.8 106.4L578.7 107.6L579.6 108.4L579.7 110.3L580.2 111.4L580.6 112.7ZM580.7 114.0L580.4 115.3L580.1 116.5L579.8 117.8L579.2 118.9L578.3 119.6L577.5 120.4L576.5 120.9L575.4 121.4L574.4 120.7L573.4 120.2L573.0 118.6L572.5 117.5L571.9 116.5L571.9 115.2L570.9 114.0L570.9 112.5L571.3 111.1L572.0 110.0L572.6 108.8L573.6 108.2L574.6 107.9L575.5 107.8L576.4 108.2L577.3 108.5L578.2 108.7L579.1 109.2L580.0 110.0L580.7 111.1L580.8 112.6ZM580.7 114.0L580.7 115.4L580.1 116.5L579.8 117.8L578.9 118.4L578.0 118.7L577.3 119.7L576.4 119.7L575.6 119.5L574.6 119.9L573.8 119.2L572.9 118.7L572.0 118.0L571.9 116.5L571.8 115.2L572.2 114.0L572.1 112.8L572.0 111.5L572.3 110.3L573.0 109.4L573.5 108.0L574.4 107.3L575.5 107.9L576.5 107.5L577.3 108.6L578.1 109.0L578.7 109.9L579.2 110.8L579.7 111.7L580.7 112.6ZM579.5 114.0L579.9 115.1L579.7 116.3L579.3 117.3L578.9 118.4L578.1 119.1L577.2 119.0L576.4 119.4L575.6 118.8L575.0 118.4L574.1 118.6L573.4 118.0L572.9 117.1L572.2 116.3L572.2 115.1L571.8 114.0L572.4 113.0L572.3 111.8L572.9 110.9L573.7 110.5L574.1 109.4L574.8 109.1L575.6 108.5L576.5 108.0L577.2 109.0L577.9 109.5L578.5 110.1L579.0 111.0L579.4 111.9L579.3 113.0ZM579.0 114.0L579.1 114.9L579.0 115.8L578.9 116.9L578.1 117.3L577.5 117.5L576.9 117.7L576.3 118.0L575.7 117.9L575.1 117.9L574.4 117.9L573.7 117.5L573.0 117.0L573.0 115.9L573.1 114.9L573.1 114.0L573.0 113.1L573.3 112.3L573.5 111.5L573.7 110.5L574.4 110.2L575.0 109.7L575.6 109.3L576.4 109.1L577.1 109.5L577.6 110.3L578.1 110.8L578.3 111.7L578.7 112.3L578.9 113.1ZM578.4 114.0L578.2 114.7L578.2 115.3L577.8 115.8L577.7 116.6L577.3 117.1L576.9 117.6L576.3 117.6L575.7 117.4L575.3 117.1L574.8 116.9L574.5 116.2L574.0 116.0L573.8 115.3L573.4 114.8L573.5 114.0L573.4 113.2L573.5 112.5L573.8 111.8L574.5 111.7L574.8 111.0L575.3 110.8L575.8 111.0L576.2 110.9L576.7 111.0L577.3 110.9L577.7 111.3L578.1 111.9L578.2 112.6L578.5 113.3Z" fill="none" stroke="#343ca6" stroke-width="0.6"/><ellipse cx="576.00" cy="114.00" rx="0.93" ry="3.04" fill="#fff" opacity="0.85"/><rect x="564.70" y="80.40" width="22.80" height="29.30" fill="none" stroke="#000" stroke-width="1.2"/><text x="552.40" y="87.50" font-size="6.9" text-anchor="middle" fill="#2a2a2a">52.7</text><text x="531.60" y="12.35" font-size="4.9" text-anchor="end" fill="#444" letter-spacing="-0.2">10<tspan dy="-2.7" font-size="4.02">5</tspan></text><text x="531.60" y="26.35" font-size="4.9" text-anchor="end" fill="#444" letter-spacing="-0.2">10<tspan dy="-2.7" font-size="4.02">4</tspan></text><text x="531.60" y="43.45" font-size="4.9" text-anchor="end" fill="#444" letter-spacing="-0.2">10<tspan dy="-2.7" font-size="4.02">3</tspan></text><text x="532.20" y="52.25" font-size="4.9" text-anchor="end" fill="#444">0</text><text x="531.60" y="59.65" font-size="4.9" text-anchor="end" fill="#444" letter-spacing="-0.2">-10<tspan dy="-2.7" font-size="4.02">3</tspan></text><text x="531.60" y="86.35" font-size="4.9" text-anchor="end" fill="#444" letter-spacing="-0.2">10<tspan dy="-2.7" font-size="4.02">5</tspan></text><text x="531.60" y="100.85" font-size="4.9" text-anchor="end" fill="#444" letter-spacing="-0.2">10<tspan dy="-2.7" font-size="4.02">4</tspan></text><text x="531.60" y="117.45" font-size="4.9" text-anchor="end" fill="#444" letter-spacing="-0.2">10<tspan dy="-2.7" font-size="4.02">3</tspan></text><text x="532.20" y="126.85" font-size="4.9" text-anchor="end" fill="#444">0</text><text x="531.60" y="135.85" font-size="4.9" text-anchor="end" fill="#444" letter-spacing="-0.2">-10<tspan dy="-2.7" font-size="4.02">3</tspan></text><text x="539.63" y="72.10" font-size="4.9" text-anchor="middle" fill="#444" letter-spacing="-0.2">-10<tspan dy="-2.7" font-size="4.02">3</tspan></text><text x="547.85" y="72.10" font-size="4.9" text-anchor="middle" fill="#444">0</text><text x="560.86" y="72.10" font-size="4.9" text-anchor="middle" fill="#444" letter-spacing="-0.2">10<tspan dy="-2.7" font-size="4.02">3</tspan></text><text x="574.96" y="72.10" font-size="4.9" text-anchor="middle" fill="#444" letter-spacing="-0.2">10<tspan dy="-2.7" font-size="4.02">4</tspan></text><text x="590.39" y="72.10" font-size="4.9" text-anchor="middle" fill="#444" letter-spacing="-0.2">10<tspan dy="-2.7" font-size="4.02">5</tspan></text><text x="539.63" y="146.50" font-size="4.9" text-anchor="middle" fill="#444" letter-spacing="-0.2">-10<tspan dy="-2.7" font-size="4.02">3</tspan></text><text x="547.85" y="146.50" font-size="4.9" text-anchor="middle" fill="#444">0</text><text x="560.86" y="146.50" font-size="4.9" text-anchor="middle" fill="#444" letter-spacing="-0.2">10<tspan dy="-2.7" font-size="4.02">3</tspan></text><text x="574.96" y="146.50" font-size="4.9" text-anchor="middle" fill="#444" letter-spacing="-0.2">10<tspan dy="-2.7" font-size="4.02">4</tspan></text><text x="590.39" y="146.50" font-size="4.9" text-anchor="middle" fill="#444" letter-spacing="-0.2">10<tspan dy="-2.7" font-size="4.02">5</tspan></text><path d="M517.80 7.60L517.80 113.80" stroke="#555" stroke-width="0.9"/><path d="M515.30 8.60L517.80 3.60L520.30 8.60Z" fill="#000"/><text x="519.60" y="142.00" font-size="7.9" fill="#333" transform="rotate(-90 519.60 142.00)">Ki67</text><text x="531.20" y="155.00" font-size="7.9" fill="#333">Foxp3</text><path d="M560.50 153.00L590.00 153.00" stroke="#555" stroke-width="0.9"/><path d="M588.70 150.50L594.00 153.00L588.70 155.50Z" fill="#000"/><path d="M486 58h1v1h-1zM483 57h1v1h-1zM485 57h1v1h-1zM486 56h1v1h-1zM481 59h1v1h-1zM487 54h1v1h-1zM486 54h1v1h-1zM485 54h1v1h-1zM481 57h1v1h-1zM480 58h1v1h-1zM490 56h1v1h-1zM480 57h1v1h-1zM482 52h1v1h-1zM486 57h1v1h-1z" fill="#000"/><rect x="178.30" y="165.30" width="54.10" height="70.30" fill="none" stroke="#222" stroke-width="0.9"/><path d="M176.10 232.50L178.30 232.50" stroke="#222" stroke-width="0.8"/><text x="175.70" y="235.00" font-size="7.0" text-anchor="end" fill="#333">0</text><path d="M176.10 219.80L178.30 219.80" stroke="#222" stroke-width="0.8"/><text x="175.70" y="222.30" font-size="7.0" text-anchor="end" fill="#333">20</text><path d="M176.10 207.10L178.30 207.10" stroke="#222" stroke-width="0.8"/><text x="175.70" y="209.60" font-size="7.0" text-anchor="end" fill="#333">40</text><path d="M176.10 194.40L178.30 194.40" stroke="#222" stroke-width="0.8"/><text x="175.70" y="196.90" font-size="7.0" text-anchor="end" fill="#333">60</text><path d="M176.10 181.70L178.30 181.70" stroke="#222" stroke-width="0.8"/><text x="175.70" y="184.20" font-size="7.0" text-anchor="end" fill="#333">80</text><path d="M176.10 169.00L178.30 169.00" stroke="#222" stroke-width="0.8"/><text x="175.70" y="171.50" font-size="7.0" text-anchor="end" fill="#333">100</text><text x="161.30" y="198.60" font-size="7.9" text-anchor="middle" fill="#333" transform="rotate(-90 161.30 198.60)">CD25+ cells (%)</text><path d="M193.30 235.60L193.30 237.60" stroke="#222" stroke-width="0.8"/><path d="M218.10 235.60L218.10 237.60" stroke="#222" stroke-width="0.8"/><text x="195.00" y="238.30" font-size="7.0" text-anchor="end" fill="#333" transform="rotate(-90 195.00 238.30)">Naive</text><text x="220.00" y="238.30" font-size="6.8" text-anchor="end" fill="#333" transform="rotate(-90 220.00 238.30)">LCMV</text><circle cx="193.30" cy="176.81" r="2.3" fill="#d6d6d6" stroke="#1a1a1a" stroke-width="0.95"/><circle cx="190.90" cy="182.02" r="2.3" fill="#d6d6d6" stroke="#1a1a1a" stroke-width="0.95"/><circle cx="195.70" cy="182.02" r="2.3" fill="#d6d6d6" stroke="#1a1a1a" stroke-width="0.95"/><circle cx="193.30" cy="185.45" r="2.3" fill="#d6d6d6" stroke="#1a1a1a" stroke-width="0.95"/><circle cx="218.10" cy="179.48" r="2.3" fill="#3d47a6" stroke="#1a1a1a" stroke-width="0.95"/><circle cx="215.20" cy="185.00" r="2.3" fill="#3d47a6" stroke="#1a1a1a" stroke-width="0.95"/><circle cx="221.00" cy="185.00" r="2.3" fill="#3d47a6" stroke="#1a1a1a" stroke-width="0.95"/><path d="M193.30 176.81L193.30 185.45" stroke="#000" stroke-width="0.9"/><path d="M191.50 176.81L195.10 176.81" stroke="#000" stroke-width="0.9"/><path d="M191.50 185.45L195.10 185.45" stroke="#000" stroke-width="0.9"/><path d="M218.10 179.48L218.10 185.00" stroke="#000" stroke-width="0.9"/><path d="M216.30 179.48L219.90 179.48" stroke="#000" stroke-width="0.9"/><path d="M216.30 185.00L219.90 185.00" stroke="#000" stroke-width="0.9"/><rect x="267.90" y="165.30" width="53.60" height="70.30" fill="none" stroke="#222" stroke-width="0.9"/><path d="M265.70 232.50L267.90 232.50" stroke="#222" stroke-width="0.8"/><text x="265.30" y="235.00" font-size="7.0" text-anchor="end" fill="#333">0</text><path d="M265.70 219.80L267.90 219.80" stroke="#222" stroke-width="0.8"/><text x="265.30" y="222.30" font-size="7.0" text-anchor="end" fill="#333">20</text><path d="M265.70 207.10L267.90 207.10" stroke="#222" stroke-width="0.8"/><text x="265.30" y="209.60" font-size="7.0" text-anchor="end" fill="#333">40</text><path d="M265.70 194.40L267.90 194.40" stroke="#222" stroke-width="0.8"/><text x="265.30" y="196.90" font-size="7.0" text-anchor="end" fill="#333">60</text><path d="M265.70 181.70L267.90 181.70" stroke="#222" stroke-width="0.8"/><text x="265.30" y="184.20" font-size="7.0" text-anchor="end" fill="#333">80</text><path d="M265.70 169.00L267.90 169.00" stroke="#222" stroke-width="0.8"/><text x="265.30" y="171.50" font-size="7.0" text-anchor="end" fill="#333">100</text><text x="250.90" y="198.60" font-size="7.9" text-anchor="middle" fill="#333" transform="rotate(-90 250.90 198.60)">CXCR3+ cells (%)</text><path d="M282.90 235.60L282.90 237.60" stroke="#222" stroke-width="0.8"/><path d="M307.70 235.60L307.70 237.60" stroke="#222" stroke-width="0.8"/><text x="284.60" y="238.30" font-size="7.0" text-anchor="end" fill="#333" transform="rotate(-90 284.60 238.30)">Naive</text><text x="309.60" y="238.30" font-size="6.8" text-anchor="end" fill="#333" transform="rotate(-90 309.60 238.30)">LCMV</text><circle cx="280.70" cy="212.69" r="2.3" fill="#d6d6d6" stroke="#1a1a1a" stroke-width="0.95"/><circle cx="285.10" cy="212.69" r="2.3" fill="#d6d6d6" stroke="#1a1a1a" stroke-width="0.95"/><circle cx="280.70" cy="218.97" r="2.3" fill="#d6d6d6" stroke="#1a1a1a" stroke-width="0.95"/><circle cx="285.10" cy="218.97" r="2.3" fill="#d6d6d6" stroke="#1a1a1a" stroke-width="0.95"/><circle cx="305.30" cy="210.53" r="2.3" fill="#3d47a6" stroke="#1a1a1a" stroke-width="0.95"/><circle cx="310.10" cy="210.53" r="2.3" fill="#3d47a6" stroke="#1a1a1a" stroke-width="0.95"/><circle cx="307.70" cy="215.86" r="2.3" fill="#3d47a6" stroke="#1a1a1a" stroke-width="0.95"/><circle cx="307.70" cy="221.32" r="2.3" fill="#3d47a6" stroke="#1a1a1a" stroke-width="0.95"/><path d="M282.90 212.69L282.90 218.97" stroke="#000" stroke-width="0.9"/><path d="M281.10 212.69L284.70 212.69" stroke="#000" stroke-width="0.9"/><path d="M281.10 218.97L284.70 218.97" stroke="#000" stroke-width="0.9"/><path d="M307.70 210.53L307.70 221.32" stroke="#000" stroke-width="0.9"/><path d="M305.90 210.53L309.50 210.53" stroke="#000" stroke-width="0.9"/><path d="M305.90 221.32L309.50 221.32" stroke="#000" stroke-width="0.9"/><rect x="358.40" y="165.30" width="53.80" height="70.30" fill="none" stroke="#222" stroke-width="0.9"/><path d="M356.20 232.50L358.40 232.50" stroke="#222" stroke-width="0.8"/><text x="355.80" y="235.00" font-size="7.0" text-anchor="end" fill="#333">0</text><path d="M356.20 219.80L358.40 219.80" stroke="#222" stroke-width="0.8"/><text x="355.80" y="222.30" font-size="7.0" text-anchor="end" fill="#333">20</text><path d="M356.20 207.10L358.40 207.10" stroke="#222" stroke-width="0.8"/><text x="355.80" y="209.60" font-size="7.0" text-anchor="end" fill="#333">40</text><path d="M356.20 194.40L358.40 194.40" stroke="#222" stroke-width="0.8"/><text x="355.80" y="196.90" font-size="7.0" text-anchor="end" fill="#333">60</text><path d="M356.20 181.70L358.40 181.70" stroke="#222" stroke-width="0.8"/><text x="355.80" y="184.20" font-size="7.0" text-anchor="end" fill="#333">80</text><path d="M356.20 169.00L358.40 169.00" stroke="#222" stroke-width="0.8"/><text x="355.80" y="171.50" font-size="7.0" text-anchor="end" fill="#333">100</text><text x="341.40" y="198.60" font-size="7.9" text-anchor="middle" fill="#333" transform="rotate(-90 341.40 198.60)">CD44+ cells (%)</text><path d="M373.40 235.60L373.40 237.60" stroke="#222" stroke-width="0.8"/><path d="M398.20 235.60L398.20 237.60" stroke="#222" stroke-width="0.8"/><text x="375.10" y="238.30" font-size="7.0" text-anchor="end" fill="#333" transform="rotate(-90 375.10 238.30)">Naive</text><text x="400.10" y="238.30" font-size="6.8" text-anchor="end" fill="#333" transform="rotate(-90 400.10 238.30)">LCMV</text><circle cx="373.40" cy="186.14" r="2.3" fill="#d6d6d6" stroke="#1a1a1a" stroke-width="0.95"/><circle cx="373.40" cy="190.97" r="2.3" fill="#d6d6d6" stroke="#1a1a1a" stroke-width="0.95"/><circle cx="371.00" cy="195.92" r="2.3" fill="#d6d6d6" stroke="#1a1a1a" stroke-width="0.95"/><circle cx="375.80" cy="195.92" r="2.3" fill="#d6d6d6" stroke="#1a1a1a" stroke-width="0.95"/><circle cx="395.80" cy="187.67" r="2.3" fill="#3d47a6" stroke="#1a1a1a" stroke-width="0.95"/><circle cx="400.60" cy="187.67" r="2.3" fill="#3d47a6" stroke="#1a1a1a" stroke-width="0.95"/><circle cx="395.80" cy="198.97" r="2.3" fill="#3d47a6" stroke="#1a1a1a" stroke-width="0.95"/><circle cx="400.60" cy="198.97" r="2.3" fill="#3d47a6" stroke="#1a1a1a" stroke-width="0.95"/><path d="M373.40 186.14L373.40 195.92" stroke="#000" stroke-width="0.9"/><path d="M371.60 186.14L375.20 186.14" stroke="#000" stroke-width="0.9"/><path d="M371.60 195.92L375.20 195.92" stroke="#000" stroke-width="0.9"/><path d="M398.20 187.67L398.20 198.97" stroke="#000" stroke-width="0.9"/><path d="M396.40 187.67L400.00 187.67" stroke="#000" stroke-width="0.9"/><path d="M396.40 198.97L400.00 198.97" stroke="#000" stroke-width="0.9"/><rect x="449.00" y="165.30" width="53.70" height="70.30" fill="none" stroke="#222" stroke-width="0.9"/><path d="M446.80 232.50L449.00 232.50" stroke="#222" stroke-width="0.8"/><text x="446.40" y="235.00" font-size="7.0" text-anchor="end" fill="#333">0</text><path d="M446.80 219.80L449.00 219.80" stroke="#222" stroke-width="0.8"/><text x="446.40" y="222.30" font-size="7.0" text-anchor="end" fill="#333">20</text><path d="M446.80 207.10L449.00 207.10" stroke="#222" stroke-width="0.8"/><text x="446.40" y="209.60" font-size="7.0" text-anchor="end" fill="#333">40</text><path d="M446.80 194.40L449.00 194.40" stroke="#222" stroke-width="0.8"/><text x="446.40" y="196.90" font-size="7.0" text-anchor="end" fill="#333">60</text><path d="M446.80 181.70L449.00 181.70" stroke="#222" stroke-width="0.8"/><text x="446.40" y="184.20" font-size="7.0" text-anchor="end" fill="#333">80</text><path d="M446.80 169.00L449.00 169.00" stroke="#222" stroke-width="0.8"/><text x="446.40" y="171.50" font-size="7.0" text-anchor="end" fill="#333">100</text><text x="432.00" y="198.60" font-size="7.9" text-anchor="middle" fill="#333" transform="rotate(-90 432.00 198.60)">TIGIT+ cells (%)</text><path d="M464.00 235.60L464.00 237.60" stroke="#222" stroke-width="0.8"/><path d="M488.80 235.60L488.80 237.60" stroke="#222" stroke-width="0.8"/><text x="465.70" y="238.30" font-size="7.0" text-anchor="end" fill="#333" transform="rotate(-90 465.70 238.30)">Naive</text><text x="490.70" y="238.30" font-size="6.8" text-anchor="end" fill="#333" transform="rotate(-90 490.70 238.30)">LCMV</text><circle cx="464.00" cy="195.99" r="2.3" fill="#d6d6d6" stroke="#1a1a1a" stroke-width="0.95"/><circle cx="464.00" cy="201.58" r="2.3" fill="#d6d6d6" stroke="#1a1a1a" stroke-width="0.95"/><circle cx="464.00" cy="205.83" r="2.3" fill="#d6d6d6" stroke="#1a1a1a" stroke-width="0.95"/><circle cx="464.00" cy="211.29" r="2.3" fill="#d6d6d6" stroke="#1a1a1a" stroke-width="0.95"/><circle cx="488.80" cy="194.72" r="2.3" fill="#3d47a6" stroke="#1a1a1a" stroke-width="0.95"/><circle cx="488.80" cy="204.37" r="2.3" fill="#3d47a6" stroke="#1a1a1a" stroke-width="0.95"/><circle cx="488.80" cy="207.10" r="2.3" fill="#3d47a6" stroke="#1a1a1a" stroke-width="0.95"/><circle cx="488.80" cy="211.29" r="2.3" fill="#3d47a6" stroke="#1a1a1a" stroke-width="0.95"/><path d="M464.00 195.99L464.00 211.29" stroke="#000" stroke-width="0.9"/><path d="M462.20 195.99L465.80 195.99" stroke="#000" stroke-width="0.9"/><path d="M462.20 211.29L465.80 211.29" stroke="#000" stroke-width="0.9"/><path d="M488.80 194.72L488.80 211.29" stroke="#000" stroke-width="0.9"/><path d="M487.00 194.72L490.60 194.72" stroke="#000" stroke-width="0.9"/><path d="M487.00 211.29L490.60 211.29" stroke="#000" stroke-width="0.9"/><rect x="540.70" y="165.30" width="54.10" height="70.30" fill="none" stroke="#222" stroke-width="0.9"/><path d="M538.50 232.50L540.70 232.50" stroke="#222" stroke-width="0.8"/><text x="538.10" y="235.00" font-size="7.0" text-anchor="end" fill="#333">0</text><path d="M538.50 219.80L540.70 219.80" stroke="#222" stroke-width="0.8"/><text x="538.10" y="222.30" font-size="7.0" text-anchor="end" fill="#333">20</text><path d="M538.50 207.10L540.70 207.10" stroke="#222" stroke-width="0.8"/><text x="538.10" y="209.60" font-size="7.0" text-anchor="end" fill="#333">40</text><path d="M538.50 194.40L540.70 194.40" stroke="#222" stroke-width="0.8"/><text x="538.10" y="196.90" font-size="7.0" text-anchor="end" fill="#333">60</text><path d="M538.50 181.70L540.70 181.70" stroke="#222" stroke-width="0.8"/><text x="538.10" y="184.20" font-size="7.0" text-anchor="end" fill="#333">80</text><path d="M538.50 169.00L540.70 169.00" stroke="#222" stroke-width="0.8"/><text x="538.10" y="171.50" font-size="7.0" text-anchor="end" fill="#333">100</text><text x="523.70" y="198.60" font-size="7.9" text-anchor="middle" fill="#333" transform="rotate(-90 523.70 198.60)">Ki67+ cells (%)</text><path d="M555.70 235.60L555.70 237.60" stroke="#222" stroke-width="0.8"/><path d="M580.50 235.60L580.50 237.60" stroke="#222" stroke-width="0.8"/><text x="557.40" y="238.30" font-size="7.0" text-anchor="end" fill="#333" transform="rotate(-90 557.40 238.30)">Naive</text><text x="582.40" y="238.30" font-size="6.8" text-anchor="end" fill="#333" transform="rotate(-90 582.40 238.30)">LCMV</text><circle cx="555.70" cy="195.67" r="2.3" fill="#d6d6d6" stroke="#1a1a1a" stroke-width="0.95"/><circle cx="555.70" cy="198.84" r="2.3" fill="#d6d6d6" stroke="#1a1a1a" stroke-width="0.95"/><circle cx="555.70" cy="202.02" r="2.3" fill="#d6d6d6" stroke="#1a1a1a" stroke-width="0.95"/><circle cx="555.70" cy="205.19" r="2.3" fill="#d6d6d6" stroke="#1a1a1a" stroke-width="0.95"/><circle cx="580.50" cy="194.40" r="2.3" fill="#3d47a6" stroke="#1a1a1a" stroke-width="0.95"/><circle cx="580.50" cy="198.21" r="2.3" fill="#3d47a6" stroke="#1a1a1a" stroke-width="0.95"/><circle cx="580.50" cy="203.93" r="2.3" fill="#3d47a6" stroke="#1a1a1a" stroke-width="0.95"/><circle cx="580.50" cy="209.00" r="2.3" fill="#3d47a6" stroke="#1a1a1a" stroke-width="0.95"/><path d="M555.70 195.67L555.70 205.19" stroke="#000" stroke-width="0.9"/><path d="M553.90 195.67L557.50 195.67" stroke="#000" stroke-width="0.9"/><path d="M553.90 205.19L557.50 205.19" stroke="#000" stroke-width="0.9"/><path d="M580.50 194.40L580.50 209.00" stroke="#000" stroke-width="0.9"/><path d="M578.70 194.40L582.30 194.40" stroke="#000" stroke-width="0.9"/><path d="M578.70 209.00L582.30 209.00" stroke="#000" stroke-width="0.9"/><circle cx="603.4" cy="7.9" r="4.3" fill="#c9c9c9" stroke="#111" stroke-width="0.9"/><circle cx="603.4" cy="22.6" r="4.3" fill="#3d47a8" stroke="#111" stroke-width="0.9"/><text x="616.30" y="10.10" font-size="7.95" fill="#444">Naive</text><text x="616.30" y="25.20" font-size="7.95" fill="#444">LCMV experienced</text><path d="M60.00 285.10L60.00 386.90" stroke="#000" stroke-width="1.2"/><path d="M59.40 386.30L250.40 386.30" stroke="#000" stroke-width="1.2"/><path d="M56.20 386.30L60.00 386.30" stroke="#000" stroke-width="1"/><text x="54.20" y="388.90" font-size="7.3" text-anchor="end" fill="#333">0</text><path d="M56.20 337.90L60.00 337.90" stroke="#000" stroke-width="1"/><text x="54.20" y="340.50" font-size="7.3" text-anchor="end" fill="#333">50</text><path d="M56.20 289.50L60.00 289.50" stroke="#000" stroke-width="1"/><text x="54.20" y="292.10" font-size="7.3" text-anchor="end" fill="#333">100</text><text x="35.00" y="339.20" font-size="7.7" text-anchor="middle" fill="#333" transform="rotate(-90 35.00 339.20)">Chimerism &#160;of CD90.2+ Tregs (%)</text><rect x="68.70" y="288.53" width="22.20" height="49.37" fill="#4753a8"/><rect x="68.70" y="337.90" width="22.20" height="48.40" fill="#cbc7c7"/><path d="M79.80 288.13L79.80 289.93" stroke="#000" stroke-width="1.3"/><path d="M76.80 288.13L82.80 288.13" stroke="#000" stroke-width="1.6"/><path d="M79.80 337.40L79.80 340.30" stroke="#000" stroke-width="1.3"/><path d="M76.80 337.90L82.80 337.90" stroke="#000" stroke-width="1.6"/><path d="M79.80 386.30L79.80 390.20" stroke="#000" stroke-width="1.1"/><text x="79.80" y="399.50" font-size="8.1" text-anchor="middle" fill="#333">Transf. Cells</text><rect x="128.90" y="288.53" width="22.10" height="50.34" fill="#4753a8"/><rect x="128.90" y="338.87" width="22.10" height="47.43" fill="#cbc7c7"/><path d="M139.95 288.13L139.95 289.93" stroke="#000" stroke-width="1.3"/><path d="M136.95 288.13L142.95 288.13" stroke="#000" stroke-width="1.6"/><path d="M139.95 338.37L139.95 341.27" stroke="#000" stroke-width="1.3"/><path d="M136.95 338.87L142.95 338.87" stroke="#000" stroke-width="1.6"/><path d="M139.95 386.30L139.95 390.20" stroke="#000" stroke-width="1.1"/><text x="139.95" y="399.50" font-size="8.1" text-anchor="middle" fill="#333">Spleen</text><rect x="159.00" y="288.53" width="22.40" height="50.34" fill="#4753a8"/><rect x="159.00" y="338.87" width="22.40" height="47.43" fill="#cbc7c7"/><path d="M170.20 288.13L170.20 289.93" stroke="#000" stroke-width="1.3"/><path d="M167.20 288.13L173.20 288.13" stroke="#000" stroke-width="1.6"/><path d="M170.20 338.37L170.20 341.27" stroke="#000" stroke-width="1.3"/><path d="M167.20 338.87L173.20 338.87" stroke="#000" stroke-width="1.6"/><path d="M170.20 386.30L170.20 390.20" stroke="#000" stroke-width="1.1"/><text x="170.20" y="399.50" font-size="8.1" text-anchor="middle" fill="#333">pLNs</text><rect x="188.80" y="288.82" width="23.00" height="54.01" fill="#4753a8"/><rect x="188.80" y="342.84" width="23.00" height="43.46" fill="#cbc7c7"/><path d="M200.30 288.02L200.30 290.22" stroke="#000" stroke-width="1.3"/><path d="M197.30 288.02L203.30 288.02" stroke="#000" stroke-width="1.6"/><path d="M200.30 342.34L200.30 345.64" stroke="#000" stroke-width="1.3"/><path d="M197.30 342.84L203.30 342.84" stroke="#000" stroke-width="1.6"/><path d="M200.30 386.30L200.30 390.20" stroke="#000" stroke-width="1.1"/><text x="200.30" y="399.50" font-size="8.1" text-anchor="middle" fill="#333">BM</text><rect x="219.00" y="288.53" width="22.60" height="49.37" fill="#4753a8"/><rect x="219.00" y="337.90" width="22.60" height="48.40" fill="#cbc7c7"/><path d="M230.30 286.33L230.30 289.93" stroke="#000" stroke-width="1.3"/><path d="M227.30 286.33L233.30 286.33" stroke="#000" stroke-width="1.6"/><path d="M230.30 335.50L230.30 339.50" stroke="#000" stroke-width="1.3"/><path d="M227.30 335.50L233.30 335.50" stroke="#000" stroke-width="1.6"/><path d="M230.30 386.30L230.30 390.20" stroke="#000" stroke-width="1.1"/><text x="230.30" y="399.50" font-size="8.1" text-anchor="middle" fill="#333">Lung</text><path d="M57.80 406.30L101.80 406.30" stroke="#777" stroke-width="1"/><path d="M126.50 406.30L241.60 406.30" stroke="#777" stroke-width="1"/><text x="79.80" y="416.40" font-size="7.9" text-anchor="middle" fill="#333">Day 0</text><text x="184.20" y="416.40" font-size="7.9" text-anchor="middle" fill="#333">Day 21-28</text><path d="M300.80 385.50L303.30 385.50" stroke="#222" stroke-width="0.8"/><text x="299.20" y="388.00" font-size="7.1" text-anchor="end" fill="#333">0</text><path d="M300.80 355.40L303.30 355.40" stroke="#222" stroke-width="0.8"/><text x="299.20" y="357.90" font-size="7.1" text-anchor="end" fill="#333">1000</text><path d="M300.80 325.30L303.30 325.30" stroke="#222" stroke-width="0.8"/><text x="299.20" y="327.80" font-size="7.1" text-anchor="end" fill="#333">2000</text><path d="M300.80 295.20L303.30 295.20" stroke="#222" stroke-width="0.8"/><text x="299.20" y="297.70" font-size="7.1" text-anchor="end" fill="#333">3000</text><text x="275.20" y="341.70" font-size="7.9" text-anchor="middle" fill="#333" transform="rotate(-90 275.20 341.70)">CD4+ Foxp3+ (#)</text><rect x="303.30" y="290.60" width="46.20" height="99.60" fill="none" stroke="#333" stroke-width="1"/><text x="327.20" y="287.00" font-size="8.3" text-anchor="middle" fill="#333">Spleen</text><path d="M315.70 390.40L315.70 392.40" stroke="#222" stroke-width="0.8"/><path d="M337.00 390.40L337.00 392.40" stroke="#222" stroke-width="0.8"/><text x="318.20" y="394.30" font-size="7.0" text-anchor="end" fill="#333" transform="rotate(-90 318.20 394.30)">Naive</text><text x="339.50" y="394.30" font-size="6.6" text-anchor="end" fill="#333" transform="rotate(-90 339.50 394.30)">LCMV</text><path d="M315.70 327.71L315.70 363.68" stroke="#000" stroke-width="1.0"/><path d="M313.70 327.71L317.70 327.71" stroke="#000" stroke-width="1.0"/><path d="M313.70 363.68L317.70 363.68" stroke="#000" stroke-width="1.0"/><path d="M337.00 311.45L337.00 356.45" stroke="#000" stroke-width="1.0"/><path d="M335.00 311.45L339.00 311.45" stroke="#000" stroke-width="1.0"/><path d="M335.00 356.45L339.00 356.45" stroke="#000" stroke-width="1.0"/><circle cx="315.70" cy="316.27" r="3.0" fill="#c9c9c9" stroke="#1a1a1a" stroke-width="1.05"/><circle cx="315.70" cy="327.71" r="3.0" fill="#c9c9c9" stroke="#1a1a1a" stroke-width="1.05"/><circle cx="311.70" cy="338.24" r="3.0" fill="#c9c9c9" stroke="#1a1a1a" stroke-width="1.05"/><circle cx="319.70" cy="338.24" r="3.0" fill="#c9c9c9" stroke="#1a1a1a" stroke-width="1.05"/><circle cx="309.10" cy="363.68" r="3.0" fill="#c9c9c9" stroke="#1a1a1a" stroke-width="1.05"/><circle cx="315.70" cy="363.68" r="3.0" fill="#c9c9c9" stroke="#1a1a1a" stroke-width="1.05"/><circle cx="321.50" cy="363.68" r="3.0" fill="#c9c9c9" stroke="#1a1a1a" stroke-width="1.05"/><circle cx="337.00" cy="303.48" r="3.0" fill="#4753a8" stroke="#1a1a1a" stroke-width="1.05"/><circle cx="337.00" cy="311.45" r="3.0" fill="#4753a8" stroke="#1a1a1a" stroke-width="1.05"/><circle cx="337.00" cy="328.31" r="3.0" fill="#4753a8" stroke="#1a1a1a" stroke-width="1.05"/><circle cx="337.00" cy="332.82" r="3.0" fill="#4753a8" stroke="#1a1a1a" stroke-width="1.05"/><circle cx="337.00" cy="351.19" r="3.0" fill="#4753a8" stroke="#1a1a1a" stroke-width="1.05"/><circle cx="337.00" cy="356.45" r="3.0" fill="#4753a8" stroke="#1a1a1a" stroke-width="1.05"/><circle cx="337.00" cy="365.94" r="3.0" fill="#4753a8" stroke="#1a1a1a" stroke-width="1.05"/><rect x="351.80" y="290.60" width="47.00" height="99.60" fill="none" stroke="#333" stroke-width="1"/><text x="376.10" y="287.00" font-size="8.3" text-anchor="middle" fill="#333">pLNs</text><path d="M364.20 390.40L364.20 392.40" stroke="#222" stroke-width="0.8"/><path d="M385.50 390.40L385.50 392.40" stroke="#222" stroke-width="0.8"/><text x="366.70" y="394.30" font-size="7.0" text-anchor="end" fill="#333" transform="rotate(-90 366.70 394.30)">Naive</text><text x="388.00" y="394.30" font-size="6.6" text-anchor="end" fill="#333" transform="rotate(-90 388.00 394.30)">LCMV</text><path d="M364.20 360.37L364.20 370.60" stroke="#000" stroke-width="1.0"/><path d="M362.20 360.37L366.20 360.37" stroke="#000" stroke-width="1.0"/><path d="M362.20 370.60L366.20 370.60" stroke="#000" stroke-width="1.0"/><path d="M385.50 357.81L385.50 368.79" stroke="#000" stroke-width="1.0"/><path d="M383.50 357.81L387.50 357.81" stroke="#000" stroke-width="1.0"/><path d="M383.50 368.79L387.50 368.79" stroke="#000" stroke-width="1.0"/><circle cx="364.20" cy="360.37" r="3.0" fill="#c9c9c9" stroke="#1a1a1a" stroke-width="1.05"/><circle cx="364.20" cy="365.78" r="3.0" fill="#c9c9c9" stroke="#1a1a1a" stroke-width="1.05"/><circle cx="360.60" cy="370.60" r="3.0" fill="#c9c9c9" stroke="#1a1a1a" stroke-width="1.05"/><circle cx="367.90" cy="370.60" r="3.0" fill="#c9c9c9" stroke="#1a1a1a" stroke-width="1.05"/><circle cx="385.50" cy="357.81" r="3.0" fill="#4753a8" stroke="#1a1a1a" stroke-width="1.05"/><circle cx="381.10" cy="364.58" r="3.0" fill="#4753a8" stroke="#1a1a1a" stroke-width="1.05"/><circle cx="389.60" cy="364.58" r="3.0" fill="#4753a8" stroke="#1a1a1a" stroke-width="1.05"/><circle cx="385.50" cy="368.79" r="3.0" fill="#4753a8" stroke="#1a1a1a" stroke-width="1.05"/><rect x="400.50" y="290.60" width="46.90" height="99.60" fill="none" stroke="#333" stroke-width="1"/><text x="424.75" y="287.00" font-size="8.3" text-anchor="middle" fill="#333">BM</text><path d="M412.90 390.40L412.90 392.40" stroke="#222" stroke-width="0.8"/><path d="M434.20 390.40L434.20 392.40" stroke="#222" stroke-width="0.8"/><text x="415.40" y="394.30" font-size="7.0" text-anchor="end" fill="#333" transform="rotate(-90 415.40 394.30)">Naive</text><text x="436.70" y="394.30" font-size="6.6" text-anchor="end" fill="#333" transform="rotate(-90 436.70 394.30)">LCMV</text><path d="M412.90 375.57L412.90 379.48" stroke="#000" stroke-width="1.0"/><path d="M410.90 375.57L414.90 375.57" stroke="#000" stroke-width="1.0"/><path d="M410.90 379.48L414.90 379.48" stroke="#000" stroke-width="1.0"/><path d="M434.20 377.67L434.20 379.48" stroke="#000" stroke-width="1.0"/><path d="M432.20 377.67L436.20 377.67" stroke="#000" stroke-width="1.0"/><path d="M432.20 379.48L436.20 379.48" stroke="#000" stroke-width="1.0"/><circle cx="412.90" cy="373.46" r="3.0" fill="#c9c9c9" stroke="#1a1a1a" stroke-width="1.05"/><circle cx="409.30" cy="377.37" r="3.0" fill="#c9c9c9" stroke="#1a1a1a" stroke-width="1.05"/><circle cx="416.50" cy="377.37" r="3.0" fill="#c9c9c9" stroke="#1a1a1a" stroke-width="1.05"/><circle cx="412.90" cy="381.44" r="3.0" fill="#c9c9c9" stroke="#1a1a1a" stroke-width="1.05"/><circle cx="434.20" cy="376.02" r="3.0" fill="#4753a8" stroke="#1a1a1a" stroke-width="1.05"/><circle cx="428.10" cy="379.18" r="3.0" fill="#4753a8" stroke="#1a1a1a" stroke-width="1.05"/><circle cx="434.20" cy="379.18" r="3.0" fill="#4753a8" stroke="#1a1a1a" stroke-width="1.05"/><circle cx="440.40" cy="379.18" r="3.0" fill="#4753a8" stroke="#1a1a1a" stroke-width="1.05"/><rect x="449.40" y="290.60" width="46.40" height="99.60" fill="none" stroke="#333" stroke-width="1"/><text x="473.40" y="287.00" font-size="8.3" text-anchor="middle" fill="#333">Lung</text><path d="M461.80 390.40L461.80 392.40" stroke="#222" stroke-width="0.8"/><path d="M483.10 390.40L483.10 392.40" stroke="#222" stroke-width="0.8"/><text x="464.30" y="394.30" font-size="7.0" text-anchor="end" fill="#333" transform="rotate(-90 464.30 394.30)">Naive</text><text x="485.60" y="394.30" font-size="6.6" text-anchor="end" fill="#333" transform="rotate(-90 485.60 394.30)">LCMV</text><path d="M461.80 381.59L461.80 382.79" stroke="#000" stroke-width="1.0"/><path d="M459.80 381.59L463.80 381.59" stroke="#000" stroke-width="1.0"/><path d="M459.80 382.79L463.80 382.79" stroke="#000" stroke-width="1.0"/><path d="M483.10 380.68L483.10 381.89" stroke="#000" stroke-width="1.0"/><path d="M481.10 380.68L485.10 380.68" stroke="#000" stroke-width="1.0"/><path d="M481.10 381.89L485.10 381.89" stroke="#000" stroke-width="1.0"/><circle cx="461.80" cy="380.68" r="3.0" fill="#c9c9c9" stroke="#1a1a1a" stroke-width="1.05"/><circle cx="457.80" cy="383.24" r="3.0" fill="#c9c9c9" stroke="#1a1a1a" stroke-width="1.05"/><circle cx="465.80" cy="383.24" r="3.0" fill="#c9c9c9" stroke="#1a1a1a" stroke-width="1.05"/><circle cx="476.90" cy="381.29" r="3.0" fill="#4753a8" stroke="#1a1a1a" stroke-width="1.05"/><circle cx="483.10" cy="381.29" r="3.0" fill="#4753a8" stroke="#1a1a1a" stroke-width="1.05"/><circle cx="489.40" cy="381.29" r="3.0" fill="#4753a8" stroke="#1a1a1a" stroke-width="1.05"/><path d="M315.70 327.71L315.70 363.68" stroke="#000" stroke-width="1.0"/><path d="M313.70 327.71L317.70 327.71" stroke="#000" stroke-width="1.0"/><path d="M313.70 363.68L317.70 363.68" stroke="#000" stroke-width="1.0"/><path d="M337.00 311.45L337.00 356.45" stroke="#000" stroke-width="1.0"/><path d="M335.00 311.45L339.00 311.45" stroke="#000" stroke-width="1.0"/><path d="M335.00 356.45L339.00 356.45" stroke="#000" stroke-width="1.0"/><path d="M364.20 360.37L364.20 370.60" stroke="#000" stroke-width="1.0"/><path d="M362.20 360.37L366.20 360.37" stroke="#000" stroke-width="1.0"/><path d="M362.20 370.60L366.20 370.60" stroke="#000" stroke-width="1.0"/><path d="M385.50 357.81L385.50 368.79" stroke="#000" stroke-width="1.0"/><path d="M383.50 357.81L387.50 357.81" stroke="#000" stroke-width="1.0"/><path d="M383.50 368.79L387.50 368.79" stroke="#000" stroke-width="1.0"/><path d="M412.90 375.57L412.90 379.48" stroke="#000" stroke-width="1.0"/><path d="M410.90 375.57L414.90 375.57" stroke="#000" stroke-width="1.0"/><path d="M410.90 379.48L414.90 379.48" stroke="#000" stroke-width="1.0"/><path d="M434.20 377.67L434.20 379.48" stroke="#000" stroke-width="1.0"/><path d="M432.20 377.67L436.20 377.67" stroke="#000" stroke-width="1.0"/><path d="M432.20 379.48L436.20 379.48" stroke="#000" stroke-width="1.0"/><path d="M461.80 381.59L461.80 382.79" stroke="#000" stroke-width="1.0"/><path d="M459.80 381.59L463.80 381.59" stroke="#000" stroke-width="1.0"/><path d="M459.80 382.79L463.80 382.79" stroke="#000" stroke-width="1.0"/><path d="M483.10 380.68L483.10 381.89" stroke="#000" stroke-width="1.0"/><path d="M481.10 380.68L485.10 380.68" stroke="#000" stroke-width="1.0"/><path d="M481.10 381.89L485.10 381.89" stroke="#000" stroke-width="1.0"/></svg></body></html>
